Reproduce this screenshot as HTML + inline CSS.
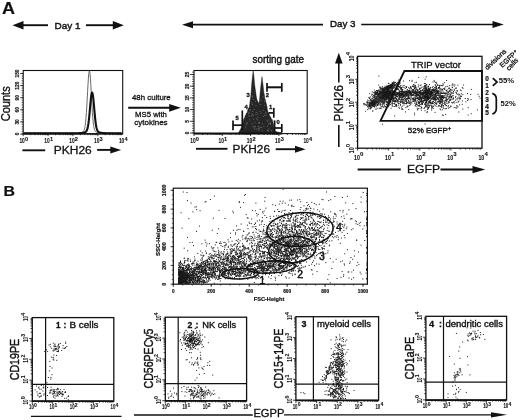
<!DOCTYPE html>
<html><head><meta charset="utf-8"><title>Figure</title>
<style>html,body{margin:0;padding:0;background:#fff;}svg{display:block}text{font-family:"Liberation Sans",Arial,sans-serif;}</style>
</head><body>
<svg width="520" height="420" viewBox="0 0 520 420">
<rect x="0" y="0" width="520" height="420" fill="#fff"/>
<text x="2" y="13.8" font-size="17.3" text-anchor="start" font-weight="bold" fill="#111"  textLength="13" lengthAdjust="spacingAndGlyphs" stroke="#111" stroke-width="0.2">A</text>
<line x1="48" y1="25.2" x2="22" y2="25.2" stroke="#111" stroke-width="1.9"/>
<polygon points="12.5,25.2 23.5,21 23.5,29.4" fill="#111"/>
<line x1="86" y1="25.2" x2="114" y2="25.2" stroke="#111" stroke-width="1.9"/>
<polygon points="123.8,25.2 112.8,21 112.8,29.4" fill="#111"/>
<text x="54.5" y="28.6" font-size="9.5" text-anchor="start" font-weight="normal" fill="#111"  textLength="26" lengthAdjust="spacingAndGlyphs" stroke="#111" stroke-width="0.4">Day 1</text>
<line x1="323" y1="24.6" x2="191" y2="24.6" stroke="#111" stroke-width="1.6"/>
<polygon points="182,24.8 193,21.3 193,28.3" fill="#111"/>
<line x1="361.2" y1="24.5" x2="494" y2="24.5" stroke="#111" stroke-width="1.6"/>
<polygon points="503.8,24.5 492.5,21 492.5,28" fill="#111"/>
<text x="330" y="27.2" font-size="9.5" text-anchor="start" font-weight="normal" fill="#111"  textLength="25.5" lengthAdjust="spacingAndGlyphs" stroke="#111" stroke-width="0.4">Day 3</text>
<rect x="23.2" y="70.5" width="99.5" height="63.30000000000001" stroke="#111" stroke-width="1.1" fill="none"/>
<line x1="23.2" y1="133.8" x2="122.7" y2="133.8" stroke="#111" stroke-width="1.2"/>
<path d="M23.20 133.8v2.4M30.69 133.8v1.4M35.07 133.8v1.4M38.18 133.8v1.4M40.59 133.8v1.4M42.56 133.8v1.4M44.22 133.8v1.4M45.66 133.8v1.4M46.94 133.8v1.4M48.08 133.8v2.4M55.56 133.8v1.4M59.94 133.8v1.4M63.05 133.8v1.4M65.46 133.8v1.4M67.43 133.8v1.4M69.10 133.8v1.4M70.54 133.8v1.4M71.81 133.8v1.4M72.95 133.8v2.4M80.44 133.8v1.4M84.82 133.8v1.4M87.93 133.8v1.4M90.34 133.8v1.4M92.31 133.8v1.4M93.97 133.8v1.4M95.41 133.8v1.4M96.69 133.8v1.4M97.83 133.8v2.4M105.31 133.8v1.4M109.69 133.8v1.4M112.80 133.8v1.4M115.21 133.8v1.4M117.18 133.8v1.4M118.85 133.8v1.4M120.29 133.8v1.4M121.56 133.8v1.4" stroke="#111" stroke-width="0.8" fill="none"/>
<text x="19.4" y="143.4" font-size="6.6" font-weight="bold" fill="#111" stroke="#111" stroke-width="0.08" textLength="5.4" lengthAdjust="spacingAndGlyphs">10</text>
<text x="25.0" y="140.8" font-size="5.6" font-weight="bold" fill="#111" stroke="#111" stroke-width="0.1">0</text>
<text x="44.3" y="143.4" font-size="6.6" font-weight="bold" fill="#111" stroke="#111" stroke-width="0.08" textLength="5.4" lengthAdjust="spacingAndGlyphs">10</text>
<text x="49.9" y="140.8" font-size="5.6" font-weight="bold" fill="#111" stroke="#111" stroke-width="0.1">1</text>
<text x="69.2" y="143.4" font-size="6.6" font-weight="bold" fill="#111" stroke="#111" stroke-width="0.08" textLength="5.4" lengthAdjust="spacingAndGlyphs">10</text>
<text x="74.8" y="140.8" font-size="5.6" font-weight="bold" fill="#111" stroke="#111" stroke-width="0.1">2</text>
<text x="94.0" y="143.4" font-size="6.6" font-weight="bold" fill="#111" stroke="#111" stroke-width="0.08" textLength="5.4" lengthAdjust="spacingAndGlyphs">10</text>
<text x="99.6" y="140.8" font-size="5.6" font-weight="bold" fill="#111" stroke="#111" stroke-width="0.1">3</text>
<text x="118.9" y="143.4" font-size="6.6" font-weight="bold" fill="#111" stroke="#111" stroke-width="0.08" textLength="5.4" lengthAdjust="spacingAndGlyphs">10</text>
<text x="124.5" y="140.8" font-size="5.6" font-weight="bold" fill="#111" stroke="#111" stroke-width="0.1">4</text>
<line x1="23.2" y1="134.0" x2="20.2" y2="134.0" stroke="#111" stroke-width="0.8"/>
<text x="18.8" y="135.35" font-size="5.8" text-anchor="start" font-weight="bold" fill="#111" transform="rotate(-90 18.8 135.35)"  textLength="2.7" lengthAdjust="spacingAndGlyphs" stroke="#111" stroke-width="0.2">0</text>
<line x1="23.2" y1="121.901" x2="20.2" y2="121.901" stroke="#111" stroke-width="0.8"/>
<text x="18.8" y="124.601" font-size="5.8" text-anchor="start" font-weight="bold" fill="#111" transform="rotate(-90 18.8 124.601)"  textLength="5.4" lengthAdjust="spacingAndGlyphs" stroke="#111" stroke-width="0.2">30</text>
<line x1="23.2" y1="109.80199999999999" x2="20.2" y2="109.80199999999999" stroke="#111" stroke-width="0.8"/>
<text x="18.8" y="112.502" font-size="5.8" text-anchor="start" font-weight="bold" fill="#111" transform="rotate(-90 18.8 112.502)"  textLength="5.4" lengthAdjust="spacingAndGlyphs" stroke="#111" stroke-width="0.2">60</text>
<line x1="23.2" y1="97.703" x2="20.2" y2="97.703" stroke="#111" stroke-width="0.8"/>
<text x="18.8" y="100.403" font-size="5.8" text-anchor="start" font-weight="bold" fill="#111" transform="rotate(-90 18.8 100.403)"  textLength="5.4" lengthAdjust="spacingAndGlyphs" stroke="#111" stroke-width="0.2">90</text>
<line x1="23.2" y1="85.604" x2="20.2" y2="85.604" stroke="#111" stroke-width="0.8"/>
<text x="18.8" y="89.654" font-size="5.8" text-anchor="start" font-weight="bold" fill="#111" transform="rotate(-90 18.8 89.654)"  textLength="8.100000000000001" lengthAdjust="spacingAndGlyphs" stroke="#111" stroke-width="0.2">120</text>
<line x1="23.2" y1="73.50500000000001" x2="20.2" y2="73.50500000000001" stroke="#111" stroke-width="0.8"/>
<text x="18.8" y="77.555" font-size="5.8" text-anchor="start" font-weight="bold" fill="#111" transform="rotate(-90 18.8 77.555)"  textLength="8.100000000000001" lengthAdjust="spacingAndGlyphs" stroke="#111" stroke-width="0.2">150</text>
<line x1="23.2" y1="134.0" x2="21.599999999999998" y2="134.0" stroke="#111" stroke-width="0.6"/>
<line x1="23.2" y1="131.5802" x2="21.599999999999998" y2="131.5802" stroke="#111" stroke-width="0.6"/>
<line x1="23.2" y1="129.1604" x2="21.599999999999998" y2="129.1604" stroke="#111" stroke-width="0.6"/>
<line x1="23.2" y1="126.7406" x2="21.599999999999998" y2="126.7406" stroke="#111" stroke-width="0.6"/>
<line x1="23.2" y1="124.3208" x2="21.599999999999998" y2="124.3208" stroke="#111" stroke-width="0.6"/>
<line x1="23.2" y1="121.901" x2="21.599999999999998" y2="121.901" stroke="#111" stroke-width="0.6"/>
<line x1="23.2" y1="119.4812" x2="21.599999999999998" y2="119.4812" stroke="#111" stroke-width="0.6"/>
<line x1="23.2" y1="117.06139999999999" x2="21.599999999999998" y2="117.06139999999999" stroke="#111" stroke-width="0.6"/>
<line x1="23.2" y1="114.6416" x2="21.599999999999998" y2="114.6416" stroke="#111" stroke-width="0.6"/>
<line x1="23.2" y1="112.2218" x2="21.599999999999998" y2="112.2218" stroke="#111" stroke-width="0.6"/>
<line x1="23.2" y1="109.80199999999999" x2="21.599999999999998" y2="109.80199999999999" stroke="#111" stroke-width="0.6"/>
<line x1="23.2" y1="107.3822" x2="21.599999999999998" y2="107.3822" stroke="#111" stroke-width="0.6"/>
<line x1="23.2" y1="104.9624" x2="21.599999999999998" y2="104.9624" stroke="#111" stroke-width="0.6"/>
<line x1="23.2" y1="102.5426" x2="21.599999999999998" y2="102.5426" stroke="#111" stroke-width="0.6"/>
<line x1="23.2" y1="100.1228" x2="21.599999999999998" y2="100.1228" stroke="#111" stroke-width="0.6"/>
<line x1="23.2" y1="97.703" x2="21.599999999999998" y2="97.703" stroke="#111" stroke-width="0.6"/>
<line x1="23.2" y1="95.2832" x2="21.599999999999998" y2="95.2832" stroke="#111" stroke-width="0.6"/>
<line x1="23.2" y1="92.8634" x2="21.599999999999998" y2="92.8634" stroke="#111" stroke-width="0.6"/>
<line x1="23.2" y1="90.4436" x2="21.599999999999998" y2="90.4436" stroke="#111" stroke-width="0.6"/>
<line x1="23.2" y1="88.0238" x2="21.599999999999998" y2="88.0238" stroke="#111" stroke-width="0.6"/>
<line x1="23.2" y1="85.604" x2="21.599999999999998" y2="85.604" stroke="#111" stroke-width="0.6"/>
<line x1="23.2" y1="83.1842" x2="21.599999999999998" y2="83.1842" stroke="#111" stroke-width="0.6"/>
<line x1="23.2" y1="80.7644" x2="21.599999999999998" y2="80.7644" stroke="#111" stroke-width="0.6"/>
<line x1="23.2" y1="78.3446" x2="21.599999999999998" y2="78.3446" stroke="#111" stroke-width="0.6"/>
<line x1="23.2" y1="75.9248" x2="21.599999999999998" y2="75.9248" stroke="#111" stroke-width="0.6"/>
<line x1="23.2" y1="73.505" x2="21.599999999999998" y2="73.505" stroke="#111" stroke-width="0.6"/>
<text x="10" y="121.3" font-size="12" text-anchor="start" font-weight="normal" fill="#111" transform="rotate(-90 10 121.3)"  textLength="35" lengthAdjust="spacingAndGlyphs" stroke="#111" stroke-width="0.35">Counts</text>
<path d="M24.0 133.0 L24.4 133.0 L24.8 133.0 L25.2 133.0 L25.6 133.0 L26.0 133.0 L26.4 133.0 L26.8 133.0 L27.2 133.0 L27.6 133.0 L28.0 133.0 L28.4 133.0 L28.8 133.0 L29.2 133.0 L29.6 133.0 L30.0 133.0 L30.4 133.0 L30.8 133.0 L31.2 133.0 L31.6 133.0 L32.0 133.0 L32.4 133.0 L32.8 133.0 L33.2 133.0 L33.6 133.0 L34.0 133.0 L34.4 133.0 L34.8 133.0 L35.2 133.0 L35.6 133.0 L36.0 133.0 L36.4 133.0 L36.8 133.0 L37.2 133.0 L37.6 133.0 L38.0 133.0 L38.4 133.0 L38.8 133.0 L39.2 133.0 L39.6 133.0 L40.0 133.0 L40.4 133.0 L40.8 133.0 L41.2 133.0 L41.6 133.0 L42.0 133.0 L42.4 133.0 L42.8 133.0 L43.2 133.0 L43.6 133.0 L44.0 133.0 L44.4 133.0 L44.8 133.0 L45.2 133.0 L45.6 133.0 L46.0 133.0 L46.4 133.0 L46.8 133.0 L47.2 133.0 L47.6 133.0 L48.0 133.0 L48.4 133.0 L48.8 133.0 L49.2 133.0 L49.6 133.0 L50.0 133.0 L50.4 133.0 L50.8 133.0 L51.2 133.0 L51.6 133.0 L52.0 133.0 L52.4 133.0 L52.8 133.0 L53.2 133.0 L53.6 133.0 L54.0 133.0 L54.4 133.0 L54.8 133.0 L55.2 133.0 L55.6 133.0 L56.0 133.0 L56.4 133.0 L56.8 133.0 L57.2 133.0 L57.6 133.0 L58.0 133.0 L58.4 133.0 L58.8 133.0 L59.2 133.0 L59.6 133.0 L60.0 133.0 L60.4 133.0 L60.8 133.0 L61.2 133.0 L61.6 133.0 L62.0 133.0 L62.4 133.0 L62.8 133.0 L63.2 133.0 L63.6 133.0 L64.0 133.0 L64.4 133.0 L64.8 133.0 L65.2 133.0 L65.6 133.0 L66.0 133.0 L66.4 133.0 L66.8 133.0 L67.2 133.0 L67.6 133.0 L68.0 133.0 L68.4 133.0 L68.8 133.0 L69.2 133.0 L69.6 133.0 L70.0 133.0 L70.4 133.0 L70.8 133.0 L71.2 133.0 L71.6 133.0 L72.0 133.0 L72.4 133.0 L72.8 133.0 L73.2 133.0 L73.6 133.0 L74.0 133.0 L74.4 133.0 L74.8 133.0 L75.2 133.0 L75.6 133.0 L76.0 133.0 L76.4 133.0 L76.8 133.0 L77.2 133.0 L77.6 133.0 L78.0 132.9 L78.4 132.9 L78.8 132.9 L79.2 132.9 L79.6 132.8 L80.0 132.8 L80.4 132.8 L80.8 132.7 L81.2 132.6 L81.6 132.5 L82.0 132.4 L82.4 132.2 L82.8 132.0 L83.2 131.7 L83.6 131.2 L84.0 130.5 L84.4 129.4 L84.8 127.7 L85.2 125.4 L85.6 122.2 L86.0 117.9 L86.4 112.6 L86.8 106.2 L87.2 99.1 L87.6 91.6 L88.0 84.4 L88.4 78.2 L88.8 73.6 L89.2 71.1 L89.6 71.1 L90.0 73.6 L90.4 78.2 L90.8 84.4 L91.2 91.6 L91.6 99.1 L92.0 106.2 L92.4 112.6 L92.8 117.9 L93.2 122.2 L93.6 125.4 L94.0 127.7 L94.4 129.4 L94.8 130.5 L95.2 131.2 L95.6 131.7 L96.0 132.0 L96.4 132.2 L96.8 132.4 L97.2 132.5 L97.6 132.6 L98.0 132.7 L98.4 132.8 L98.8 132.8 L99.2 132.8 L99.6 132.9 L100.0 132.9 L100.4 132.9 L100.8 132.9 L101.2 133.0 L101.6 133.0 L102.0 133.0 L102.4 133.0 L102.8 133.0 L103.2 133.0 L103.6 133.0 L104.0 133.0 L104.4 133.0 L104.8 133.0 L105.2 133.0 L105.6 133.0 L106.0 133.0 L106.4 133.0 L106.8 133.0 L107.2 133.0 L107.6 133.0 L108.0 133.0 L108.4 133.0 L108.8 133.0 L109.2 133.0 L109.6 133.0 L110.0 133.0 L110.4 133.0 L110.8 133.0 L111.2 133.0 L111.6 133.0 L112.0 133.0 L112.4 133.0 L112.8 133.0 L113.2 133.0 L113.6 133.0 L114.0 133.0 L114.4 133.0 L114.8 133.0 L115.2 133.0 L115.6 133.0 L116.0 133.0 L116.4 133.0 L116.8 133.0 L117.2 133.0 L117.6 133.0 L118.0 133.0 L118.4 133.0 L118.8 133.0 L119.2 133.0 L119.6 133.0 L120.0 133.0 L120.4 133.0 L120.8 133.0 L121.2 133.0 L121.6 133.0" stroke="#666" stroke-width="1" fill="none"/>
<path d="M24.0 133.2 L24.4 133.2 L24.8 133.2 L25.2 133.2 L25.6 133.2 L26.0 133.2 L26.4 133.2 L26.8 133.2 L27.2 133.2 L27.6 133.2 L28.0 133.2 L28.4 133.2 L28.8 133.2 L29.2 133.2 L29.6 133.2 L30.0 133.2 L30.4 133.2 L30.8 133.2 L31.2 133.2 L31.6 133.2 L32.0 133.2 L32.4 133.2 L32.8 133.2 L33.2 133.2 L33.6 133.2 L34.0 133.2 L34.4 133.2 L34.8 133.2 L35.2 133.2 L35.6 133.2 L36.0 133.2 L36.4 133.2 L36.8 133.2 L37.2 133.2 L37.6 133.2 L38.0 133.2 L38.4 133.2 L38.8 133.2 L39.2 133.2 L39.6 133.2 L40.0 133.2 L40.4 133.2 L40.8 133.2 L41.2 133.2 L41.6 133.2 L42.0 133.2 L42.4 133.2 L42.8 133.2 L43.2 133.2 L43.6 133.2 L44.0 133.2 L44.4 133.2 L44.8 133.2 L45.2 133.2 L45.6 133.2 L46.0 133.2 L46.4 133.2 L46.8 133.2 L47.2 133.2 L47.6 133.2 L48.0 133.2 L48.4 133.2 L48.8 133.2 L49.2 133.2 L49.6 133.2 L50.0 133.2 L50.4 133.2 L50.8 133.2 L51.2 133.2 L51.6 133.2 L52.0 133.2 L52.4 133.2 L52.8 133.2 L53.2 133.2 L53.6 133.2 L54.0 133.2 L54.4 133.2 L54.8 133.2 L55.2 133.2 L55.6 133.2 L56.0 133.2 L56.4 133.2 L56.8 133.2 L57.2 133.2 L57.6 133.2 L58.0 133.2 L58.4 133.2 L58.8 133.2 L59.2 133.2 L59.6 133.2 L60.0 133.2 L60.4 133.2 L60.8 133.2 L61.2 133.2 L61.6 133.2 L62.0 133.2 L62.4 133.2 L62.8 133.2 L63.2 133.2 L63.6 133.2 L64.0 133.2 L64.4 133.2 L64.8 133.2 L65.2 133.2 L65.6 133.2 L66.0 133.2 L66.4 133.2 L66.8 133.2 L67.2 133.2 L67.6 133.2 L68.0 133.2 L68.4 133.2 L68.8 133.2 L69.2 133.2 L69.6 133.2 L70.0 133.2 L70.4 133.2 L70.8 133.2 L71.2 133.2 L71.6 133.2 L72.0 133.2 L72.4 133.2 L72.8 133.2 L73.2 133.2 L73.6 133.2 L74.0 133.2 L74.4 133.2 L74.8 133.2 L75.2 133.2 L75.6 133.2 L76.0 133.2 L76.4 133.2 L76.8 133.2 L77.2 133.2 L77.6 133.2 L78.0 133.2 L78.4 133.2 L78.8 133.2 L79.2 133.2 L79.6 133.1 L80.0 133.1 L80.4 133.1 L80.8 133.1 L81.2 133.0 L81.6 133.0 L82.0 133.0 L82.4 132.9 L82.8 132.9 L83.2 132.8 L83.6 132.7 L84.0 132.6 L84.4 132.5 L84.8 132.4 L85.2 132.2 L85.6 131.9 L86.0 131.6 L86.4 131.1 L86.8 130.4 L87.2 129.5 L87.6 128.1 L88.0 126.2 L88.4 123.7 L88.8 120.7 L89.2 117.0 L89.6 112.8 L90.0 108.2 L90.4 103.7 L90.8 99.5 L91.2 96.0 L91.6 93.6 L92.0 92.5 L92.4 92.9 L92.8 94.7 L93.2 97.7 L93.6 101.5 L94.0 106.0 L94.4 110.5 L94.8 114.9 L95.2 118.9 L95.6 122.3 L96.0 125.0 L96.4 127.2 L96.8 128.8 L97.2 130.0 L97.6 130.8 L98.0 131.4 L98.4 131.8 L98.8 132.1 L99.2 132.3 L99.6 132.4 L100.0 132.6 L100.4 132.7 L100.8 132.8 L101.2 132.8 L101.6 132.9 L102.0 132.9 L102.4 133.0 L102.8 133.0 L103.2 133.1 L103.6 133.1 L104.0 133.1 L104.4 133.1 L104.8 133.1 L105.2 133.2 L105.6 133.2 L106.0 133.2 L106.4 133.2 L106.8 133.2 L107.2 133.2 L107.6 133.2 L108.0 133.2 L108.4 133.2 L108.8 133.2 L109.2 133.2 L109.6 133.2 L110.0 133.2 L110.4 133.2 L110.8 133.2 L111.2 133.2 L111.6 133.2 L112.0 133.2 L112.4 133.2 L112.8 133.2 L113.2 133.2 L113.6 133.2 L114.0 133.2 L114.4 133.2 L114.8 133.2 L115.2 133.2 L115.6 133.2 L116.0 133.2 L116.4 133.2 L116.8 133.2 L117.2 133.2 L117.6 133.2 L118.0 133.2 L118.4 133.2 L118.8 133.2 L119.2 133.2 L119.6 133.2 L120.0 133.2 L120.4 133.2 L120.8 133.2 L121.2 133.2 L121.6 133.2" stroke="#111" stroke-width="2.1" fill="none" stroke-linejoin="round"/>
<line x1="22.4" y1="150.3" x2="45.2" y2="150.3" stroke="#111" stroke-width="1.9"/>
<text x="53.8" y="153.7" font-size="11.7" text-anchor="start" font-weight="normal" fill="#111"  textLength="38" lengthAdjust="spacingAndGlyphs" stroke="#111" stroke-width="0.3">PKH26</text>
<line x1="97.2" y1="149.9" x2="112" y2="149.9" stroke="#111" stroke-width="1.9"/>
<polygon points="121.2,149.9 110.3,146.4 110.3,153.4" fill="#111"/>
<text x="132" y="99.8" font-size="7.8" text-anchor="start" font-weight="normal" fill="#111"  textLength="38.7" lengthAdjust="spacingAndGlyphs" stroke="#111" stroke-width="0.3">48h culture</text>
<line x1="128.2" y1="107.8" x2="171" y2="107.8" stroke="#111" stroke-width="1.9"/>
<polygon points="180.8,107.8 169.2,103.9 169.2,111.7" fill="#111"/>
<text x="135.1" y="116.8" font-size="7.8" text-anchor="start" font-weight="normal" fill="#111"  textLength="31.8" lengthAdjust="spacingAndGlyphs" stroke="#111" stroke-width="0.3">MS5 with</text>
<text x="134.3" y="124.5" font-size="7.8" text-anchor="start" font-weight="normal" fill="#111"  textLength="33.3" lengthAdjust="spacingAndGlyphs" stroke="#111" stroke-width="0.3">cytokines</text>
<path d="M238.4 133.4 L238.4 133.0 L238.9 132.0 L239.5 131.0 L240.0 130.0 L240.5 129.2 L241.0 128.3 L241.5 127.2 L242.0 126.6 L242.5 123.9 L243.0 123.4 L243.5 119.6 L244.0 118.6 L244.5 118.1 L244.9 116.7 L245.4 114.9 L245.8 115.3 L246.3 113.0 L246.7 113.3 L247.2 112.3 L247.7 109.9 L248.2 108.5 L248.6 108.1 L249.1 107.9 L249.6 105.2 L250.2 100.0 L250.8 96.5 L251.6 85.0 L252.1 80.0 L252.6 75.0 L253.2 70.8 L253.8 75.0 L254.7 85.0 L255.2 88.7 L255.7 91.8 L256.2 96.0 L256.7 98.3 L257.3 100.8 L257.8 101.3 L258.4 102.4 L258.9 104.0 L259.5 100.2 L260.1 93.0 L260.6 88.0 L261.2 83.0 L262.0 76.6 L262.8 83.0 L263.4 88.0 L263.9 93.0 L264.3 94.1 L264.8 98.6 L265.2 99.0 L265.7 101.5 L266.2 103.2 L266.8 105.6 L267.3 108.7 L267.9 111.4 L268.4 113.7 L268.9 112.9 L269.5 115.2 L270.0 116.4 L270.5 116.8 L271.0 117.8 L271.5 119.4 L271.9 119.0 L272.4 120.0 L272.9 122.1 L273.5 124.5 L274.0 128.0 L274.6 131.0 L275.1 131.2 L275.6 131.3 L276.1 131.5 L276.6 131.7 L277.1 131.8 L277.6 132.0 L278.1 132.1 L278.6 132.3 L279.1 132.4 L279.6 132.5 L280.1 132.6 L280.5 132.7 L281.0 132.8 L281.5 132.9 L282.0 133.0 L282 133.4Z" fill="#262626" stroke="#1a1a1a" stroke-width="0.4"/>
<path d="M262.8 110.4h0.9M251.1 116.1h0.9M255.5 105.8h0.9M266.4 120.2h0.9M248.8 115.7h0.9M257.8 126.5h0.9M264.3 105.4h0.9M254.4 122.3h0.9M265.5 115.6h0.9M263.2 116.4h0.9M259.6 111.4h0.9M267.9 129.0h0.9M256.2 118.9h0.9M261.7 130.8h0.9M253.3 119.1h0.9M253.5 126.4h0.9M258.6 126.8h0.9M267.2 126.1h0.9M249.9 110.0h0.9M252.5 126.8h0.9M248.5 112.5h0.9M259.9 104.5h0.9M252.8 115.4h0.9M257.5 117.2h0.9M262.6 96.9h0.9M269.8 123.1h0.9M269.0 123.7h0.9M253.6 109.4h0.9M251.9 96.9h0.9M260.7 100.3h0.9M252.7 99.4h0.9M268.2 130.8h0.9M255.9 112.4h0.9M252.0 104.5h0.9M257.9 130.2h0.9M268.6 120.1h0.9M246.3 122.8h0.9M258.0 123.0h0.9M251.5 103.0h0.9M267.0 130.5h0.9M268.3 124.0h0.9M267.2 121.6h0.9M248.3 113.6h0.9M252.4 96.0h0.9M249.3 119.9h0.9M271.0 130.6h0.9M261.0 127.4h0.9M261.9 123.8h0.9M270.1 123.2h0.9M265.0 112.2h0.9M246.7 123.4h0.9M251.6 123.8h0.9M253.8 129.1h0.9M264.2 101.1h0.9M270.0 124.0h0.9M245.7 124.8h0.9M252.2 114.8h0.9M257.9 128.6h0.9M254.9 126.4h0.9M248.7 116.1h0.9M249.3 110.1h0.9M245.2 127.8h0.9M252.3 111.5h0.9M259.7 127.6h0.9M254.5 128.0h0.9M257.1 114.1h0.9M255.1 101.6h0.9M264.2 115.0h0.9M251.4 113.7h0.9M258.8 123.2h0.9M265.7 113.3h0.9M259.0 122.4h0.9M260.6 113.2h0.9M257.4 119.9h0.9M255.5 114.2h0.9M256.3 128.9h0.9M263.4 126.6h0.9M258.9 129.0h0.9" stroke="#777" stroke-width="0.9" fill="none" opacity="1"/>
<rect x="194" y="70.5" width="113.19999999999999" height="63.099999999999994" stroke="#111" stroke-width="1.1" fill="none"/>
<line x1="194" y1="133.4" x2="282" y2="133.4" stroke="#111" stroke-width="2"/>
<path d="M194.00 133.6v2.4M202.52 133.6v1.4M207.50 133.6v1.4M211.04 133.6v1.4M213.78 133.6v1.4M216.02 133.6v1.4M217.92 133.6v1.4M219.56 133.6v1.4M221.01 133.6v1.4M222.30 133.6v2.4M230.82 133.6v1.4M235.80 133.6v1.4M239.34 133.6v1.4M242.08 133.6v1.4M244.32 133.6v1.4M246.22 133.6v1.4M247.86 133.6v1.4M249.31 133.6v1.4M250.60 133.6v2.4M259.12 133.6v1.4M264.10 133.6v1.4M267.64 133.6v1.4M270.38 133.6v1.4M272.62 133.6v1.4M274.52 133.6v1.4M276.16 133.6v1.4M277.61 133.6v1.4M278.90 133.6v2.4M287.42 133.6v1.4M292.40 133.6v1.4M295.94 133.6v1.4M298.68 133.6v1.4M300.92 133.6v1.4M302.82 133.6v1.4M304.46 133.6v1.4M305.91 133.6v1.4" stroke="#111" stroke-width="0.8" fill="none"/>
<text x="190.2" y="143.4" font-size="6.6" font-weight="bold" fill="#111" stroke="#111" stroke-width="0.08" textLength="5.4" lengthAdjust="spacingAndGlyphs">10</text>
<text x="195.8" y="140.8" font-size="5.6" font-weight="bold" fill="#111" stroke="#111" stroke-width="0.1">0</text>
<text x="218.5" y="143.4" font-size="6.6" font-weight="bold" fill="#111" stroke="#111" stroke-width="0.08" textLength="5.4" lengthAdjust="spacingAndGlyphs">10</text>
<text x="224.1" y="140.8" font-size="5.6" font-weight="bold" fill="#111" stroke="#111" stroke-width="0.1">1</text>
<text x="246.8" y="143.4" font-size="6.6" font-weight="bold" fill="#111" stroke="#111" stroke-width="0.08" textLength="5.4" lengthAdjust="spacingAndGlyphs">10</text>
<text x="252.4" y="140.8" font-size="5.6" font-weight="bold" fill="#111" stroke="#111" stroke-width="0.1">2</text>
<text x="275.1" y="143.4" font-size="6.6" font-weight="bold" fill="#111" stroke="#111" stroke-width="0.08" textLength="5.4" lengthAdjust="spacingAndGlyphs">10</text>
<text x="280.7" y="140.8" font-size="5.6" font-weight="bold" fill="#111" stroke="#111" stroke-width="0.1">3</text>
<text x="303.4" y="143.4" font-size="6.6" font-weight="bold" fill="#111" stroke="#111" stroke-width="0.08" textLength="5.4" lengthAdjust="spacingAndGlyphs">10</text>
<text x="309.0" y="140.8" font-size="5.6" font-weight="bold" fill="#111" stroke="#111" stroke-width="0.1">4</text>
<line x1="194" y1="133.0" x2="189.8" y2="133.0" stroke="#111" stroke-width="0.8"/>
<text x="188.8" y="134.35" font-size="5.8" text-anchor="start" font-weight="bold" fill="#111" transform="rotate(-90 188.8 134.35)"  textLength="2.7" lengthAdjust="spacingAndGlyphs" stroke="#111" stroke-width="0.2">0</text>
<line x1="194" y1="121.3" x2="189.8" y2="121.3" stroke="#111" stroke-width="0.8"/>
<text x="188.8" y="122.64999999999999" font-size="5.8" text-anchor="start" font-weight="bold" fill="#111" transform="rotate(-90 188.8 122.64999999999999)"  textLength="2.7" lengthAdjust="spacingAndGlyphs" stroke="#111" stroke-width="0.2">5</text>
<line x1="194" y1="109.6" x2="189.8" y2="109.6" stroke="#111" stroke-width="0.8"/>
<text x="188.8" y="112.3" font-size="5.8" text-anchor="start" font-weight="bold" fill="#111" transform="rotate(-90 188.8 112.3)"  textLength="5.4" lengthAdjust="spacingAndGlyphs" stroke="#111" stroke-width="0.2">10</text>
<line x1="194" y1="97.9" x2="189.8" y2="97.9" stroke="#111" stroke-width="0.8"/>
<text x="188.8" y="100.60000000000001" font-size="5.8" text-anchor="start" font-weight="bold" fill="#111" transform="rotate(-90 188.8 100.60000000000001)"  textLength="5.4" lengthAdjust="spacingAndGlyphs" stroke="#111" stroke-width="0.2">15</text>
<line x1="194" y1="86.2" x2="189.8" y2="86.2" stroke="#111" stroke-width="0.8"/>
<text x="188.8" y="88.9" font-size="5.8" text-anchor="start" font-weight="bold" fill="#111" transform="rotate(-90 188.8 88.9)"  textLength="5.4" lengthAdjust="spacingAndGlyphs" stroke="#111" stroke-width="0.2">20</text>
<line x1="194" y1="74.5" x2="189.8" y2="74.5" stroke="#111" stroke-width="0.8"/>
<text x="188.8" y="77.2" font-size="5.8" text-anchor="start" font-weight="bold" fill="#111" transform="rotate(-90 188.8 77.2)"  textLength="5.4" lengthAdjust="spacingAndGlyphs" stroke="#111" stroke-width="0.2">25</text>
<line x1="194" y1="133.0" x2="192" y2="133.0" stroke="#111" stroke-width="0.6"/>
<line x1="194" y1="130.66" x2="192" y2="130.66" stroke="#111" stroke-width="0.6"/>
<line x1="194" y1="128.32" x2="192" y2="128.32" stroke="#111" stroke-width="0.6"/>
<line x1="194" y1="125.98" x2="192" y2="125.98" stroke="#111" stroke-width="0.6"/>
<line x1="194" y1="123.64" x2="192" y2="123.64" stroke="#111" stroke-width="0.6"/>
<line x1="194" y1="121.3" x2="192" y2="121.3" stroke="#111" stroke-width="0.6"/>
<line x1="194" y1="118.96000000000001" x2="192" y2="118.96000000000001" stroke="#111" stroke-width="0.6"/>
<line x1="194" y1="116.62" x2="192" y2="116.62" stroke="#111" stroke-width="0.6"/>
<line x1="194" y1="114.28" x2="192" y2="114.28" stroke="#111" stroke-width="0.6"/>
<line x1="194" y1="111.94" x2="192" y2="111.94" stroke="#111" stroke-width="0.6"/>
<line x1="194" y1="109.6" x2="192" y2="109.6" stroke="#111" stroke-width="0.6"/>
<line x1="194" y1="107.26" x2="192" y2="107.26" stroke="#111" stroke-width="0.6"/>
<line x1="194" y1="104.92" x2="192" y2="104.92" stroke="#111" stroke-width="0.6"/>
<line x1="194" y1="102.58" x2="192" y2="102.58" stroke="#111" stroke-width="0.6"/>
<line x1="194" y1="100.24000000000001" x2="192" y2="100.24000000000001" stroke="#111" stroke-width="0.6"/>
<line x1="194" y1="97.9" x2="192" y2="97.9" stroke="#111" stroke-width="0.6"/>
<line x1="194" y1="95.56" x2="192" y2="95.56" stroke="#111" stroke-width="0.6"/>
<line x1="194" y1="93.22" x2="192" y2="93.22" stroke="#111" stroke-width="0.6"/>
<line x1="194" y1="90.88" x2="192" y2="90.88" stroke="#111" stroke-width="0.6"/>
<line x1="194" y1="88.54" x2="192" y2="88.54" stroke="#111" stroke-width="0.6"/>
<line x1="194" y1="86.2" x2="192" y2="86.2" stroke="#111" stroke-width="0.6"/>
<line x1="194" y1="83.86" x2="192" y2="83.86" stroke="#111" stroke-width="0.6"/>
<line x1="194" y1="81.52000000000001" x2="192" y2="81.52000000000001" stroke="#111" stroke-width="0.6"/>
<line x1="194" y1="79.18" x2="192" y2="79.18" stroke="#111" stroke-width="0.6"/>
<line x1="194" y1="76.84" x2="192" y2="76.84" stroke="#111" stroke-width="0.6"/>
<line x1="194" y1="74.5" x2="192" y2="74.5" stroke="#111" stroke-width="0.6"/>
<line x1="194" y1="72.16" x2="192" y2="72.16" stroke="#111" stroke-width="0.6"/>
<line x1="267" y1="87.3" x2="281.8" y2="87.3" stroke="#111" stroke-width="2"/>
<line x1="267" y1="82.9" x2="267" y2="91.8" stroke="#111" stroke-width="1.7"/>
<line x1="281.8" y1="82.9" x2="281.8" y2="91.8" stroke="#111" stroke-width="1.7"/>
<line x1="233" y1="125.2" x2="242" y2="125.2" stroke="#111" stroke-width="1.7"/>
<line x1="233" y1="120.4" x2="233" y2="130.2" stroke="#111" stroke-width="1.7"/>
<line x1="242.3" y1="110.5" x2="242.3" y2="130" stroke="#111" stroke-width="1.7"/>
<line x1="268.4" y1="112.9" x2="273.8" y2="112.9" stroke="#111" stroke-width="1.7"/>
<line x1="273.8" y1="107.9" x2="273.8" y2="117.7" stroke="#111" stroke-width="1.7"/>
<line x1="274.3" y1="128" x2="281.8" y2="128" stroke="#111" stroke-width="1.7"/>
<line x1="274.6" y1="120.4" x2="274.6" y2="132.5" stroke="#111" stroke-width="1.7"/>
<line x1="281.8" y1="124" x2="281.8" y2="132.5" stroke="#111" stroke-width="1.7"/>
<text x="237.1" y="120.2" font-size="5.8" text-anchor="middle" font-weight="bold" fill="#111"  stroke="#111" stroke-width="0.3">5</text>
<text x="246" y="109" font-size="5.8" text-anchor="middle" font-weight="bold" fill="#111"  stroke="#111" stroke-width="0.3">4</text>
<text x="248.2" y="97" font-size="5.8" text-anchor="middle" font-weight="bold" fill="#111"  stroke="#111" stroke-width="0.3">3</text>
<text x="267.3" y="97.4" font-size="5.8" text-anchor="middle" font-weight="bold" fill="#111"  stroke="#111" stroke-width="0.3">2</text>
<text x="270.5" y="109.3" font-size="5.8" text-anchor="middle" font-weight="bold" fill="#111"  stroke="#111" stroke-width="0.3">1</text>
<text x="278.2" y="124.1" font-size="5.8" text-anchor="middle" font-weight="bold" fill="#111"  stroke="#111" stroke-width="0.3">0</text>
<text x="252.5" y="62.5" font-size="10" text-anchor="start" font-weight="normal" fill="#111"  textLength="51.5" lengthAdjust="spacingAndGlyphs" stroke="#111" stroke-width="0.4">sorting gate</text>
<line x1="196" y1="148.8" x2="227.5" y2="148.8" stroke="#111" stroke-width="1.9"/>
<text x="232.5" y="152.7" font-size="11.7" text-anchor="start" font-weight="normal" fill="#111"  textLength="37.5" lengthAdjust="spacingAndGlyphs" stroke="#111" stroke-width="0.3">PKH26</text>
<line x1="275.7" y1="149.2" x2="297" y2="149.2" stroke="#111" stroke-width="1.9"/>
<polygon points="305.6,149.2 295,145.7 295,152.7" fill="#111"/>
<path d="M388.8 97.6h1.0M383.3 88.7h1.0M386.1 101.2h1.0M378.7 96.8h1.0M392.5 86.5h1.0M383.4 106.6h1.0M374.7 102.9h1.0M392.2 93.2h1.0M384.0 100.3h1.0M374.9 99.7h1.0M382.3 100.6h1.0M380.3 97.3h1.0M374.2 98.9h1.0M386.0 96.4h1.0M375.2 96.6h1.0M397.0 96.4h1.0M384.5 86.2h1.0M384.4 98.5h1.0M390.9 95.8h1.0M380.1 100.2h1.0M368.4 106.6h1.0M382.5 94.5h1.0M388.7 102.2h1.0M371.8 98.6h1.0M382.3 98.1h1.0M378.0 95.0h1.0M393.6 97.3h1.0M373.1 95.4h1.0M391.1 98.0h1.0M391.8 97.0h1.0M375.1 101.0h1.0M367.1 100.0h1.0M380.1 100.2h1.0M376.0 99.2h1.0M383.3 98.4h1.0M384.5 97.4h1.0M378.5 101.9h1.0M380.8 94.6h1.0M376.6 99.4h1.0M379.8 98.9h1.0M380.5 98.7h1.0M379.7 93.3h1.0M383.1 101.2h1.0M383.2 96.2h1.0M383.3 93.1h1.0M368.7 102.6h1.0M374.7 103.1h1.0M373.8 90.0h1.0M374.1 106.7h1.0M378.1 93.4h1.0M375.8 101.8h1.0M383.6 97.6h1.0M389.7 97.4h1.0M380.4 100.4h1.0M390.8 98.1h1.0M386.8 91.3h1.0M379.6 101.2h1.0M378.7 102.9h1.0M384.2 100.2h1.0M379.2 108.6h1.0M388.2 94.3h1.0M381.1 108.1h1.0M378.4 102.3h1.0M386.6 95.8h1.0M373.3 101.4h1.0M382.7 101.7h1.0M385.4 96.3h1.0M385.8 98.2h1.0M381.8 97.7h1.0M379.0 101.3h1.0M374.0 97.9h1.0M380.5 92.2h1.0M377.8 91.0h1.0M376.3 101.8h1.0M384.0 96.5h1.0M379.1 92.9h1.0M391.8 95.9h1.0M387.3 92.0h1.0M379.4 91.2h1.0M385.3 99.9h1.0M368.7 102.2h1.0M384.4 89.5h1.0M369.2 98.0h1.0M376.6 93.9h1.0M380.7 98.9h1.0M384.4 99.3h1.0M389.8 99.2h1.0M372.4 99.0h1.0M373.9 96.1h1.0M380.0 98.2h1.0M383.5 90.6h1.0M372.8 100.8h1.0M379.3 97.2h1.0M380.1 95.1h1.0M384.8 97.8h1.0M380.0 95.5h1.0M379.4 87.6h1.0M374.4 100.4h1.0M371.2 102.3h1.0M381.4 92.2h1.0M378.9 97.3h1.0M383.4 99.4h1.0M380.3 94.7h1.0M379.6 98.1h1.0M385.1 97.5h1.0M376.0 94.3h1.0M378.2 95.9h1.0M373.6 100.1h1.0M377.5 99.5h1.0M383.7 95.2h1.0M394.9 91.4h1.0M387.3 96.0h1.0M387.4 86.0h1.0M375.8 100.7h1.0M384.2 105.9h1.0M382.5 102.4h1.0M385.3 100.0h1.0M383.7 96.2h1.0M383.7 92.5h1.0M387.8 91.2h1.0M382.0 105.9h1.0M379.1 98.6h1.0M387.7 95.4h1.0M375.5 100.9h1.0M384.1 99.5h1.0M375.7 106.8h1.0M390.8 94.2h1.0M382.2 95.7h1.0M389.3 91.9h1.0M384.7 94.5h1.0M376.2 102.5h1.0M388.8 94.9h1.0M376.3 102.8h1.0M380.2 99.4h1.0M389.9 99.0h1.0M377.3 108.3h1.0M380.5 101.1h1.0M376.5 99.3h1.0M369.7 109.1h1.0M389.0 90.0h1.0M371.2 95.0h1.0M387.8 93.5h1.0M380.1 96.9h1.0M379.7 93.9h1.0M380.6 92.2h1.0M380.1 99.4h1.0M383.4 96.0h1.0M374.9 100.7h1.0M377.5 105.4h1.0M385.3 95.8h1.0M377.6 96.3h1.0M374.7 98.7h1.0M382.3 99.4h1.0M384.0 105.1h1.0M376.1 99.7h1.0M397.8 84.1h1.0M377.3 99.9h1.0M381.5 99.3h1.0M379.0 100.0h1.0M380.8 101.0h1.0M368.8 98.8h1.0M380.5 93.9h1.0M374.0 102.9h1.0M376.5 102.0h1.0M385.1 97.5h1.0M383.6 96.4h1.0M371.8 101.1h1.0M383.3 94.8h1.0M379.9 101.2h1.0M375.1 102.6h1.0M392.0 91.5h1.0M381.4 97.1h1.0M390.0 95.7h1.0M386.1 93.2h1.0M380.4 98.0h1.0M369.5 107.8h1.0M386.1 89.0h1.0M385.1 95.8h1.0M383.3 98.4h1.0M371.2 100.6h1.0M389.8 92.3h1.0M374.2 94.9h1.0M372.9 102.1h1.0M391.0 95.8h1.0M382.0 106.3h1.0M377.3 96.5h1.0M383.8 99.0h1.0M374.2 95.7h1.0M382.3 98.3h1.0M372.4 100.2h1.0M377.1 101.1h1.0M379.8 97.9h1.0M378.3 103.0h1.0M389.1 93.3h1.0M385.7 93.0h1.0M380.9 100.8h1.0M389.9 93.0h1.0M380.0 99.0h1.0M371.2 101.5h1.0M376.3 101.0h1.0M373.5 92.7h1.0M380.7 99.0h1.0M377.1 102.8h1.0M378.8 96.2h1.0M383.5 90.7h1.0M376.3 99.5h1.0M385.8 95.4h1.0M382.4 94.7h1.0M382.4 103.9h1.0M376.2 109.0h1.0M376.5 99.5h1.0M381.6 101.7h1.0M372.8 92.5h1.0M384.3 99.8h1.0M384.4 107.0h1.0M381.8 98.5h1.0M386.3 97.3h1.0M390.8 89.2h1.0M378.2 85.1h1.0M385.5 94.6h1.0M386.2 104.5h1.0M380.5 97.0h1.0M377.4 95.8h1.0M376.6 102.0h1.0M380.7 98.2h1.0M379.4 102.0h1.0M383.6 96.3h1.0M384.6 95.9h1.0M373.4 106.4h1.0M383.4 93.1h1.0M387.2 96.9h1.0M370.8 108.0h1.0M382.6 100.8h1.0M381.7 96.9h1.0M370.9 105.4h1.0M380.7 96.8h1.0M382.7 97.5h1.0M384.7 95.0h1.0M380.3 89.6h1.0M377.9 101.7h1.0M388.8 93.5h1.0M379.7 104.6h1.0M378.5 101.7h1.0M390.9 94.3h1.0M388.1 92.3h1.0M381.8 97.2h1.0M381.2 102.2h1.0M395.3 89.9h1.0M376.9 101.3h1.0M374.0 102.4h1.0M384.0 95.6h1.0M383.8 90.6h1.0M385.2 90.1h1.0M376.2 97.4h1.0M378.0 102.3h1.0M381.0 96.2h1.0M383.9 103.0h1.0M380.5 99.4h1.0M388.2 96.2h1.0M372.5 110.9h1.0M394.2 85.0h1.0M380.3 99.8h1.0M386.5 98.4h1.0M378.8 94.4h1.0M381.1 101.9h1.0M373.7 96.4h1.0M380.3 90.3h1.0M378.9 96.9h1.0M383.3 94.2h1.0M375.0 98.5h1.0M380.2 95.5h1.0M380.6 101.0h1.0M387.8 102.1h1.0M375.6 98.1h1.0M365.1 111.3h1.0M376.0 99.5h1.0M383.7 91.4h1.0M383.4 96.8h1.0M369.2 103.4h1.0M387.9 87.8h1.0M385.5 97.0h1.0M383.4 98.7h1.0M388.6 94.1h1.0M385.9 94.4h1.0M385.0 93.1h1.0M379.8 105.1h1.0M383.3 96.3h1.0M373.4 97.5h1.0M381.7 101.3h1.0M383.1 99.1h1.0M380.2 103.5h1.0M378.1 96.7h1.0M386.0 96.2h1.0M378.8 96.3h1.0M378.9 101.1h1.0M382.7 92.4h1.0M383.1 97.7h1.0M374.3 103.4h1.0M378.8 97.3h1.0M385.4 101.4h1.0M376.2 101.3h1.0M375.1 109.2h1.0M377.4 103.9h1.0M376.5 102.7h1.0M394.3 82.8h1.0M377.8 101.0h1.0M379.9 95.6h1.0M393.8 93.4h1.0M370.3 105.2h1.0M369.8 106.5h1.0M376.9 99.9h1.0M388.3 95.6h1.0M371.9 94.4h1.0M387.8 98.2h1.0M375.4 103.3h1.0M383.6 99.4h1.0M366.5 102.0h1.0M386.1 98.9h1.0M386.0 86.2h1.0M381.5 99.6h1.0M396.3 88.3h1.0M378.5 98.9h1.0M386.0 94.2h1.0M387.6 92.2h1.0M382.2 95.3h1.0M381.5 94.9h1.0M370.6 106.0h1.0M382.4 95.1h1.0M381.7 101.5h1.0M374.4 99.8h1.0M383.8 98.9h1.0M378.4 90.4h1.0M388.2 96.4h1.0M380.6 96.9h1.0M382.1 95.7h1.0M374.1 97.4h1.0M376.8 96.9h1.0M373.3 103.2h1.0M372.4 103.6h1.0M374.2 101.7h1.0M389.0 95.6h1.0M376.0 99.9h1.0M381.4 90.8h1.0M376.7 100.0h1.0M377.6 99.4h1.0M385.1 99.4h1.0M386.1 98.3h1.0M378.7 98.6h1.0M378.8 97.4h1.0M379.4 91.5h1.0M378.4 98.7h1.0M374.5 100.1h1.0M383.7 96.2h1.0M393.4 82.8h1.0M379.2 91.2h1.0M386.6 106.3h1.0M365.0 104.3h1.0M383.7 95.6h1.0M383.9 87.8h1.0M385.8 97.5h1.0M380.6 95.6h1.0M384.5 94.6h1.0M381.9 95.5h1.0M366.6 103.0h1.0M381.8 100.5h1.0M375.1 99.9h1.0M384.3 97.2h1.0M388.2 103.1h1.0M374.9 92.4h1.0M385.8 102.1h1.0M386.2 99.1h1.0M376.7 96.6h1.0M386.0 92.3h1.0M369.3 98.2h1.0M396.0 99.9h1.0M376.2 96.7h1.0M381.9 94.5h1.0M388.6 94.7h1.0M373.8 105.7h1.0M376.9 100.2h1.0M380.4 96.8h1.0M382.5 94.5h1.0M369.1 93.4h1.0M372.6 97.9h1.0M380.4 98.3h1.0M383.9 97.2h1.0M375.6 97.0h1.0M367.4 102.2h1.0M383.5 99.0h1.0M379.7 97.6h1.0M386.3 95.9h1.0M385.1 98.6h1.0M381.8 102.7h1.0M376.9 97.9h1.0M375.5 96.7h1.0M390.1 101.4h1.0M380.6 100.2h1.0M387.8 98.5h1.0M388.0 90.2h1.0M376.5 101.3h1.0M389.4 95.1h1.0M375.2 98.6h1.0M376.4 96.1h1.0M389.8 92.1h1.0M380.6 106.6h1.0M387.8 96.6h1.0M376.7 101.0h1.0M390.6 96.8h1.0M388.3 95.5h1.0M383.7 96.0h1.0M383.1 102.2h1.0M371.6 101.0h1.0M382.0 95.2h1.0M378.6 101.8h1.0M392.9 95.9h1.0M382.5 91.1h1.0M392.5 93.9h1.0M380.3 93.6h1.0M380.1 93.8h1.0M380.9 99.7h1.0M380.7 99.0h1.0M375.2 105.7h1.0M376.5 92.3h1.0M379.3 95.4h1.0M374.2 98.9h1.0M382.3 92.6h1.0M379.6 104.0h1.0M384.7 95.8h1.0M381.3 97.2h1.0M380.2 101.0h1.0M379.9 88.6h1.0M380.4 94.5h1.0M384.5 94.1h1.0M381.4 106.3h1.0M374.0 95.9h1.0M371.7 91.7h1.0M368.9 103.8h1.0M376.5 92.0h1.0M371.3 103.9h1.0M375.7 98.3h1.0M382.5 102.6h1.0M392.5 97.6h1.0M381.4 98.4h1.0M391.7 99.5h1.0M378.6 100.5h1.0M382.3 97.5h1.0M377.4 93.9h1.0M377.2 93.1h1.0M388.1 97.3h1.0M373.0 106.3h1.0M386.0 88.3h1.0M391.9 97.0h1.0M393.3 88.3h1.0M383.8 98.5h1.0M381.8 98.2h1.0M387.0 89.6h1.0M372.8 95.3h1.0M377.0 96.9h1.0M382.8 98.2h1.0M380.7 95.2h1.0M377.8 102.8h1.0M385.2 96.6h1.0M378.5 104.9h1.0M376.8 102.0h1.0M387.7 94.3h1.0M385.6 91.7h1.0M386.8 96.5h1.0M370.7 104.3h1.0M375.0 105.2h1.0M376.3 98.9h1.0M382.3 96.0h1.0M382.1 95.2h1.0M384.7 96.5h1.0M381.8 86.5h1.0M387.7 95.5h1.0M369.4 102.5h1.0M383.4 101.2h1.0M373.8 106.7h1.0M379.5 107.9h1.0M379.6 101.0h1.0M378.2 94.4h1.0M387.3 99.1h1.0M390.0 97.9h1.0M376.9 92.7h1.0M376.5 96.8h1.0M375.4 102.2h1.0M382.5 96.2h1.0M381.6 97.0h1.0M381.8 100.5h1.0M386.4 93.1h1.0M371.2 107.2h1.0M381.2 102.1h1.0M370.3 100.5h1.0M380.7 92.2h1.0M377.3 102.1h1.0M387.2 101.9h1.0M375.1 94.4h1.0M383.7 100.5h1.0M381.7 92.4h1.0M385.3 99.4h1.0M383.9 94.8h1.0M382.4 100.5h1.0M377.0 91.9h1.0M382.5 99.2h1.0M380.6 101.5h1.0M376.9 99.0h1.0M378.6 101.0h1.0M390.4 93.3h1.0M393.2 99.4h1.0M385.4 98.5h1.0M391.5 93.2h1.0M379.8 94.0h1.0M383.4 102.3h1.0M383.8 98.5h1.0M379.3 99.1h1.0M371.7 105.5h1.0M378.0 94.5h1.0M375.8 96.4h1.0M385.8 100.2h1.0M372.1 104.8h1.0M386.0 93.6h1.0M371.3 98.4h1.0M376.6 100.8h1.0M378.3 90.7h1.0M381.9 91.4h1.0M386.1 91.1h1.0M376.2 96.2h1.0M377.1 104.4h1.0M385.8 98.4h1.0M382.5 91.1h1.0M377.3 97.0h1.0M374.4 102.3h1.0M375.9 96.9h1.0M374.0 92.2h1.0M384.2 101.9h1.0M381.6 93.7h1.0M363.7 104.9h1.0M388.0 96.4h1.0M386.2 101.8h1.0M387.5 93.6h1.0M387.0 98.7h1.0M371.0 99.9h1.0M371.7 100.8h1.0M384.1 92.4h1.0M367.8 107.9h1.0M382.8 103.0h1.0M372.3 105.3h1.0M393.4 101.2h1.0M379.2 99.6h1.0M379.5 102.3h1.0M386.9 96.0h1.0M372.1 104.1h1.0M377.6 101.6h1.0M382.1 103.9h1.0M387.6 93.6h1.0M382.7 104.2h1.0M377.2 101.0h1.0M387.9 100.3h1.0M383.7 91.5h1.0M372.7 101.9h1.0M382.9 107.3h1.0M375.2 104.5h1.0M385.3 89.6h1.0M375.4 100.5h1.0M377.4 98.5h1.0M383.4 93.7h1.0M383.4 94.4h1.0M377.1 101.4h1.0M376.9 100.5h1.0M390.4 94.4h1.0M379.6 101.3h1.0M378.2 103.2h1.0M372.5 103.4h1.0M377.3 96.0h1.0M391.5 90.5h1.0M391.4 96.6h1.0M389.5 90.8h1.0M387.9 101.0h1.0M379.8 97.8h1.0M395.7 93.1h1.0M377.9 96.5h1.0M383.3 98.3h1.0M381.6 104.4h1.0M378.5 100.6h1.0M389.5 90.6h1.0M386.9 102.9h1.0M372.1 96.7h1.0M374.1 93.0h1.0M383.3 89.6h1.0M383.6 102.6h1.0M370.5 100.5h1.0M368.6 105.5h1.0M375.9 98.6h1.0M380.8 100.0h1.0M378.4 98.9h1.0M377.1 99.7h1.0M373.2 101.0h1.0M368.5 100.5h1.0M392.4 93.9h1.0M372.7 101.9h1.0M374.5 93.7h1.0M375.9 102.6h1.0M382.9 96.7h1.0M374.8 95.8h1.0M388.9 95.9h1.0M374.6 91.8h1.0M372.0 111.0h1.0M373.4 100.3h1.0M381.8 96.9h1.0M378.8 93.2h1.0M374.0 107.1h1.0M375.8 103.1h1.0M370.0 100.8h1.0M382.1 101.5h1.0M373.5 103.0h1.0M382.9 94.2h1.0M383.5 93.3h1.0M375.6 99.8h1.0M363.7 103.8h1.0M374.3 94.5h1.0M377.9 102.0h1.0M378.0 104.0h1.0M373.3 95.4h1.0M390.1 96.0h1.0M386.4 92.5h1.0M385.5 97.2h1.0M384.5 96.6h1.0M388.0 92.6h1.0M374.5 94.3h1.0M387.7 92.4h1.0M374.0 96.7h1.0M377.7 94.0h1.0M378.7 96.2h1.0M377.1 95.4h1.0M380.7 96.1h1.0M381.2 98.7h1.0M382.6 88.5h1.0M377.2 96.1h1.0M385.3 89.9h1.0M376.1 98.5h1.0M378.4 102.7h1.0M377.8 102.9h1.0M371.4 94.2h1.0M388.1 96.9h1.0M383.5 97.4h1.0M383.5 92.0h1.0M386.4 93.7h1.0M386.6 96.1h1.0M368.3 97.4h1.0M387.5 94.9h1.0M378.0 99.9h1.0M377.9 96.8h1.0M381.1 98.3h1.0M389.9 94.7h1.0M392.2 100.9h1.0M391.1 98.3h1.0M381.3 98.2h1.0M379.6 95.4h1.0M380.1 95.6h1.0M390.7 96.4h1.0M377.7 91.4h1.0M380.2 96.5h1.0M373.8 96.0h1.0M366.5 105.4h1.0M380.1 108.4h1.0M380.3 97.5h1.0M389.5 95.2h1.0M381.5 96.1h1.0M376.7 105.4h1.0M386.7 102.5h1.0M378.3 98.9h1.0M375.0 103.9h1.0M371.9 103.5h1.0M387.3 101.1h1.0M374.7 104.5h1.0M376.1 96.6h1.0M372.3 105.6h1.0M390.7 91.8h1.0M375.8 98.4h1.0M396.0 96.2h1.0M377.1 92.1h1.0M376.3 104.3h1.0M392.1 92.6h1.0M376.2 97.6h1.0M368.8 106.0h1.0M373.8 104.7h1.0M369.9 96.9h1.0M382.3 94.3h1.0M385.3 96.2h1.0M373.2 103.2h1.0M385.7 88.4h1.0M391.8 95.8h1.0M385.2 88.8h1.0M376.0 98.3h1.0M387.2 89.7h1.0M375.0 91.9h1.0M379.0 99.9h1.0M370.0 99.5h1.0M383.7 103.1h1.0M384.6 95.3h1.0M373.2 97.0h1.0M376.4 100.1h1.0M380.2 104.8h1.0M382.3 93.1h1.0M390.1 98.2h1.0M381.1 94.9h1.0M368.9 98.2h1.0M386.2 92.7h1.0M372.3 101.8h1.0M382.0 99.9h1.0M384.6 102.1h1.0M375.3 103.8h1.0M374.4 103.0h1.0M381.6 98.6h1.0M386.5 95.7h1.0M387.4 98.9h1.0M381.3 95.4h1.0M375.8 97.6h1.0M379.2 98.4h1.0M399.0 93.7h1.0" stroke="#383838" stroke-width="1.0" fill="none" opacity="1"/>
<path d="M391.8 84.7h1.0M384.4 88.3h1.0M389.0 85.5h1.0M396.1 83.7h1.0M393.4 81.9h1.0M388.0 88.0h1.0M389.0 88.1h1.0M389.4 87.3h1.0M378.5 89.8h1.0M376.3 92.7h1.0M389.5 86.6h1.0M383.9 88.1h1.0M397.2 86.9h1.0M387.7 89.6h1.0M380.1 87.3h1.0M385.6 87.0h1.0M385.2 88.8h1.0M403.1 81.0h1.0M388.2 87.8h1.0M387.8 89.0h1.0M396.9 82.3h1.0M388.8 86.8h1.0M389.8 84.4h1.0M379.2 87.0h1.0M390.6 86.9h1.0M388.4 83.6h1.0M386.1 87.0h1.0M380.9 88.6h1.0M391.5 87.1h1.0M387.9 88.4h1.0M385.0 88.7h1.0M388.2 88.3h1.0M387.7 87.4h1.0M387.3 86.7h1.0M399.2 84.3h1.0M390.1 90.4h1.0M395.0 82.5h1.0M391.5 87.6h1.0M397.4 86.2h1.0M391.9 84.2h1.0M383.6 89.5h1.0M390.5 85.0h1.0M386.1 87.6h1.0M388.3 87.9h1.0M386.6 86.1h1.0M394.2 87.8h1.0M387.5 89.3h1.0M390.2 87.7h1.0M390.4 85.4h1.0M390.9 88.1h1.0M383.5 92.2h1.0M398.4 86.6h1.0M397.9 85.1h1.0M386.3 87.2h1.0M383.9 89.1h1.0M387.8 88.6h1.0M377.9 94.8h1.0M399.4 83.4h1.0M391.4 87.0h1.0M389.4 86.7h1.0M387.4 86.4h1.0M388.9 87.1h1.0M389.6 85.6h1.0M388.2 87.5h1.0M391.0 84.7h1.0M390.1 88.3h1.0M391.0 85.8h1.0M385.5 88.0h1.0M391.6 88.7h1.0M387.2 86.8h1.0M389.9 87.1h1.0M383.5 88.0h1.0M387.5 88.7h1.0M382.0 88.0h1.0M390.5 84.7h1.0M388.5 87.9h1.0M387.4 86.1h1.0M387.7 87.1h1.0M389.7 85.6h1.0M393.5 82.9h1.0M387.1 87.8h1.0M392.8 84.8h1.0M390.7 85.6h1.0M391.7 88.9h1.0M386.0 88.9h1.0M383.4 90.7h1.0M394.1 85.4h1.0M382.3 90.2h1.0M393.7 87.2h1.0M392.1 83.1h1.0M384.6 91.0h1.0M381.9 91.5h1.0M397.4 85.3h1.0M393.6 85.0h1.0M381.9 89.5h1.0M387.0 87.8h1.0M391.5 86.0h1.0M389.0 87.8h1.0M388.0 90.4h1.0M390.2 86.8h1.0M387.0 86.9h1.0M394.7 85.3h1.0M382.6 88.5h1.0M387.3 87.0h1.0M393.4 83.7h1.0M390.5 86.8h1.0M382.1 89.7h1.0M387.5 88.5h1.0M385.7 88.8h1.0M379.7 88.8h1.0M391.9 87.7h1.0M387.9 86.6h1.0M393.4 82.2h1.0M384.0 90.0h1.0M391.3 84.7h1.0M378.6 93.2h1.0M388.8 85.8h1.0M388.3 88.8h1.0M375.0 93.9h1.0M391.7 82.9h1.0M391.9 83.3h1.0M393.7 86.1h1.0M399.3 82.5h1.0M388.0 89.2h1.0M384.8 87.5h1.0M386.1 88.1h1.0M382.6 90.2h1.0M390.7 86.6h1.0M396.5 83.9h1.0M394.5 84.3h1.0M391.8 83.1h1.0M389.0 86.9h1.0M385.5 87.4h1.0M386.3 87.0h1.0M377.0 90.5h1.0M385.3 87.7h1.0M382.7 89.2h1.0M391.9 85.7h1.0M385.5 90.5h1.0M392.9 87.2h1.0M393.8 84.9h1.0M387.4 89.5h1.0M385.2 88.3h1.0M389.9 87.4h1.0M386.6 89.6h1.0M387.1 89.0h1.0M393.4 86.6h1.0M391.7 84.3h1.0M381.4 88.9h1.0M390.4 89.0h1.0M381.9 90.2h1.0M383.7 87.9h1.0M386.6 89.1h1.0M389.1 89.0h1.0M383.1 90.7h1.0M392.7 85.9h1.0M390.4 85.7h1.0M382.6 88.8h1.0M384.8 93.2h1.0M385.6 91.0h1.0M389.0 87.6h1.0M391.7 84.9h1.0M392.6 86.4h1.0M380.4 91.2h1.0M390.8 87.2h1.0M395.9 84.0h1.0M390.6 87.8h1.0M383.5 91.0h1.0M380.7 88.0h1.0M390.6 84.8h1.0M371.7 100.8h1.0M372.2 101.8h1.0M372.9 100.9h1.0M373.1 103.3h1.0M372.2 103.8h1.0M372.3 101.4h1.0M365.6 105.1h1.0M369.7 103.5h1.0M373.1 99.9h1.0M370.1 103.1h1.0M369.4 105.1h1.0M371.6 102.4h1.0M369.5 106.0h1.0M370.4 105.4h1.0M373.1 100.1h1.0M369.3 104.4h1.0M372.9 105.4h1.0M374.0 105.7h1.0M371.1 103.7h1.0M373.9 102.9h1.0M374.6 100.5h1.0M373.6 103.4h1.0M367.1 106.7h1.0M372.8 103.9h1.0M369.3 103.5h1.0M375.8 101.8h1.0M363.3 103.7h1.0M369.0 104.2h1.0M371.0 102.4h1.0M369.9 106.4h1.0M368.4 108.4h1.0M370.6 102.1h1.0M374.0 104.8h1.0M369.4 105.9h1.0M367.4 102.9h1.0M374.8 103.0h1.0M368.7 105.5h1.0M374.3 103.6h1.0M367.5 104.0h1.0M373.0 105.3h1.0M376.6 102.8h1.0M370.8 104.1h1.0M375.0 101.7h1.0M375.3 98.1h1.0M374.0 102.4h1.0M373.1 105.2h1.0M369.0 104.3h1.0M372.6 105.1h1.0M369.7 102.4h1.0M367.2 109.7h1.0M371.5 103.6h1.0M368.3 106.4h1.0M370.7 107.0h1.0M374.1 103.7h1.0M373.8 101.5h1.0M371.2 103.0h1.0M368.8 104.5h1.0M371.6 106.9h1.0M363.6 104.0h1.0M369.7 103.5h1.0M373.1 104.6h1.0M372.1 103.1h1.0M373.2 104.5h1.0M367.4 104.2h1.0M368.6 102.2h1.0M372.4 104.1h1.0M372.3 102.2h1.0M371.5 102.3h1.0M373.0 105.2h1.0M376.4 105.8h1.0M370.0 103.4h1.0M369.7 105.0h1.0M377.0 104.6h1.0M366.5 102.4h1.0M368.8 105.5h1.0M372.0 104.6h1.0M376.5 101.7h1.0M369.9 108.2h1.0M372.9 102.3h1.0M366.9 101.8h1.0M365.9 105.1h1.0M372.1 105.9h1.0M371.7 102.7h1.0M370.1 108.0h1.0M367.6 105.0h1.0M372.1 105.2h1.0M371.0 105.1h1.0M374.0 103.4h1.0M370.9 103.8h1.0M369.6 104.0h1.0M383.1 96.4h1.0M388.0 97.3h1.0M382.7 97.1h1.0M384.9 97.0h1.0M384.1 96.4h1.0M382.6 95.1h1.0M386.6 97.5h1.0M386.0 96.3h1.0M384.8 95.2h1.0M378.7 97.8h1.0M384.6 95.1h1.0M381.1 98.3h1.0M378.6 99.3h1.0M385.9 99.1h1.0M381.8 96.3h1.0M382.5 96.4h1.0M383.4 95.0h1.0M387.2 94.4h1.0M382.5 97.0h1.0M382.4 95.6h1.0M385.1 95.3h1.0M380.3 96.4h1.0M383.3 98.5h1.0M380.7 97.9h1.0M381.6 95.8h1.0M383.0 96.5h1.0M386.6 98.1h1.0M382.1 98.2h1.0M387.0 96.7h1.0M381.7 97.6h1.0M383.7 96.6h1.0M383.2 97.1h1.0M387.3 97.1h1.0M383.4 97.5h1.0M388.4 94.0h1.0M388.4 93.4h1.0M385.6 96.6h1.0M388.4 95.7h1.0M382.6 95.1h1.0M380.2 97.7h1.0M383.3 95.1h1.0M385.6 94.7h1.0M382.7 95.5h1.0M389.0 97.3h1.0M383.5 93.8h1.0M384.8 96.0h1.0M385.0 96.7h1.0M383.0 97.5h1.0M386.5 95.9h1.0M382.8 95.5h1.0M386.1 94.1h1.0M383.5 95.0h1.0M379.8 97.5h1.0M383.9 96.1h1.0M386.6 93.5h1.0M383.8 96.4h1.0M386.5 94.1h1.0M386.1 96.0h1.0M388.1 97.0h1.0M385.6 98.8h1.0M449.1 100.6h1.0M416.9 98.4h1.0M425.6 91.6h1.0M424.9 92.4h1.0M453.1 91.6h1.0M414.7 91.1h1.0M406.5 98.9h1.0M428.3 104.7h1.0M432.0 95.5h1.0M447.8 91.3h1.0M386.6 90.1h1.0M402.1 97.6h1.0M415.1 101.1h1.0M425.1 100.3h1.0M403.6 101.3h1.0M422.9 93.7h1.0M408.8 90.3h1.0M417.5 105.9h1.0M413.3 90.4h1.0M436.3 97.4h1.0M399.9 93.3h1.0M386.7 95.2h1.0M436.4 93.3h1.0M404.6 97.0h1.0M391.4 96.8h1.0M425.2 96.0h1.0M432.0 103.4h1.0M405.5 95.0h1.0M392.4 95.2h1.0M424.7 91.0h1.0M445.1 93.5h1.0M390.1 92.1h1.0M418.1 98.8h1.0M412.1 91.6h1.0M434.3 94.4h1.0M439.1 87.6h1.0M392.1 98.5h1.0M408.2 91.2h1.0M420.6 96.1h1.0M429.5 88.6h1.0M449.4 107.6h1.0M406.0 87.6h1.0M397.2 93.8h1.0M427.8 99.2h1.0M441.6 97.4h1.0M392.4 96.9h1.0M460.4 96.2h1.0M428.6 90.1h1.0M413.1 89.5h1.0M403.3 95.4h1.0M442.9 84.9h1.0M397.0 88.5h1.0M392.6 98.8h1.0M398.2 80.0h1.0M436.4 106.4h1.0M462.5 88.3h1.0M413.8 88.3h1.0M431.2 103.2h1.0M451.2 97.0h1.0M399.1 97.1h1.0M413.9 95.0h1.0M387.7 92.8h1.0M439.5 89.8h1.0M435.7 93.7h1.0M423.2 97.9h1.0M388.9 99.1h1.0M407.4 92.4h1.0M405.5 91.8h1.0M428.5 101.3h1.0M438.9 101.2h1.0M403.3 99.1h1.0M452.6 93.1h1.0M467.7 107.7h1.0M452.7 102.5h1.0M391.5 103.7h1.0M430.1 102.6h1.0M394.4 104.1h1.0M384.7 92.4h1.0M415.1 93.6h1.0M423.1 86.9h1.0M450.6 106.2h1.0M416.8 89.8h1.0M417.6 91.1h1.0M400.4 85.5h1.0M452.8 93.0h1.0M410.6 102.3h1.0M438.0 106.0h1.0M452.2 95.9h1.0M420.9 100.1h1.0M427.0 96.8h1.0M419.2 99.1h1.0M414.2 103.2h1.0M390.3 101.5h1.0M440.7 101.1h1.0M399.1 81.9h1.0M406.1 103.8h1.0M392.0 88.0h1.0M432.1 90.8h1.0M391.0 99.5h1.0M439.7 94.2h1.0M393.5 94.4h1.0M428.8 95.1h1.0M399.9 88.0h1.0M399.6 97.6h1.0M409.5 95.4h1.0M427.4 97.1h1.0M390.4 93.6h1.0M406.0 91.7h1.0M409.0 80.7h1.0M432.4 103.3h1.0M429.2 103.0h1.0M447.6 92.3h1.0M419.0 91.6h1.0M450.6 92.7h1.0M417.6 95.5h1.0M446.6 91.7h1.0M386.7 102.3h1.0M398.2 103.1h1.0M394.7 95.5h1.0M399.4 96.5h1.0M425.7 90.0h1.0M430.0 94.9h1.0M397.3 99.6h1.0M416.0 82.2h1.0M424.5 91.4h1.0M434.4 97.8h1.0M441.8 95.6h1.0M458.4 101.1h1.0M405.3 100.0h1.0M385.0 93.0h1.0M395.8 94.8h1.0M392.8 91.8h1.0M442.0 89.7h1.0M416.3 104.2h1.0M419.6 94.1h1.0M429.6 98.6h1.0M407.6 102.3h1.0M443.1 97.2h1.0M440.4 92.5h1.0M439.6 95.0h1.0M386.0 97.8h1.0M435.2 101.8h1.0M424.9 102.5h1.0M424.7 79.1h1.0M411.0 88.8h1.0M428.0 98.3h1.0M390.3 96.3h1.0M432.2 89.6h1.0M435.0 88.0h1.0M433.4 91.4h1.0M415.3 104.9h1.0M426.7 91.1h1.0M444.7 95.1h1.0M407.0 99.1h1.0M404.9 94.8h1.0M426.7 90.6h1.0M428.4 105.7h1.0M385.2 97.5h1.0M408.4 97.6h1.0M425.3 93.7h1.0M416.5 98.6h1.0M426.4 97.2h1.0M426.5 112.5h1.0M412.0 89.8h1.0M398.2 105.2h1.0M448.1 101.9h1.0M412.4 85.9h1.0M408.8 103.2h1.0M424.4 104.2h1.0M395.1 93.0h1.0M403.1 96.5h1.0M436.7 93.0h1.0M436.5 97.6h1.0M422.0 103.9h1.0M427.4 105.6h1.0M427.5 101.1h1.0M423.2 101.0h1.0M448.5 88.7h1.0M431.3 99.0h1.0M418.3 108.5h1.0M439.7 106.6h1.0M425.2 97.2h1.0M426.9 109.6h1.0M416.4 96.8h1.0M391.4 94.9h1.0M424.4 93.5h1.0M463.1 85.1h1.0M394.3 98.5h1.0M406.2 86.8h1.0M402.9 97.0h1.0M426.3 91.2h1.0M405.4 107.6h1.0M402.9 100.1h1.0M416.5 104.5h1.0M388.9 91.6h1.0M441.7 93.6h1.0M434.7 103.0h1.0M391.8 89.3h1.0M387.0 103.1h1.0M408.5 98.0h1.0M384.5 92.6h1.0M408.1 87.7h1.0M462.4 94.7h1.0M437.4 99.0h1.0M426.8 91.4h1.0M390.3 100.0h1.0M450.0 96.3h1.0M424.8 104.0h1.0M394.6 97.0h1.0M433.0 98.7h1.0M414.5 82.7h1.0M412.4 90.9h1.0M429.0 105.6h1.0M424.2 88.2h1.0M425.6 96.8h1.0M450.6 89.4h1.0M407.2 102.8h1.0M431.4 91.4h1.0M437.0 94.9h1.0M427.9 108.6h1.0M415.7 89.0h1.0M390.3 95.0h1.0M446.8 94.7h1.0M419.8 96.3h1.0M435.7 88.0h1.0M430.7 105.2h1.0M400.8 88.3h1.0M428.0 93.3h1.0M395.1 100.6h1.0M434.7 89.7h1.0M401.4 95.1h1.0M431.0 90.0h1.0M419.1 96.2h1.0M434.8 91.3h1.0M400.3 101.6h1.0M400.8 100.1h1.0M425.4 99.4h1.0M428.2 95.2h1.0M420.7 101.4h1.0M412.0 98.6h1.0M418.9 92.8h1.0M427.9 97.3h1.0M400.2 94.8h1.0M412.5 91.0h1.0M435.2 100.6h1.0M435.0 94.3h1.0M428.3 90.6h1.0M427.5 98.0h1.0M440.9 100.9h1.0M423.7 96.1h1.0M428.3 89.7h1.0M428.9 90.3h1.0M435.0 89.7h1.0M420.3 98.7h1.0M425.2 90.1h1.0M413.9 86.0h1.0M434.8 99.0h1.0M420.0 99.0h1.0M387.9 96.2h1.0M414.0 88.0h1.0M430.3 96.2h1.0M445.9 99.8h1.0M439.7 85.3h1.0M398.7 95.3h1.0M424.2 95.3h1.0M395.2 100.8h1.0M445.3 93.6h1.0M386.3 91.8h1.0M459.9 98.8h1.0M386.3 92.3h1.0M400.4 89.0h1.0M428.9 89.1h1.0M424.5 104.3h1.0M439.7 97.6h1.0M402.0 91.0h1.0M419.0 93.8h1.0M415.3 98.7h1.0M425.1 88.1h1.0M422.6 102.2h1.0M431.2 107.0h1.0M410.2 99.7h1.0M424.6 85.7h1.0M413.6 91.8h1.0M427.6 99.8h1.0M449.9 106.3h1.0M388.4 105.0h1.0M442.7 88.7h1.0M423.9 100.6h1.0M427.7 97.6h1.0M458.9 98.9h1.0M394.2 91.3h1.0M432.2 103.3h1.0M421.0 107.3h1.0M419.2 102.1h1.0M400.7 95.2h1.0M428.0 103.2h1.0M404.4 95.1h1.0M444.0 104.2h1.0M424.6 103.7h1.0M445.6 93.4h1.0M399.3 96.0h1.0M446.3 101.6h1.0M436.1 90.1h1.0M390.1 91.5h1.0M423.3 98.5h1.0M435.3 103.7h1.0M429.2 88.2h1.0M461.9 101.0h1.0M394.9 97.7h1.0M438.5 105.2h1.0M387.1 93.4h1.0M427.1 97.8h1.0M385.5 87.9h1.0M388.3 94.0h1.0M432.1 92.6h1.0M438.7 97.8h1.0M433.9 90.5h1.0M455.8 92.7h1.0M422.7 96.4h1.0M405.8 93.0h1.0M391.2 95.3h1.0M406.3 93.2h1.0M393.0 99.1h1.0M394.6 101.1h1.0M440.2 109.8h1.0M418.8 97.4h1.0M429.1 92.1h1.0M432.5 99.7h1.0M401.3 90.9h1.0M425.8 102.6h1.0M410.2 100.1h1.0M425.7 94.0h1.0M410.4 97.8h1.0M424.6 92.2h1.0M419.7 85.4h1.0M424.5 110.7h1.0M401.9 97.0h1.0M394.8 95.0h1.0M399.2 86.7h1.0M392.7 97.1h1.0M440.7 106.3h1.0M405.9 95.8h1.0M450.6 90.7h1.0M432.4 103.7h1.0M425.9 93.5h1.0M430.6 98.8h1.0M438.7 87.5h1.0M420.5 108.4h1.0M439.9 101.2h1.0M453.7 86.1h1.0M438.0 99.4h1.0M435.6 82.3h1.0M426.6 93.0h1.0M424.5 107.1h1.0M392.7 91.6h1.0M424.0 97.2h1.0M428.7 90.4h1.0M431.8 87.5h1.0M432.9 90.7h1.0M412.7 98.9h1.0M438.8 101.3h1.0M405.5 86.6h1.0M388.9 98.5h1.0M442.3 90.9h1.0M399.6 97.5h1.0M435.6 92.7h1.0M395.9 94.0h1.0M443.6 97.0h1.0M433.0 106.4h1.0M395.9 99.0h1.0M432.8 99.1h1.0M455.0 88.2h1.0M406.0 103.1h1.0M430.2 100.1h1.0M407.2 106.8h1.0M391.7 102.4h1.0M431.1 96.0h1.0M408.3 101.8h1.0M442.4 95.5h1.0M446.1 90.7h1.0M411.5 81.4h1.0M413.1 101.4h1.0M440.4 101.0h1.0M442.6 92.2h1.0M427.0 107.0h1.0M436.6 90.1h1.0M431.3 103.3h1.0M443.4 101.0h1.0M425.9 97.2h1.0M439.6 102.1h1.0M442.2 97.7h1.0M433.7 92.3h1.0M430.1 103.0h1.0M427.0 89.3h1.0M451.6 85.1h1.0M457.3 94.3h1.0M409.3 91.3h1.0M428.8 90.8h1.0M406.7 98.6h1.0M431.9 98.4h1.0M397.1 100.7h1.0M426.5 99.9h1.0M425.5 95.1h1.0M398.1 93.3h1.0M401.3 97.1h1.0M426.4 95.6h1.0M436.8 85.5h1.0M435.1 96.9h1.0M417.3 90.7h1.0M408.6 91.0h1.0M400.0 86.9h1.0M439.4 95.1h1.0M426.0 105.9h1.0M420.4 90.7h1.0M431.2 95.6h1.0M408.1 100.6h1.0M432.6 90.6h1.0M436.5 99.2h1.0M450.4 94.3h1.0M426.9 90.3h1.0M424.8 90.7h1.0M419.5 93.7h1.0M433.9 89.1h1.0M428.6 98.5h1.0M386.9 94.1h1.0M406.1 101.5h1.0M446.6 89.8h1.0M421.2 100.6h1.0M429.7 93.2h1.0M424.6 89.2h1.0M449.2 90.3h1.0M447.2 86.4h1.0M415.0 93.6h1.0M387.0 87.8h1.0M430.8 91.9h1.0M393.9 103.7h1.0M439.9 97.8h1.0M441.0 106.0h1.0M384.2 101.2h1.0M433.8 99.6h1.0M403.6 85.4h1.0M420.4 92.2h1.0M393.9 92.1h1.0M409.0 91.9h1.0M418.9 99.0h1.0M459.1 94.6h1.0M425.1 102.8h1.0M386.8 97.3h1.0M428.0 88.4h1.0M406.5 92.2h1.0M431.2 106.5h1.0M424.9 87.9h1.0M405.0 111.9h1.0M404.0 92.0h1.0M399.0 87.1h1.0M401.7 95.2h1.0M436.2 89.8h1.0M415.0 95.3h1.0M395.7 87.0h1.0M434.9 95.8h1.0M470.2 94.4h1.0M393.0 86.3h1.0M422.0 94.5h1.0M399.6 87.4h1.0M411.8 101.3h1.0M391.7 95.7h1.0M423.6 98.3h1.0M388.7 89.6h1.0M418.2 77.4h1.0M434.4 97.8h1.0M444.8 97.9h1.0M430.6 92.0h1.0M384.9 95.8h1.0M435.3 82.5h1.0M452.4 99.6h1.0M419.7 97.8h1.0M393.4 93.2h1.0M425.9 96.5h1.0M428.8 89.7h1.0M423.1 93.7h1.0M411.5 95.5h1.0M451.0 96.8h1.0M394.7 101.1h1.0M410.0 92.6h1.0M392.8 88.1h1.0M430.8 94.3h1.0M415.9 89.6h1.0M404.7 88.5h1.0M440.7 96.5h1.0M451.5 92.8h1.0M425.9 94.3h1.0M427.4 94.7h1.0M401.3 98.7h1.0M458.4 95.9h1.0M427.0 94.3h1.0M429.8 96.4h1.0M425.0 97.8h1.0M451.8 87.6h1.0M390.8 85.4h1.0M417.3 109.3h1.0M455.0 100.1h1.0M406.5 106.4h1.0M418.6 106.6h1.0M421.5 87.2h1.0M433.7 89.8h1.0M452.2 90.2h1.0M386.4 91.1h1.0M384.3 94.6h1.0M459.3 97.6h1.0M433.4 96.8h1.0M429.4 101.9h1.0M427.0 90.5h1.0M416.1 94.3h1.0M429.1 93.8h1.0M397.3 96.3h1.0M434.7 105.8h1.0M387.3 94.6h1.0M414.5 89.9h1.0M401.9 91.6h1.0M449.2 85.6h1.0M436.1 83.7h1.0M425.0 94.6h1.0M435.9 91.0h1.0M443.4 108.5h1.0M415.1 95.9h1.0M398.3 101.2h1.0M403.5 105.0h1.0M427.3 96.9h1.0M460.1 96.1h1.0M402.1 91.0h1.0M394.2 106.6h1.0M417.9 86.8h1.0M450.0 89.4h1.0M388.6 98.5h1.0M438.7 91.2h1.0M441.5 99.8h1.0M443.8 82.7h1.0M424.2 92.5h1.0M432.1 95.5h1.0M396.6 96.9h1.0M415.5 95.4h1.0M433.1 101.6h1.0M435.5 87.1h1.0M424.1 100.5h1.0M414.4 97.2h1.0M438.2 91.2h1.0M443.9 88.7h1.0M386.8 90.5h1.0M384.6 93.8h1.0M405.7 98.6h1.0M429.8 91.7h1.0M427.8 98.4h1.0M402.0 93.5h1.0M443.1 107.1h1.0M420.6 104.1h1.0M420.5 97.8h1.0M460.9 93.8h1.0M392.4 91.6h1.0M439.2 103.1h1.0M430.3 92.9h1.0M388.3 102.1h1.0M426.0 92.3h1.0M384.7 94.1h1.0M457.4 106.9h1.0M415.8 103.0h1.0M400.1 104.3h1.0M388.9 96.1h1.0M400.8 107.1h1.0M426.0 99.8h1.0M400.9 90.1h1.0M422.3 102.6h1.0M413.2 98.3h1.0M403.3 92.1h1.0M404.2 95.3h1.0M405.1 93.3h1.0M394.2 93.1h1.0M399.9 97.1h1.0M425.2 93.8h1.0M416.7 95.2h1.0M457.4 85.2h1.0M459.1 104.9h1.0M394.5 101.9h1.0M387.7 106.9h1.0M424.7 86.2h1.0M403.9 98.4h1.0M393.0 92.9h1.0M427.3 91.0h1.0M391.9 105.0h1.0M385.1 96.6h1.0M416.6 91.6h1.0M410.6 95.0h1.0M445.0 104.3h1.0M426.3 84.6h1.0M423.7 97.9h1.0M436.4 98.0h1.0M385.6 94.5h1.0M390.2 99.7h1.0M453.5 101.5h1.0M431.2 110.1h1.0M405.0 97.2h1.0M425.7 76.8h1.0M426.9 98.3h1.0M428.0 107.5h1.0M394.0 101.3h1.0M399.1 94.7h1.0M442.2 96.8h1.0M420.4 104.5h1.0M404.0 96.0h1.0M426.5 92.9h1.0M389.3 99.4h1.0M407.0 95.1h1.0M428.9 94.7h1.0M391.4 90.2h1.0M423.1 92.5h1.0M454.4 84.8h1.0M425.4 94.3h1.0M427.4 96.9h1.0M396.7 96.7h1.0M437.6 91.6h1.0M421.3 99.2h1.0M389.1 87.5h1.0M413.0 86.5h1.0M441.6 99.7h1.0M423.5 95.0h1.0M436.2 104.1h1.0M394.4 91.0h1.0M441.2 104.5h1.0M437.9 87.5h1.0M429.0 102.6h1.0M425.3 93.9h1.0M426.2 87.3h1.0M426.2 102.1h1.0M429.2 101.7h1.0M435.2 93.5h1.0M441.8 102.6h1.0M433.4 99.0h1.0M395.7 99.3h1.0M402.5 96.7h1.0M409.6 103.6h1.0M415.0 93.1h1.0M391.7 94.8h1.0M424.4 99.0h1.0M439.5 97.2h1.0M459.9 90.0h1.0M446.2 99.3h1.0M395.3 106.0h1.0M453.8 89.3h1.0M434.7 94.0h1.0M407.5 95.2h1.0M384.2 91.1h1.0M414.6 100.5h1.0M415.3 96.1h1.0M433.3 96.3h1.0M434.6 95.4h1.0M407.0 93.3h1.0M395.4 101.8h1.0M387.7 97.4h1.0M431.1 94.5h1.0M438.0 95.3h1.0M392.3 90.4h1.0M429.7 95.3h1.0M414.5 88.6h1.0M419.1 102.5h1.0M444.9 100.3h1.0M415.1 99.7h1.0M388.1 85.7h1.0M433.5 94.7h1.0M409.6 102.8h1.0M395.4 101.5h1.0M407.5 95.8h1.0M428.7 96.9h1.0M439.5 93.1h1.0M448.5 97.4h1.0M439.7 95.8h1.0M417.9 99.6h1.0M434.1 81.7h1.0M430.1 100.7h1.0M448.5 98.7h1.0M386.2 92.5h1.0M424.9 100.6h1.0M389.3 91.2h1.0M406.9 89.6h1.0M418.1 103.5h1.0M387.1 90.6h1.0M413.4 100.6h1.0M398.0 86.3h1.0M428.3 91.6h1.0M438.9 103.4h1.0M404.1 92.5h1.0M424.9 97.6h1.0M432.4 94.4h1.0M411.3 95.3h1.0M430.8 96.8h1.0M401.3 89.4h1.0M426.4 100.8h1.0M429.0 97.8h1.0M391.2 98.2h1.0M420.7 97.9h1.0M434.3 91.3h1.0M394.7 98.5h1.0M434.9 99.0h1.0M456.0 88.1h1.0M426.1 91.9h1.0M415.5 92.9h1.0M432.6 98.8h1.0M451.2 102.6h1.0M394.9 95.8h1.0M445.4 102.8h1.0M391.6 105.8h1.0M430.7 99.1h1.0M420.2 101.3h1.0M417.6 89.9h1.0M461.8 87.6h1.0M421.3 98.0h1.0M400.5 91.6h1.0M400.6 99.4h1.0M432.7 89.0h1.0M438.4 96.2h1.0M438.2 101.9h1.0M478.7 96.3h1.0M412.9 84.7h1.0M420.9 101.2h1.0M420.1 101.7h1.0M421.1 103.3h1.0M425.3 85.6h1.0M436.2 88.4h1.0M422.3 89.5h1.0M418.4 94.0h1.0M433.0 93.1h1.0M395.0 100.5h1.0M419.0 99.3h1.0M387.1 105.3h1.0M404.3 100.2h1.0M419.3 101.1h1.0M428.7 101.2h1.0M437.2 95.5h1.0M440.3 93.5h1.0M428.0 99.3h1.0M402.3 89.4h1.0M430.6 92.6h1.0M400.0 105.2h1.0M424.2 93.5h1.0M410.0 87.0h1.0M388.1 100.1h1.0M420.1 97.4h1.0M416.8 90.4h1.0M431.6 107.8h1.0M441.0 98.3h1.0M435.5 94.3h1.0M398.5 95.6h1.0M406.0 92.0h1.0M453.6 107.4h1.0M455.4 92.1h1.0M424.0 86.1h1.0M434.2 87.5h1.0M385.0 106.7h1.0M423.5 108.5h1.0M425.0 87.0h1.0M440.6 102.4h1.0M446.9 99.6h1.0M396.1 89.5h1.0M388.1 99.6h1.0M399.0 93.9h1.0M395.2 85.9h1.0M391.7 85.3h1.0M409.8 87.9h1.0M424.1 86.8h1.0M429.1 107.0h1.0M467.2 100.5h1.0M387.8 106.0h1.0M438.4 100.0h1.0M440.4 101.2h1.0M424.3 96.1h1.0M402.0 100.1h1.0M427.7 99.3h1.0M387.7 97.9h1.0M392.1 101.1h1.0M403.4 103.1h1.0M427.7 92.2h1.0M426.3 98.2h1.0M414.9 99.0h1.0M438.6 99.1h1.0M399.5 93.7h1.0M422.0 90.2h1.0M460.9 96.5h1.0M440.4 102.5h1.0M440.5 99.6h1.0M408.4 90.7h1.0M450.4 99.4h1.0M438.4 98.0h1.0M448.5 88.5h1.0M401.7 108.6h1.0M389.1 104.9h1.0M398.2 89.3h1.0M405.8 87.4h1.0M407.4 106.0h1.0M437.9 90.9h1.0M401.0 87.6h1.0M400.3 89.1h1.0M400.0 102.6h1.0M398.6 92.0h1.0M439.5 103.5h1.0M392.5 106.4h1.0M394.0 100.1h1.0M395.6 95.0h1.0M454.2 102.9h1.0M431.9 107.2h1.0M392.5 103.5h1.0M435.8 91.6h1.0M422.4 96.2h1.0M449.6 97.9h1.0M385.0 96.5h1.0M430.3 93.9h1.0M392.0 88.8h1.0M442.0 85.7h1.0M401.2 109.2h1.0M394.2 115.9h1.0M433.8 97.7h1.0M399.4 99.5h1.0M445.8 98.6h1.0M444.0 97.3h1.0M442.5 93.1h1.0M437.9 92.9h1.0M425.5 104.7h1.0M456.6 98.3h1.0M414.4 99.0h1.0M419.3 97.7h1.0M419.1 88.7h1.0M413.4 86.9h1.0M426.2 91.7h1.0M447.7 92.5h1.0M400.6 94.4h1.0M464.8 98.6h1.0M458.3 94.1h1.0M439.4 95.4h1.0M421.7 104.5h1.0M396.1 98.3h1.0M427.7 96.1h1.0M434.8 84.7h1.0M442.4 83.9h1.0M418.2 102.4h1.0M396.2 105.5h1.0M416.0 104.2h1.0M416.1 94.3h1.0M415.8 93.7h1.0M412.8 95.0h1.0M442.0 115.1h1.0M409.2 88.4h1.0M425.1 89.6h1.0M461.8 104.3h1.0M389.2 96.0h1.0M434.6 112.3h1.0M416.6 102.1h1.0M412.0 92.7h1.0M434.1 102.5h1.0M421.5 97.5h1.0M444.7 97.4h1.0M415.6 95.3h1.0M441.3 97.2h1.0M433.5 98.7h1.0M398.8 98.7h1.0M424.9 85.3h1.0M424.2 97.8h1.0M423.9 83.5h1.0M456.9 91.1h1.0M441.2 93.5h1.0M427.0 99.0h1.0M451.0 96.7h1.0M445.1 108.8h1.0M414.1 92.7h1.0M433.5 98.0h1.0M404.7 91.1h1.0M408.4 96.2h1.0M433.6 94.2h1.0M456.5 106.9h1.0M440.0 101.9h1.0M442.0 100.8h1.0M385.3 96.9h1.0M411.7 99.1h1.0M451.4 93.2h1.0M425.8 90.8h1.0M441.7 93.4h1.0M439.7 91.2h1.0M426.8 111.6h1.0M384.4 92.0h1.0M389.2 94.6h1.0M438.0 88.3h1.0M452.6 95.6h1.0M430.0 96.0h1.0M426.6 92.9h1.0M402.3 103.4h1.0M454.0 90.2h1.0M392.9 101.0h1.0M425.0 106.6h1.0M422.7 90.5h1.0M425.6 88.6h1.0M420.5 101.4h1.0M448.2 102.1h1.0M390.5 90.0h1.0M445.1 114.4h1.0M426.3 94.0h1.0M433.3 90.8h1.0M429.7 95.9h1.0M390.6 99.4h1.0M427.5 92.7h1.0M409.3 90.1h1.0M384.7 93.6h1.0M402.6 96.9h1.0M420.3 106.4h1.0M388.1 89.9h1.0M417.7 96.9h1.0M413.5 99.5h1.0M424.6 90.1h1.0M427.0 98.0h1.0M398.6 103.6h1.0M397.6 100.8h1.0M425.2 96.1h1.0M398.3 99.6h1.0M429.5 90.1h1.0M386.0 104.6h1.0M449.6 100.5h1.0M406.3 103.2h1.0M388.5 95.5h1.0M391.4 86.2h1.0M449.5 99.5h1.0M423.7 100.4h1.0M392.7 96.1h1.0M414.2 101.6h1.0M413.5 95.8h1.0M401.6 93.5h1.0M387.1 89.9h1.0M427.6 98.5h1.0M405.5 94.6h1.0M413.5 84.7h1.0M425.1 96.3h1.0M434.3 96.5h1.0M389.6 92.2h1.0M451.0 97.7h1.0M424.9 96.9h1.0M386.4 93.1h1.0M427.0 90.7h1.0M444.1 102.8h1.0M427.0 95.5h1.0M415.9 96.2h1.0M431.2 93.4h1.0M425.9 93.2h1.0M413.5 97.8h1.0M422.5 96.0h1.0M441.3 107.5h1.0M440.8 90.2h1.0M452.5 84.9h1.0M431.6 102.6h1.0M398.8 90.8h1.0M440.2 96.8h1.0M406.2 100.9h1.0M413.2 99.0h1.0M417.9 103.0h1.0M428.4 89.1h1.0M424.7 90.0h1.0M401.7 95.6h1.0M433.1 90.0h1.0M428.8 102.2h1.0M397.5 89.4h1.0M448.6 97.1h1.0M437.4 91.1h1.0M447.6 94.4h1.0M399.9 91.4h1.0M426.3 86.9h1.0M428.4 97.4h1.0M388.8 91.8h1.0M425.8 89.3h1.0M395.9 86.2h1.0M426.4 102.8h1.0M402.5 85.9h1.0M426.9 97.5h1.0M424.6 99.3h1.0M442.2 105.9h1.0M435.1 97.7h1.0M430.8 98.1h1.0M441.8 98.2h1.0M424.1 97.2h1.0M400.7 102.0h1.0M425.3 91.6h1.0M448.9 96.4h1.0M427.6 92.3h1.0M421.6 92.7h1.0M426.6 103.7h1.0M426.3 97.4h1.0M412.4 90.1h1.0M393.4 91.6h1.0M402.3 87.3h1.0M427.4 106.1h1.0M421.7 96.3h1.0M385.7 104.2h1.0M429.6 91.7h1.0M479.5 98.2h1.0M400.7 97.2h1.0M450.4 100.0h1.0M419.2 89.5h1.0M395.4 96.1h1.0M444.5 101.4h1.0M384.1 99.7h1.0M388.0 91.5h1.0M396.7 100.8h1.0M477.5 94.3h1.0M406.5 90.0h1.0M424.7 99.0h1.0M398.8 108.3h1.0M438.3 94.2h1.0M426.0 93.9h1.0M430.9 90.9h1.0M421.2 94.9h1.0M402.4 101.7h1.0M391.1 94.4h1.0M434.5 90.6h1.0M394.2 97.7h1.0M444.3 89.3h1.0M393.7 103.1h1.0M435.8 88.1h1.0M404.8 97.2h1.0M435.1 94.4h1.0M437.8 101.2h1.0M406.4 102.4h1.0M408.2 100.7h1.0M440.3 99.3h1.0M436.2 88.3h1.0M431.5 92.3h1.0M420.5 94.1h1.0M424.4 90.5h1.0M426.7 100.0h1.0M410.9 87.9h1.0M425.1 105.9h1.0M421.2 94.3h1.0M420.4 94.9h1.0M424.4 85.8h1.0M437.2 84.7h1.0M423.5 93.5h1.0M385.1 94.8h1.0M411.5 98.0h1.0M391.0 94.7h1.0M438.8 105.7h1.0M445.5 86.4h1.0M424.8 100.1h1.0M425.5 91.9h1.0M424.7 87.9h1.0M432.4 101.6h1.0M418.6 103.5h1.0M392.7 100.8h1.0M428.2 98.1h1.0M436.5 92.7h1.0M426.0 98.7h1.0M406.4 94.6h1.0M424.0 95.6h1.0M393.2 83.3h1.0M416.2 92.5h1.0M390.8 90.7h1.0M446.2 97.2h1.0M433.8 104.8h1.0M419.7 100.1h1.0M432.5 90.4h1.0M426.0 97.3h1.0M419.1 102.5h1.0M420.6 88.0h1.0M432.3 103.1h1.0M422.0 103.6h1.0M439.2 86.4h1.0M413.6 99.8h1.0M402.1 94.8h1.0M390.6 98.2h1.0M390.6 108.2h1.0M409.4 98.6h1.0M403.3 102.5h1.0M420.8 110.2h1.0M385.7 97.5h1.0M445.4 92.9h1.0M418.4 92.5h1.0M409.2 105.4h1.0M439.0 100.8h1.0M412.3 94.7h1.0M434.2 95.7h1.0M432.7 97.3h1.0M387.7 94.5h1.0M387.8 91.3h1.0M404.3 96.3h1.0M418.7 95.5h1.0M384.4 93.0h1.0M388.8 92.5h1.0M455.3 96.4h1.0M429.0 84.6h1.0M397.7 103.6h1.0M425.7 89.3h1.0M417.8 95.5h1.0M435.8 96.5h1.0M423.2 88.4h1.0M439.3 88.6h1.0M408.5 97.9h1.0M440.0 98.7h1.0M427.1 95.9h1.0M448.7 87.8h1.0M389.8 93.0h1.0M452.5 98.3h1.0M450.2 95.3h1.0M398.3 94.9h1.0M429.2 98.6h1.0M431.7 106.0h1.0M408.0 97.1h1.0M432.8 108.4h1.0M415.9 102.0h1.0M391.9 90.2h1.0M389.4 100.5h1.0M397.2 102.0h1.0M394.0 94.8h1.0M435.9 103.5h1.0M449.0 102.1h1.0M388.8 102.5h1.0M429.4 97.8h1.0M443.6 95.5h1.0M402.7 99.5h1.0M435.2 93.4h1.0M428.3 96.8h1.0M424.3 93.3h1.0M447.9 108.2h1.0M397.3 101.4h1.0M442.3 96.7h1.0M404.8 99.5h1.0M387.6 96.4h1.0M392.6 92.7h1.0M425.1 92.2h1.0M420.9 98.4h1.0M416.7 108.2h1.0M410.3 104.6h1.0M429.6 97.2h1.0M449.9 91.2h1.0M405.9 98.6h1.0M409.8 102.1h1.0M396.1 94.4h1.0M430.3 91.8h1.0M406.4 96.1h1.0M415.7 91.5h1.0M437.9 93.6h1.0M476.9 109.9h1.0M419.8 95.1h1.0M442.8 115.3h1.0M432.9 89.1h1.0M422.0 98.2h1.0M437.1 98.2h1.0M443.9 103.0h1.0M404.9 101.2h1.0M426.2 94.4h1.0M426.2 90.9h1.0M414.6 100.1h1.0M435.3 91.2h1.0M436.2 95.6h1.0M456.1 93.8h1.0M459.5 98.4h1.0M416.7 92.8h1.0M467.8 99.3h1.0M434.3 91.0h1.0M419.2 96.8h1.0M439.8 88.9h1.0M390.8 92.1h1.0M388.5 94.2h1.0M415.5 98.0h1.0M421.3 107.9h1.0M395.8 95.2h1.0M400.7 96.6h1.0M421.9 95.9h1.0M424.4 96.6h1.0M388.4 100.7h1.0M443.6 92.6h1.0M396.6 101.9h1.0M427.4 98.3h1.0M430.4 105.1h1.0M427.9 93.5h1.0M446.6 100.1h1.0M401.6 102.4h1.0M415.2 86.3h1.0M438.6 85.4h1.0M449.0 91.3h1.0M430.9 94.1h1.0M415.1 98.1h1.0M441.1 89.2h1.0M427.6 89.8h1.0M417.4 94.8h1.0M432.3 97.6h1.0M437.4 98.4h1.0M405.7 94.0h1.0M425.8 102.7h1.0M424.4 93.6h1.0M432.6 97.1h1.0M384.8 98.2h1.0M402.1 102.1h1.0M429.6 97.4h1.0M397.4 87.9h1.0M401.4 91.5h1.0M410.7 90.2h1.0M429.0 101.0h1.0M388.1 102.1h1.0M430.8 91.1h1.0M470.8 89.4h1.0M400.9 91.8h1.0M411.3 103.1h1.0M405.6 99.1h1.0M388.5 94.7h1.0M457.9 101.9h1.0M441.1 105.7h1.0M422.7 95.1h1.0M431.1 108.9h1.0M435.3 93.3h1.0M435.5 99.4h1.0M436.7 92.5h1.0M424.8 83.5h1.0M441.1 97.4h1.0M408.3 95.9h1.0M450.0 94.4h1.0M411.9 86.5h1.0M430.2 101.1h1.0M425.5 105.5h1.0M412.5 100.0h1.0M425.4 101.7h1.0M415.0 87.7h1.0M409.8 94.5h1.0M432.5 82.0h1.0M406.7 91.7h1.0M435.5 99.4h1.0M445.6 97.0h1.0M405.7 95.5h1.0M442.9 105.5h1.0M408.1 98.0h1.0M390.9 95.0h1.0M397.4 93.5h1.0M419.3 88.2h1.0M390.3 100.9h1.0M425.3 85.6h1.0M424.1 96.3h1.0M428.0 93.7h1.0M427.9 87.9h1.0M440.9 95.5h1.0M438.5 93.6h1.0M438.8 85.7h1.0M426.3 100.4h1.0M390.0 104.3h1.0M414.7 86.0h1.0M447.8 103.0h1.0M427.0 98.5h1.0M418.0 84.9h1.0M388.7 98.4h1.0M422.7 97.3h1.0M430.3 103.2h1.0M394.9 101.0h1.0M437.7 91.8h1.0M385.4 93.5h1.0M435.9 93.7h1.0M414.8 85.4h1.0M400.9 94.7h1.0M438.9 97.1h1.0M422.0 101.4h1.0M442.4 96.7h1.0M443.3 93.6h1.0M433.5 92.6h1.0M388.5 85.4h1.0M403.0 95.9h1.0M442.5 96.7h1.0M438.4 92.5h1.0M412.0 95.2h1.0M467.0 93.5h1.0M403.6 103.0h1.0M424.1 107.8h1.0M426.4 88.1h1.0M424.5 88.0h1.0M427.6 86.3h1.0M421.3 98.5h1.0M440.7 98.2h1.0M402.1 106.1h1.0M419.2 95.7h1.0M432.1 97.0h1.0M409.4 101.9h1.0M449.3 93.2h1.0M388.7 102.8h1.0M433.6 80.4h1.0M399.4 101.7h1.0M391.6 103.7h1.0M402.7 92.9h1.0M397.9 89.3h1.0M424.8 92.4h1.0M391.0 94.4h1.0M418.4 99.5h1.0M432.9 89.3h1.0M385.9 98.8h1.0M413.4 93.7h1.0M441.2 98.1h1.0M408.3 91.2h1.0M424.9 97.7h1.0M385.5 95.3h1.0M403.6 87.3h1.0M392.2 100.8h1.0M415.5 106.4h1.0M419.5 88.6h1.0M408.7 90.9h1.0M426.8 92.4h1.0M444.7 100.2h1.0M421.1 99.3h1.0M403.6 103.3h1.0M448.4 94.7h1.0M437.1 93.2h1.0M417.5 105.5h1.0M446.1 80.5h1.0M427.4 108.7h1.0M408.0 96.8h1.0M417.9 94.3h1.0M435.9 86.7h1.0M385.6 92.8h1.0M428.3 102.4h1.0M395.4 90.7h1.0M451.9 87.2h1.0M434.8 98.0h1.0M446.6 95.5h1.0M399.1 91.9h1.0M399.3 95.0h1.0M416.2 87.9h1.0M417.1 97.7h1.0M406.7 98.2h1.0M422.9 100.7h1.0M429.9 93.5h1.0M425.8 88.5h1.0M440.9 96.4h1.0M392.7 84.0h1.0M420.8 101.6h1.0M384.6 100.0h1.0M389.1 93.1h1.0M389.3 98.0h1.0M437.0 91.3h1.0M418.1 97.8h1.0M447.6 106.8h1.0M444.0 93.5h1.0M389.9 102.4h1.0M424.7 90.4h1.0M452.9 97.9h1.0M407.6 98.9h1.0M413.3 91.0h1.0M411.6 80.3h1.0M415.3 104.0h1.0M396.1 98.6h1.0M391.7 98.4h1.0M445.8 100.6h1.0M433.3 98.9h1.0M467.3 98.5h1.0M401.5 101.5h1.0M428.6 99.0h1.0M425.4 93.4h1.0M421.3 97.6h1.0M455.2 107.8h1.0M418.5 105.2h1.0M435.9 104.0h1.0M417.0 109.9h1.0M419.3 99.9h1.0M419.7 93.5h1.0M405.5 103.4h1.0M421.8 93.1h1.0M441.9 109.7h1.0M415.0 90.9h1.0M426.7 95.4h1.0M447.7 98.9h1.0M424.7 97.4h1.0M424.7 97.7h1.0M427.8 95.7h1.0M423.5 91.8h1.0M432.7 94.5h1.0M425.6 102.5h1.0M427.9 96.1h1.0M426.0 101.5h1.0M414.6 87.5h1.0M405.6 100.5h1.0M442.0 104.0h1.0M395.7 105.3h1.0M404.2 91.2h1.0M443.7 89.1h1.0M425.6 96.2h1.0M397.8 97.1h1.0M402.4 109.6h1.0M422.7 99.0h1.0M428.0 86.3h1.0M416.1 98.2h1.0M447.3 96.6h1.0M420.3 92.3h1.0M433.4 95.6h1.0M388.7 94.3h1.0M455.0 97.3h1.0M446.5 103.4h1.0M437.1 90.3h1.0M435.7 93.3h1.0M402.5 94.6h1.0M408.7 92.0h1.0M400.3 100.7h1.0M427.0 96.6h1.0M440.4 99.9h1.0M433.4 99.2h1.0M422.4 100.7h1.0M398.2 94.1h1.0M423.3 98.4h1.0M414.7 92.1h1.0M442.5 97.1h1.0M419.1 104.0h1.0M410.1 86.7h1.0M428.6 89.7h1.0M386.7 95.7h1.0M431.1 92.7h1.0M442.6 103.3h1.0M409.9 92.5h1.0M395.0 105.0h1.0M394.1 91.7h1.0M409.2 93.0h1.0M442.2 99.8h1.0M425.6 105.0h1.0M436.1 103.0h1.0M402.1 89.7h1.0M385.5 89.8h1.0M408.7 98.5h1.0M438.3 101.7h1.0M409.8 91.6h1.0M418.4 98.7h1.0M424.0 100.0h1.0M392.5 98.9h1.0M401.4 99.2h1.0M441.7 99.7h1.0M418.1 101.4h1.0M435.4 95.9h1.0M414.0 113.1h1.0M395.9 104.5h1.0M414.7 105.7h1.0M407.2 97.0h1.0M414.0 99.7h1.0M384.1 94.4h1.0M395.4 89.6h1.0M420.2 90.8h1.0M396.8 94.3h1.0M399.2 98.8h1.0M456.4 102.3h1.0M386.0 90.0h1.0M395.4 84.7h1.0M430.2 92.1h1.0M430.0 96.1h1.0M427.2 90.3h1.0M421.3 102.7h1.0M423.1 102.1h1.0M388.4 99.5h1.0M456.6 90.5h1.0M396.0 88.7h1.0M427.3 104.2h1.0M392.2 98.3h1.0M425.0 96.1h1.0M435.4 92.2h1.0M422.5 89.8h1.0M391.7 96.4h1.0M408.4 103.4h1.0M440.8 92.0h1.0M420.6 101.4h1.0M410.5 96.6h1.0M434.9 99.5h1.0M427.4 93.4h1.0M429.3 90.3h1.0M413.0 94.6h1.0M401.7 99.0h1.0M400.9 88.5h1.0M419.2 93.5h1.0M398.5 107.3h1.0M439.4 96.7h1.0M447.4 93.4h1.0M388.3 94.6h1.0M432.5 101.3h1.0M388.4 93.0h1.0M456.6 99.7h1.0M417.5 92.3h1.0M436.1 99.8h1.0M420.6 85.0h1.0M398.1 98.8h1.0M416.8 100.3h1.0M435.9 86.5h1.0M445.5 90.8h1.0M422.9 94.0h1.0M426.7 98.3h1.0M426.4 107.0h1.0M408.4 98.8h1.0M402.1 93.5h1.0M426.9 98.5h1.0M430.3 89.3h1.0M450.7 97.7h1.0M394.4 95.1h1.0M437.4 101.8h1.0M436.9 101.9h1.0M424.3 90.2h1.0M396.2 106.5h1.0M432.1 92.9h1.0M419.1 105.5h1.0M422.8 93.3h1.0M443.1 98.4h1.0M445.9 108.4h1.0M425.8 84.7h1.0M398.9 96.8h1.0M432.2 91.0h1.0M431.7 92.8h1.0M382.0 92.7h1.0M379.4 92.1h1.0M389.9 92.6h1.0M400.5 95.1h1.0M422.8 94.1h1.0M406.8 92.1h1.0M409.4 93.3h1.0M394.8 95.7h1.0M416.4 92.6h1.0M422.1 93.5h1.0M394.7 93.3h1.0M382.2 90.2h1.0M422.6 94.5h1.0M429.6 93.1h1.0M376.3 93.8h1.0M390.6 94.3h1.0M392.1 93.5h1.0M413.4 91.6h1.0M392.1 92.4h1.0M416.9 92.4h1.0M401.9 91.4h1.0M401.4 92.9h1.0M401.6 93.3h1.0M410.1 93.9h1.0M425.1 95.0h1.0M423.7 93.5h1.0M385.0 91.8h1.0M390.5 92.8h1.0M381.3 89.8h1.0M375.4 92.4h1.0M409.1 93.8h1.0M381.4 93.6h1.0M426.8 92.2h1.0M393.8 92.8h1.0M430.0 93.6h1.0M408.6 93.2h1.0M405.9 92.6h1.0M416.8 95.6h1.0M380.9 92.7h1.0M396.3 94.4h1.0M429.5 93.0h1.0M389.4 95.6h1.0M390.0 93.4h1.0M407.0 92.1h1.0M428.2 94.1h1.0M429.0 93.6h1.0M421.8 92.4h1.0M376.0 90.7h1.0M389.5 94.3h1.0M395.9 92.3h1.0M415.4 92.6h1.0M412.2 95.0h1.0M379.1 94.4h1.0M414.7 92.6h1.0M379.4 93.5h1.0M431.9 93.4h1.0M420.3 91.8h1.0M430.3 94.2h1.0M390.7 92.4h1.0M404.6 94.8h1.0M413.2 92.8h1.0M423.0 91.8h1.0M423.4 93.8h1.0M386.4 93.2h1.0M405.6 92.8h1.0M407.8 94.5h1.0M400.0 95.0h1.0M385.5 91.7h1.0M399.5 93.8h1.0M375.2 94.5h1.0M382.5 94.0h1.0M389.6 93.8h1.0M425.3 91.0h1.0M384.9 94.8h1.0M409.1 93.1h1.0M395.8 94.2h1.0M388.5 93.1h1.0M408.5 93.7h1.0M379.3 92.9h1.0M414.6 93.6h1.0M400.0 93.5h1.0M431.2 92.6h1.0M402.1 93.9h1.0M384.3 91.6h1.0M393.5 94.0h1.0M420.4 93.2h1.0M410.7 93.5h1.0M400.8 93.5h1.0M417.5 92.7h1.0M413.2 92.6h1.0M409.9 93.4h1.0M418.2 91.8h1.0M414.1 93.2h1.0M409.7 92.4h1.0M401.4 93.3h1.0M406.3 95.8h1.0M406.7 90.8h1.0M393.7 93.3h1.0M417.1 94.5h1.0M389.1 91.5h1.0M397.3 89.1h1.0M428.5 91.5h1.0M424.4 93.6h1.0M386.6 91.2h1.0M378.7 95.6h1.0M392.5 91.2h1.0M410.9 93.3h1.0M428.0 93.0h1.0M379.1 92.9h1.0M377.1 92.8h1.0M405.0 93.1h1.0M411.1 93.6h1.0M398.6 95.1h1.0M429.7 92.0h1.0M405.9 94.2h1.0M390.0 93.0h1.0M389.2 92.9h1.0M393.3 94.0h1.0M377.1 92.1h1.0M392.0 91.5h1.0M381.2 91.7h1.0M419.4 92.0h1.0M399.0 93.9h1.0M400.0 95.5h1.0M427.3 92.9h1.0M416.9 92.8h1.0M377.0 92.4h1.0M422.4 92.3h1.0M392.8 91.6h1.0M390.2 94.2h1.0M376.1 92.4h1.0M394.4 92.8h1.0M430.7 93.3h1.0M426.5 93.0h1.0M398.8 92.9h1.0M381.4 92.7h1.0M420.0 91.0h1.0M420.1 93.1h1.0M380.3 93.1h1.0M423.0 93.6h1.0M388.4 91.8h1.0M423.8 93.7h1.0M375.1 93.7h1.0M431.0 91.4h1.0M420.7 94.0h1.0M408.1 94.9h1.0M427.8 92.8h1.0M429.9 94.6h1.0M387.9 93.9h1.0M393.5 91.2h1.0M378.4 95.8h1.0M399.8 95.6h1.0M403.3 95.7h1.0M415.0 91.1h1.0M394.2 92.8h1.0M398.6 92.9h1.0M425.6 91.3h1.0M392.6 94.0h1.0M407.7 91.5h1.0M398.3 92.6h1.0M380.5 92.8h1.0M392.7 93.2h1.0M415.9 93.2h1.0M416.7 92.4h1.0M416.2 92.5h1.0M422.1 92.4h1.0M407.2 92.5h1.0M397.5 92.9h1.0M424.3 93.6h1.0M411.0 93.6h1.0M390.1 92.7h1.0M404.0 93.9h1.0M405.8 93.3h1.0M402.5 94.2h1.0M411.3 92.2h1.0M408.4 93.2h1.0M375.0 92.0h1.0M430.9 93.2h1.0M381.4 92.4h1.0M387.7 92.7h1.0M376.1 92.5h1.0M403.2 93.9h1.0M396.8 93.0h1.0M386.7 93.9h1.0M388.9 93.0h1.0M393.5 92.1h1.0M393.5 93.5h1.0M376.1 93.9h1.0M403.1 91.5h1.0M375.2 93.2h1.0M401.1 95.4h1.0M386.7 94.0h1.0M382.0 90.9h1.0M403.6 92.5h1.0M393.2 92.8h1.0M410.2 92.3h1.0M410.4 91.6h1.0M396.5 93.2h1.0M422.7 93.1h1.0M424.3 93.4h1.0M418.9 92.8h1.0M384.8 92.6h1.0M424.0 93.6h1.0M421.7 93.5h1.0M428.4 92.1h1.0M389.8 91.5h1.0M388.3 92.3h1.0M396.8 94.6h1.0M385.5 94.2h1.0M382.8 92.7h1.0M411.3 94.5h1.0M404.9 94.1h1.0M387.0 91.5h1.0M405.5 93.4h1.0M383.4 93.7h1.0M379.4 91.6h1.0M412.4 94.9h1.0M380.0 93.3h1.0M405.2 94.4h1.0M376.5 94.2h1.0M409.3 93.8h1.0M379.6 93.1h1.0M408.6 92.2h1.0M405.2 91.6h1.0M397.5 95.2h1.0M399.1 91.0h1.0M431.3 92.5h1.0M418.9 91.3h1.0M411.4 92.6h1.0M429.7 94.8h1.0M387.3 92.7h1.0M407.4 92.3h1.0M419.5 93.3h1.0M387.6 92.7h1.0M399.3 91.8h1.0M415.3 92.5h1.0M431.9 89.7h1.0M420.6 92.9h1.0M403.2 94.6h1.0M428.6 92.0h1.0M376.5 93.3h1.0M401.8 92.1h1.0M381.0 92.8h1.0M402.6 93.6h1.0M400.3 93.3h1.0M394.8 91.6h1.0M397.1 93.0h1.0M382.6 94.4h1.0M430.3 93.2h1.0M391.0 92.4h1.0M417.3 93.8h1.0M403.1 93.0h1.0M382.6 92.9h1.0M386.8 92.2h1.0M397.0 93.8h1.0M430.0 91.7h1.0M429.9 93.5h1.0M411.6 91.3h1.0M394.1 91.8h1.0M377.1 94.3h1.0M408.2 92.6h1.0M378.8 93.0h1.0M411.7 91.9h1.0M391.2 93.9h1.0M390.7 92.5h1.0M426.0 93.1h1.0M402.8 93.9h1.0M430.9 93.6h1.0M420.4 93.5h1.0M379.3 91.3h1.0M415.6 94.0h1.0M420.2 94.7h1.0M395.3 94.6h1.0M421.4 90.7h1.0M402.2 93.4h1.0M389.7 93.8h1.0M377.8 94.0h1.0M384.3 94.0h1.0M424.2 92.0h1.0M383.6 91.8h1.0M381.1 93.2h1.0M390.0 94.6h1.0M404.0 92.2h1.0M409.7 94.8h1.0M408.9 90.9h1.0M377.9 93.5h1.0M388.7 92.5h1.0M382.8 91.6h1.0M401.2 92.9h1.0M401.8 94.1h1.0M405.6 94.4h1.0M392.6 94.3h1.0M427.6 90.7h1.0M431.1 94.0h1.0M400.6 93.5h1.0M389.6 92.9h1.0M382.9 90.6h1.0M403.9 95.3h1.0M400.7 92.5h1.0M456.2 108.1h1.0M377.7 97.7h1.0M439.5 108.9h1.0M434.6 99.8h1.0M419.7 96.6h1.0M430.1 87.4h1.0M449.0 96.1h1.0M445.5 94.0h1.0M442.2 101.5h1.0M456.4 105.5h1.0M457.7 98.0h1.0M428.4 96.9h1.0M392.8 98.5h1.0M462.3 109.1h1.0M404.8 103.6h1.0M452.3 83.9h1.0M440.3 103.9h1.0M452.2 103.0h1.0M378.4 76.1h1.0M467.7 115.0h1.0M432.6 86.5h1.0M470.5 99.6h1.0M445.4 105.7h1.0M458.3 112.0h1.0M387.9 83.3h1.0M434.2 100.1h1.0M453.1 98.4h1.0M424.6 124.0h1.0M470.7 113.7h1.0M460.7 90.7h1.0M427.5 99.2h1.0M397.6 89.7h1.0M434.8 85.6h1.0M446.1 105.6h1.0M423.0 96.0h1.0M447.9 105.7h1.0M440.8 85.5h1.0M381.9 124.2h1.0M410.7 95.7h1.0M375.9 90.6h1.0M408.3 109.4h1.0M417.8 94.2h1.0M407.0 94.8h1.0M383.3 103.2h1.0M465.4 101.8h1.0M414.1 114.9h1.0M444.5 87.8h1.0M413.0 92.8h1.0" stroke="#1a1a1a" stroke-width="1.0" fill="none" opacity="1"/>
<rect x="357.6" y="56.3" width="124.39999999999998" height="91.89999999999999" stroke="#111" stroke-width="1.3" fill="none"/>
<polygon points="404.4,71 482,71 482,120.8 380.5,120.8" fill="none" stroke="#111" stroke-width="1.8"/>
<path d="M357.60 148.2v2.4M366.96 148.2v1.4M372.44 148.2v1.4M376.32 148.2v1.4M379.34 148.2v1.4M381.80 148.2v1.4M383.88 148.2v1.4M385.69 148.2v1.4M387.28 148.2v1.4M388.70 148.2v2.4M398.06 148.2v1.4M403.54 148.2v1.4M407.42 148.2v1.4M410.44 148.2v1.4M412.90 148.2v1.4M414.98 148.2v1.4M416.79 148.2v1.4M418.38 148.2v1.4M419.80 148.2v2.4M429.16 148.2v1.4M434.64 148.2v1.4M438.52 148.2v1.4M441.54 148.2v1.4M444.00 148.2v1.4M446.08 148.2v1.4M447.89 148.2v1.4M449.48 148.2v1.4M450.90 148.2v2.4M460.26 148.2v1.4M465.74 148.2v1.4M469.62 148.2v1.4M472.64 148.2v1.4M475.10 148.2v1.4M477.18 148.2v1.4M478.99 148.2v1.4M480.58 148.2v1.4" stroke="#111" stroke-width="0.8" fill="none"/>
<path d="M357.6 148.20h-2.4M357.6 141.28h-1.4M357.6 137.24h-1.4M357.6 134.37h-1.4M357.6 132.14h-1.4M357.6 130.32h-1.4M357.6 128.78h-1.4M357.6 127.45h-1.4M357.6 126.28h-1.4M357.6 125.22h-2.4M357.6 118.31h-1.4M357.6 114.26h-1.4M357.6 111.39h-1.4M357.6 109.17h-1.4M357.6 107.35h-1.4M357.6 105.81h-1.4M357.6 104.48h-1.4M357.6 103.30h-1.4M357.6 102.25h-2.4M357.6 95.33h-1.4M357.6 91.29h-1.4M357.6 88.42h-1.4M357.6 86.19h-1.4M357.6 84.37h-1.4M357.6 82.83h-1.4M357.6 81.50h-1.4M357.6 80.33h-1.4M357.6 79.27h-2.4M357.6 72.36h-1.4M357.6 68.31h-1.4M357.6 65.44h-1.4M357.6 63.22h-1.4M357.6 61.40h-1.4M357.6 59.86h-1.4M357.6 58.53h-1.4M357.6 57.35h-1.4" stroke="#111" stroke-width="0.8" fill="none"/>
<text x="354.0" y="159.8" font-size="7" font-weight="bold" fill="#111" stroke="#111" stroke-width="0.08" textLength="5.8" lengthAdjust="spacingAndGlyphs">10</text>
<text x="360.0" y="156.4" font-size="6" font-weight="bold" fill="#111" stroke="#111" stroke-width="0.1">0</text>
<g transform="translate(353.5 153.2) rotate(-90)"><text x="0" y="0" font-size="7" font-weight="bold" fill="#111" stroke="#111" stroke-width="0.08" textLength="5.8" lengthAdjust="spacingAndGlyphs">10</text><text x="6.0" y="-3.6" font-size="6" font-weight="bold" fill="#111" stroke="#111" stroke-width="0.1">0</text></g>
<text x="385.1" y="159.8" font-size="7" font-weight="bold" fill="#111" stroke="#111" stroke-width="0.08" textLength="5.8" lengthAdjust="spacingAndGlyphs">10</text>
<text x="391.1" y="156.4" font-size="6" font-weight="bold" fill="#111" stroke="#111" stroke-width="0.1">1</text>
<g transform="translate(353.5 130.2) rotate(-90)"><text x="0" y="0" font-size="7" font-weight="bold" fill="#111" stroke="#111" stroke-width="0.08" textLength="5.8" lengthAdjust="spacingAndGlyphs">10</text><text x="6.0" y="-3.6" font-size="6" font-weight="bold" fill="#111" stroke="#111" stroke-width="0.1">1</text></g>
<text x="416.2" y="159.8" font-size="7" font-weight="bold" fill="#111" stroke="#111" stroke-width="0.08" textLength="5.8" lengthAdjust="spacingAndGlyphs">10</text>
<text x="422.2" y="156.4" font-size="6" font-weight="bold" fill="#111" stroke="#111" stroke-width="0.1">2</text>
<g transform="translate(353.5 107.2) rotate(-90)"><text x="0" y="0" font-size="7" font-weight="bold" fill="#111" stroke="#111" stroke-width="0.08" textLength="5.8" lengthAdjust="spacingAndGlyphs">10</text><text x="6.0" y="-3.6" font-size="6" font-weight="bold" fill="#111" stroke="#111" stroke-width="0.1">2</text></g>
<text x="447.3" y="159.8" font-size="7" font-weight="bold" fill="#111" stroke="#111" stroke-width="0.08" textLength="5.8" lengthAdjust="spacingAndGlyphs">10</text>
<text x="453.3" y="156.4" font-size="6" font-weight="bold" fill="#111" stroke="#111" stroke-width="0.1">3</text>
<g transform="translate(353.5 84.3) rotate(-90)"><text x="0" y="0" font-size="7" font-weight="bold" fill="#111" stroke="#111" stroke-width="0.08" textLength="5.8" lengthAdjust="spacingAndGlyphs">10</text><text x="6.0" y="-3.6" font-size="6" font-weight="bold" fill="#111" stroke="#111" stroke-width="0.1">3</text></g>
<text x="478.4" y="159.8" font-size="7" font-weight="bold" fill="#111" stroke="#111" stroke-width="0.08" textLength="5.8" lengthAdjust="spacingAndGlyphs">10</text>
<text x="484.4" y="156.4" font-size="6" font-weight="bold" fill="#111" stroke="#111" stroke-width="0.1">4</text>
<g transform="translate(353.5 61.3) rotate(-90)"><text x="0" y="0" font-size="7" font-weight="bold" fill="#111" stroke="#111" stroke-width="0.08" textLength="5.8" lengthAdjust="spacingAndGlyphs">10</text><text x="6.0" y="-3.6" font-size="6" font-weight="bold" fill="#111" stroke="#111" stroke-width="0.1">4</text></g>
<text x="411" y="68" font-size="9.6" text-anchor="start" font-weight="normal" fill="#111"  textLength="50" lengthAdjust="spacingAndGlyphs" stroke="#111" stroke-width="0.3">TRIP vector</text>
<text x="407.8" y="132.5" font-size="8" fill="#111" stroke="#111" stroke-width="0.35">52% EGFP<tspan dy="-2.5" font-size="6">+</tspan></text>
<line x1="338.8" y1="147" x2="338.8" y2="125" stroke="#111" stroke-width="1.6"/>
<text x="342.8" y="121.5" font-size="12" text-anchor="start" font-weight="normal" fill="#111" transform="rotate(-90 342.8 121.5)"  textLength="36.5" lengthAdjust="spacingAndGlyphs" stroke="#111" stroke-width="0.3">PKH26</text>
<line x1="338.8" y1="82.6" x2="338.8" y2="62" stroke="#111" stroke-width="1.6"/>
<polygon points="338.8,52.8 335,63.4 342.6,63.4" fill="#111"/>
<line x1="357.6" y1="169.6" x2="400.8" y2="169.6" stroke="#111" stroke-width="2"/>
<text x="407" y="173" font-size="11.6" text-anchor="start" font-weight="normal" fill="#111"  textLength="33" lengthAdjust="spacingAndGlyphs" stroke="#111" stroke-width="0.3">EGFP</text>
<line x1="440.5" y1="169.6" x2="474" y2="169.6" stroke="#111" stroke-width="2"/>
<polygon points="485.3,169.6 472.5,165.9 472.5,173.3" fill="#111"/>
<text x="487.1" y="81.3" font-size="6.4" text-anchor="middle" font-weight="bold" fill="#111"  stroke="#111" stroke-width="0.2">0</text>
<text x="487.1" y="88.0" font-size="6.4" text-anchor="middle" font-weight="bold" fill="#111"  stroke="#111" stroke-width="0.2">1</text>
<text x="487.1" y="94.8" font-size="6.4" text-anchor="middle" font-weight="bold" fill="#111"  stroke="#111" stroke-width="0.2">2</text>
<text x="487.1" y="101.7" font-size="6.4" text-anchor="middle" font-weight="bold" fill="#111"  stroke="#111" stroke-width="0.2">3</text>
<text x="487.1" y="108.6" font-size="6.4" text-anchor="middle" font-weight="bold" fill="#111"  stroke="#111" stroke-width="0.2">4</text>
<text x="487.1" y="115.2" font-size="6.4" text-anchor="middle" font-weight="bold" fill="#111"  stroke="#111" stroke-width="0.2">5</text>
<path d="M492.8 78.2L497 82L492.8 85.9" fill="none" stroke="#111" stroke-width="1.7"/>
<path d="M492.3 93.4Q496.3 94.5 496.3 99V108.5Q496.3 112.8 492.3 114" fill="none" stroke="#111" stroke-width="1.7"/>
<text x="498.8" y="83.4" font-size="7.3" text-anchor="start" font-weight="bold" fill="#111"  textLength="15.4" lengthAdjust="spacingAndGlyphs">55%</text>
<text x="500.5" y="105.7" font-size="7.3" text-anchor="start" font-weight="bold" fill="#111"  textLength="15.2" lengthAdjust="spacingAndGlyphs">52%</text>
<text x="487.2" y="70.2" font-size="6.6" text-anchor="start" font-weight="normal" fill="#111" transform="rotate(-43 487.2 70.2)"  textLength="27" lengthAdjust="spacingAndGlyphs" stroke="#111" stroke-width="0.3">divisions</text>
<text x="502.3" y="68" font-size="7" fill="#111" stroke="#111" stroke-width="0.3" transform="rotate(-43 502.3 68)">EGFP<tspan dy="-2" font-size="5">+</tspan></text>
<text x="509" y="71" font-size="7" text-anchor="start" font-weight="normal" fill="#111" transform="rotate(-47 509 71)"  textLength="14.3" lengthAdjust="spacingAndGlyphs" stroke="#111" stroke-width="0.3">cells</text>
<text x="3.5" y="196" font-size="15.5" text-anchor="start" font-weight="bold" fill="#111"  textLength="11.5" lengthAdjust="spacingAndGlyphs" stroke="#111" stroke-width="0.2">B</text>
<path d="M178.1 273.9h1.0M182.0 282.8h1.0M178.5 274.0h1.0M180.6 278.9h1.0M184.5 268.3h1.0M182.0 281.6h1.0M185.4 278.8h1.0M189.5 281.4h1.0M180.1 277.0h1.0M186.3 279.4h1.0M180.9 277.2h1.0M179.9 271.5h1.0M180.2 282.0h1.0M178.7 277.6h1.0M186.2 281.6h1.0M190.0 275.5h1.0M190.5 277.6h1.0M184.9 282.0h1.0M179.1 274.7h1.0M184.2 280.2h1.0M180.5 272.8h1.0M186.9 277.6h1.0M179.1 282.9h1.0M180.3 273.1h1.0M181.9 275.8h1.0M184.2 281.9h1.0M182.0 274.1h1.0M180.8 282.8h1.0M184.0 278.0h1.0M182.6 272.6h1.0M188.5 276.3h1.0M184.5 271.8h1.0M183.5 279.0h1.0M179.8 276.8h1.0M185.2 270.6h1.0M178.0 283.0h1.0M184.9 279.8h1.0M185.8 280.6h1.0M179.8 281.2h1.0M181.2 281.5h1.0M179.5 279.8h1.0M182.6 273.8h1.0M186.3 275.8h1.0M188.6 276.2h1.0M191.4 278.7h1.0M178.9 279.0h1.0M185.2 282.9h1.0M183.5 278.3h1.0M181.9 272.9h1.0M179.5 274.9h1.0M178.8 275.2h1.0M178.7 278.0h1.0M181.6 275.8h1.0M179.0 281.4h1.0M180.0 261.5h1.0M178.9 269.5h1.0M178.7 280.6h1.0M189.9 282.5h1.0M178.1 281.4h1.0M180.2 272.7h1.0M186.6 282.6h1.0M181.6 283.3h1.0M178.9 279.8h1.0M182.1 268.6h1.0M184.3 279.8h1.0M179.5 274.4h1.0M183.5 276.8h1.0M183.3 282.9h1.0M197.0 277.1h1.0M185.1 277.2h1.0M184.2 270.0h1.0M180.0 269.0h1.0M182.6 274.6h1.0M178.1 277.3h1.0M181.6 274.8h1.0M178.3 267.7h1.0M178.0 275.3h1.0M179.3 281.4h1.0M184.3 274.9h1.0M185.3 283.3h1.0M179.5 281.8h1.0M183.5 273.9h1.0M184.7 281.8h1.0M178.0 278.0h1.0M180.4 277.2h1.0M189.7 277.0h1.0M182.5 282.7h1.0M179.3 281.4h1.0M178.2 275.9h1.0M180.1 264.6h1.0M188.8 278.7h1.0M179.2 281.5h1.0M186.0 280.3h1.0M182.6 278.3h1.0M183.5 277.4h1.0M186.4 270.7h1.0M178.2 283.0h1.0M179.4 271.9h1.0M179.1 281.2h1.0M189.2 275.7h1.0M182.3 276.7h1.0M181.7 283.1h1.0M179.2 281.7h1.0M186.9 278.8h1.0M183.4 272.0h1.0M188.8 280.9h1.0M181.5 264.0h1.0M179.4 273.5h1.0M182.7 270.2h1.0M183.9 274.8h1.0M180.2 277.0h1.0M183.2 269.0h1.0M178.8 277.1h1.0M182.8 281.1h1.0M190.8 274.3h1.0M181.6 277.5h1.0M182.3 275.7h1.0M182.2 277.3h1.0M192.4 278.7h1.0M179.1 273.8h1.0M181.1 283.4h1.0M182.1 276.0h1.0M179.7 275.4h1.0M190.9 276.8h1.0M185.9 270.6h1.0M186.1 280.6h1.0M180.6 278.8h1.0M186.7 277.2h1.0M183.5 280.5h1.0M183.8 278.1h1.0M180.6 263.4h1.0M179.0 279.8h1.0M183.1 281.6h1.0M178.1 281.6h1.0M180.3 276.8h1.0M182.3 280.8h1.0M182.6 281.0h1.0M182.6 282.6h1.0M180.8 276.3h1.0M179.1 277.2h1.0M185.2 281.1h1.0M179.5 271.9h1.0M180.1 282.4h1.0M180.4 280.9h1.0M179.3 279.1h1.0M180.7 277.4h1.0M181.5 280.6h1.0M177.9 278.6h1.0M183.4 273.9h1.0M181.8 280.9h1.0M181.1 272.2h1.0M185.2 279.0h1.0M181.4 276.4h1.0M182.6 279.6h1.0M183.3 281.3h1.0M179.5 281.2h1.0M179.6 267.2h1.0M181.8 278.1h1.0M178.6 279.7h1.0M180.6 274.6h1.0M192.6 278.1h1.0M188.0 269.5h1.0M178.5 282.4h1.0M189.0 267.1h1.0M183.6 275.6h1.0M182.5 277.8h1.0M180.8 281.8h1.0M182.4 282.0h1.0M186.5 272.1h1.0M188.7 276.1h1.0M179.9 273.3h1.0M179.7 268.2h1.0M180.0 272.1h1.0M182.8 281.4h1.0M183.9 279.3h1.0M188.8 281.7h1.0M178.9 278.8h1.0M181.5 269.6h1.0M178.8 272.0h1.0M180.2 283.3h1.0M179.6 274.4h1.0M183.0 277.7h1.0M183.4 280.9h1.0M183.7 280.9h1.0M183.7 276.5h1.0M180.6 278.3h1.0M183.2 265.7h1.0M181.0 277.0h1.0M183.9 277.5h1.0M178.3 281.9h1.0M178.1 279.0h1.0M178.8 283.4h1.0M181.4 283.3h1.0M182.5 274.4h1.0M186.6 283.3h1.0M184.5 281.4h1.0M178.9 282.1h1.0M181.3 275.7h1.0M179.1 275.5h1.0M184.8 278.9h1.0M179.6 271.0h1.0M182.0 272.5h1.0M184.8 275.0h1.0M182.6 281.8h1.0M180.3 276.2h1.0M186.6 274.2h1.0M178.5 272.5h1.0M178.7 265.5h1.0M192.2 279.9h1.0M183.7 270.6h1.0M182.8 269.3h1.0M179.9 275.1h1.0M186.3 274.7h1.0M182.0 275.3h1.0M178.9 282.5h1.0M184.5 283.2h1.0M187.2 274.6h1.0M188.4 274.8h1.0M178.3 279.5h1.0M178.0 271.2h1.0M184.6 277.9h1.0M191.6 277.2h1.0M183.8 281.9h1.0M178.9 280.2h1.0M182.7 265.7h1.0M178.3 273.4h1.0M179.4 280.9h1.0M184.0 278.2h1.0M186.6 272.3h1.0M181.9 271.1h1.0M180.2 274.9h1.0M180.2 279.8h1.0M181.5 275.2h1.0M178.8 274.8h1.0M181.7 267.8h1.0M182.7 278.4h1.0M178.9 274.4h1.0M179.3 276.2h1.0M181.5 275.6h1.0M193.1 282.4h1.0M179.6 273.6h1.0M181.7 282.5h1.0M181.5 281.7h1.0M184.5 270.4h1.0M178.8 273.9h1.0M180.1 277.5h1.0M183.2 278.8h1.0M178.7 272.6h1.0M183.3 277.3h1.0M179.3 281.1h1.0M182.7 281.8h1.0M178.1 272.2h1.0M184.7 277.7h1.0M179.4 279.0h1.0M180.9 269.2h1.0M183.6 280.6h1.0M179.2 274.7h1.0M183.1 276.2h1.0M178.2 269.5h1.0M179.2 272.4h1.0M182.6 277.2h1.0M186.5 281.6h1.0M183.4 269.9h1.0M180.6 277.8h1.0M188.0 264.0h1.0M187.7 268.4h1.0M192.3 279.1h1.0M178.3 281.8h1.0M178.1 279.0h1.0M181.8 278.4h1.0M183.6 279.1h1.0M183.4 272.5h1.0M193.3 283.0h1.0M179.8 279.7h1.0M188.9 275.0h1.0M184.5 279.9h1.0M180.3 277.4h1.0M178.5 278.5h1.0M181.8 279.1h1.0M178.7 273.0h1.0M179.0 280.8h1.0M181.9 275.7h1.0M180.8 279.4h1.0M179.8 275.8h1.0M179.2 272.9h1.0M181.0 278.5h1.0M182.9 276.1h1.0M179.0 276.6h1.0M184.6 282.6h1.0M181.7 280.5h1.0M179.0 278.1h1.0M182.3 279.0h1.0M184.9 274.5h1.0M178.7 273.3h1.0M191.7 282.9h1.0M179.8 281.0h1.0M184.8 282.8h1.0M180.2 277.8h1.0M184.9 277.6h1.0M187.8 277.1h1.0M181.6 279.2h1.0M180.7 267.6h1.0M179.5 281.8h1.0M180.2 278.5h1.0M180.7 271.7h1.0M190.4 280.1h1.0M184.1 258.2h1.0M185.4 281.2h1.0M178.6 271.4h1.0M183.5 278.1h1.0M178.6 267.6h1.0M183.1 273.2h1.0M180.5 274.6h1.0M185.8 278.4h1.0M181.8 282.9h1.0M180.2 283.3h1.0M178.2 268.2h1.0M188.3 280.9h1.0M181.4 267.7h1.0M178.4 264.3h1.0M182.3 277.3h1.0M185.0 280.8h1.0M179.0 280.3h1.0M186.6 274.2h1.0M179.5 279.0h1.0M179.1 276.8h1.0M183.0 271.0h1.0M185.8 277.7h1.0M179.5 280.2h1.0M182.3 271.6h1.0M180.8 282.2h1.0M178.2 274.4h1.0M180.9 282.6h1.0M180.2 281.1h1.0M180.8 274.3h1.0M190.2 268.9h1.0M178.7 262.8h1.0M180.1 275.7h1.0M181.3 272.7h1.0M184.6 275.2h1.0M185.4 260.4h1.0M179.0 274.0h1.0M179.5 280.7h1.0M186.4 275.4h1.0M179.3 271.5h1.0M184.1 280.3h1.0M178.8 272.4h1.0M183.1 278.3h1.0M185.6 281.3h1.0M181.6 279.6h1.0M178.4 278.6h1.0M186.7 273.3h1.0M180.5 281.9h1.0M186.1 269.8h1.0M188.7 266.2h1.0M188.4 280.7h1.0M178.4 272.5h1.0M181.6 278.5h1.0M187.6 277.5h1.0M184.4 281.0h1.0M199.4 273.0h1.0M181.2 281.8h1.0M187.7 265.7h1.0M185.4 276.9h1.0M180.6 280.1h1.0M213.7 276.6h1.0M184.0 261.9h1.0M178.1 280.7h1.0M195.9 275.7h1.0M191.5 272.0h1.0M183.1 277.4h1.0M188.2 282.8h1.0M192.6 273.6h1.0M185.6 270.8h1.0M207.0 276.0h1.0M181.3 272.0h1.0M192.7 277.5h1.0M178.6 271.5h1.0M181.1 271.9h1.0M178.3 282.8h1.0M208.1 281.2h1.0M180.0 277.1h1.0M197.8 283.1h1.0M192.6 278.5h1.0M200.9 282.9h1.0M191.3 275.6h1.0M182.8 269.0h1.0M186.5 278.5h1.0M183.5 275.2h1.0M190.5 283.3h1.0M194.1 272.6h1.0M185.9 281.1h1.0M204.1 265.5h1.0M199.8 269.3h1.0M182.4 275.5h1.0M194.7 269.5h1.0M190.0 279.1h1.0M201.6 280.2h1.0M204.3 270.0h1.0M179.0 277.6h1.0M179.2 282.9h1.0M182.2 275.1h1.0M185.5 273.6h1.0M192.8 273.1h1.0M187.6 279.8h1.0M183.2 275.6h1.0M206.3 280.9h1.0M178.8 263.3h1.0M181.2 276.3h1.0M180.8 278.5h1.0M199.4 280.8h1.0M182.7 282.8h1.0M181.3 273.5h1.0M186.3 283.1h1.0M183.1 281.6h1.0M202.5 280.8h1.0M187.5 268.4h1.0M182.8 277.1h1.0M196.4 280.7h1.0M186.5 280.6h1.0M193.5 263.8h1.0M181.0 275.8h1.0M186.7 282.7h1.0M187.3 276.2h1.0M180.3 279.5h1.0M182.5 271.6h1.0M182.1 275.2h1.0M184.6 282.6h1.0M181.0 272.1h1.0M178.9 277.2h1.0M179.9 277.0h1.0M191.8 271.2h1.0M191.6 270.5h1.0M194.3 281.1h1.0M179.1 266.8h1.0M182.4 268.9h1.0M179.4 281.0h1.0M192.7 271.9h1.0M206.6 282.7h1.0M189.4 278.1h1.0M199.6 282.1h1.0M197.4 277.3h1.0M203.5 282.1h1.0M192.8 280.8h1.0M185.7 275.2h1.0M180.3 275.3h1.0M178.6 263.0h1.0M205.9 278.6h1.0M190.7 275.3h1.0M178.9 266.4h1.0M184.9 279.9h1.0M197.9 280.5h1.0M185.9 276.2h1.0M192.8 275.3h1.0M204.0 272.0h1.0M191.1 269.4h1.0M200.7 276.7h1.0M211.4 258.9h1.0M195.7 277.2h1.0M180.4 279.7h1.0M184.7 268.3h1.0M183.8 277.2h1.0M203.6 282.4h1.0M198.9 266.9h1.0M199.9 274.6h1.0M198.9 282.6h1.0M183.8 283.0h1.0M197.4 276.6h1.0M182.0 280.8h1.0M204.7 282.7h1.0M201.5 269.6h1.0M190.7 280.4h1.0M180.1 278.4h1.0M181.0 273.6h1.0M187.4 261.1h1.0M212.6 274.9h1.0M197.7 277.3h1.0M185.9 283.0h1.0M180.7 279.2h1.0M183.6 272.2h1.0M195.3 274.2h1.0M183.5 281.3h1.0M192.3 282.5h1.0M180.5 280.2h1.0M214.2 275.8h1.0M179.3 279.0h1.0M191.7 281.5h1.0M201.3 281.6h1.0M187.2 279.1h1.0M194.9 279.1h1.0M192.0 274.9h1.0M191.2 278.2h1.0M193.1 283.0h1.0M203.1 283.2h1.0M187.3 268.7h1.0M195.4 273.1h1.0M184.5 270.6h1.0M187.8 283.1h1.0M184.3 275.5h1.0M178.2 281.8h1.0M182.7 280.7h1.0M212.8 276.3h1.0M199.6 271.2h1.0M193.2 279.8h1.0M180.5 281.7h1.0M182.2 269.6h1.0M179.4 278.2h1.0M193.8 277.7h1.0M196.0 274.3h1.0M186.4 272.1h1.0M189.2 282.3h1.0M194.2 260.8h1.0M185.5 274.3h1.0M192.7 278.3h1.0M182.2 281.0h1.0M179.7 277.7h1.0M189.5 278.2h1.0M191.7 274.7h1.0M203.6 271.1h1.0M181.9 273.2h1.0M178.8 270.9h1.0M188.6 266.4h1.0M198.6 280.0h1.0M186.3 275.0h1.0M219.1 276.3h1.0M214.1 277.2h1.0M197.1 281.7h1.0M186.6 267.1h1.0M203.3 282.3h1.0M196.5 277.2h1.0M184.4 271.9h1.0M189.3 275.7h1.0M186.7 281.4h1.0M192.6 282.6h1.0M188.6 275.8h1.0M197.1 278.8h1.0M179.4 276.9h1.0M200.3 266.5h1.0M201.7 282.4h1.0M193.1 278.1h1.0M180.0 283.1h1.0M188.9 274.0h1.0M202.6 256.3h1.0M193.6 267.5h1.0M187.9 267.3h1.0M195.6 283.2h1.0M182.2 279.6h1.0M178.4 282.2h1.0M194.5 283.2h1.0M211.3 277.5h1.0M192.6 277.3h1.0M197.8 273.5h1.0M187.0 283.1h1.0M181.2 281.7h1.0M184.0 273.1h1.0M180.8 266.2h1.0M195.8 264.1h1.0M189.0 282.9h1.0M188.7 265.7h1.0M196.0 274.8h1.0M208.7 266.1h1.0M179.7 280.8h1.0M188.5 283.1h1.0M186.1 278.6h1.0M179.8 270.8h1.0M186.4 277.8h1.0M209.3 274.6h1.0M178.4 272.5h1.0M218.2 277.1h1.0M181.1 276.4h1.0M185.6 270.7h1.0M193.0 277.0h1.0M180.8 271.7h1.0M186.8 270.1h1.0M182.6 282.8h1.0M186.2 283.3h1.0M178.3 273.2h1.0M189.8 271.2h1.0M197.1 280.5h1.0M211.5 268.5h1.0M182.5 275.2h1.0M204.9 270.1h1.0M209.3 275.0h1.0M198.2 277.8h1.0M197.5 279.5h1.0M178.5 270.3h1.0M179.0 279.8h1.0M178.7 272.9h1.0M191.6 274.8h1.0M179.1 276.0h1.0M192.8 274.1h1.0M178.3 265.4h1.0M193.2 279.6h1.0M190.8 279.9h1.0M183.6 263.4h1.0M185.0 268.7h1.0M178.4 282.6h1.0M188.3 267.9h1.0M201.5 255.3h1.0M180.6 275.2h1.0M179.8 264.6h1.0M199.0 266.8h1.0M189.0 280.6h1.0M191.2 275.3h1.0M190.3 282.4h1.0M197.7 278.6h1.0M182.7 268.7h1.0M201.6 271.8h1.0M185.8 283.2h1.0M196.9 282.3h1.0M188.7 282.8h1.0M215.4 278.0h1.0M182.3 281.3h1.0M188.0 273.9h1.0M205.9 279.2h1.0M200.5 265.4h1.0M191.9 263.6h1.0M198.7 271.4h1.0M192.3 263.4h1.0M188.1 258.6h1.0M178.5 273.8h1.0M203.9 281.2h1.0M195.4 279.4h1.0M199.7 277.2h1.0M189.2 272.4h1.0M179.3 274.0h1.0M191.5 264.1h1.0M190.5 274.9h1.0M206.5 281.9h1.0M179.5 275.7h1.0M195.0 274.7h1.0M201.5 260.9h1.0M181.0 282.6h1.0M192.7 275.2h1.0M213.4 268.8h1.0M192.2 278.0h1.0M189.1 282.4h1.0M189.3 271.4h1.0M185.9 273.6h1.0M180.5 271.0h1.0M184.9 272.6h1.0M178.0 269.8h1.0M197.0 276.5h1.0M203.2 282.1h1.0M190.9 280.2h1.0M184.4 278.0h1.0M178.9 282.9h1.0M185.4 274.1h1.0M194.9 280.5h1.0M185.5 278.6h1.0M185.5 270.7h1.0M189.2 281.1h1.0M189.1 280.4h1.0M183.3 271.1h1.0M203.4 266.4h1.0M185.8 283.2h1.0M179.4 277.8h1.0M189.5 281.0h1.0M192.3 265.3h1.0M181.1 282.8h1.0M187.8 278.2h1.0M188.6 275.9h1.0M193.8 271.6h1.0M218.4 278.1h1.0M196.9 276.9h1.0M191.9 273.7h1.0M201.2 269.9h1.0M183.8 279.2h1.0M196.9 274.9h1.0M178.4 280.1h1.0M180.4 282.3h1.0M180.2 266.1h1.0M178.5 283.1h1.0M183.7 248.2h1.0M188.4 277.2h1.0M191.1 267.7h1.0M192.0 281.9h1.0M187.1 250.8h1.0M192.6 279.0h1.0M187.0 268.9h1.0M194.8 282.6h1.0M187.3 275.8h1.0M201.8 275.3h1.0M202.7 280.7h1.0M185.9 265.8h1.0M210.5 271.8h1.0M192.6 281.8h1.0M196.3 283.3h1.0M180.4 283.1h1.0M194.7 270.3h1.0M188.4 270.6h1.0M190.4 269.0h1.0M197.1 282.0h1.0M183.8 272.8h1.0M195.1 282.0h1.0M180.1 267.6h1.0M191.2 268.9h1.0M193.9 273.3h1.0M201.1 268.9h1.0M202.2 277.4h1.0M188.2 277.5h1.0M196.7 278.3h1.0M196.4 281.2h1.0M182.9 282.2h1.0M193.2 275.6h1.0M182.9 267.4h1.0M184.6 281.4h1.0M196.8 267.6h1.0M179.9 276.9h1.0M189.4 275.1h1.0M218.6 276.4h1.0M206.7 264.2h1.0M185.9 280.4h1.0M180.0 274.1h1.0M193.8 276.4h1.0M178.8 275.4h1.0M184.3 275.2h1.0M181.5 272.4h1.0M209.3 257.4h1.0M178.3 282.8h1.0M192.5 276.4h1.0M195.2 268.8h1.0M189.4 277.5h1.0M192.9 283.0h1.0M182.1 265.1h1.0M188.2 275.9h1.0M187.2 277.0h1.0M202.8 273.6h1.0M219.9 272.6h1.0M182.8 271.4h1.0M185.9 277.2h1.0M180.8 263.5h1.0M191.0 275.9h1.0M180.2 276.3h1.0M190.9 272.3h1.0M198.3 279.1h1.0M178.5 283.0h1.0M190.2 273.6h1.0M185.5 272.3h1.0M183.3 276.8h1.0M178.9 274.4h1.0M179.2 267.2h1.0M180.7 282.0h1.0M188.5 273.2h1.0M198.0 276.5h1.0M209.2 277.2h1.0M205.3 271.8h1.0M194.0 275.6h1.0M198.9 283.0h1.0M194.7 277.0h1.0M181.9 279.1h1.0M185.2 276.6h1.0M178.0 281.0h1.0M187.3 278.9h1.0M181.5 274.4h1.0M186.9 276.6h1.0M182.1 278.8h1.0M197.0 280.2h1.0M179.3 278.5h1.0M199.3 279.4h1.0M209.3 274.7h1.0M181.2 278.3h1.0M182.3 282.0h1.0M189.9 278.9h1.0M201.6 268.5h1.0M178.4 269.6h1.0M193.5 277.8h1.0M187.8 274.1h1.0M200.9 272.4h1.0M182.8 274.1h1.0M194.6 260.5h1.0M186.9 275.0h1.0M186.4 279.8h1.0M194.2 269.8h1.0M184.5 273.3h1.0M182.2 271.0h1.0M179.1 278.9h1.0M187.6 283.3h1.0M191.7 271.8h1.0M180.0 276.7h1.0M182.4 275.4h1.0M201.8 271.1h1.0M181.9 274.1h1.0M187.7 282.0h1.0M213.7 277.7h1.0M190.6 278.4h1.0M187.7 265.6h1.0M183.5 272.8h1.0M199.8 278.9h1.0M204.8 282.2h1.0M182.4 267.6h1.0M178.9 276.2h1.0M181.9 282.0h1.0M200.1 277.6h1.0M194.9 277.9h1.0M179.1 278.9h1.0M196.5 274.9h1.0M204.1 280.5h1.0M214.2 268.8h1.0M187.2 277.5h1.0M197.4 280.8h1.0M204.4 278.1h1.0M185.7 266.1h1.0M178.3 271.9h1.0M197.1 280.2h1.0M205.3 282.0h1.0M186.4 281.9h1.0M189.7 273.7h1.0M179.5 267.4h1.0M201.8 268.4h1.0M190.7 280.7h1.0M189.0 271.6h1.0M178.7 281.4h1.0M184.1 279.1h1.0M194.0 281.0h1.0M189.3 282.5h1.0M182.3 281.9h1.0M186.9 275.6h1.0M186.4 274.1h1.0M190.6 269.8h1.0M187.4 277.6h1.0M213.0 272.5h1.0M196.8 276.5h1.0M178.7 272.3h1.0M184.6 280.2h1.0M184.0 262.4h1.0M201.3 272.1h1.0M194.5 279.1h1.0M186.5 275.8h1.0M178.1 281.3h1.0M180.3 278.5h1.0M189.6 280.1h1.0M202.4 262.1h1.0M183.8 273.9h1.0M189.3 277.9h1.0M187.3 260.2h1.0M213.4 271.0h1.0M178.6 280.7h1.0M182.8 281.5h1.0M182.8 270.7h1.0M184.0 265.3h1.0M216.8 271.5h1.0M211.6 275.2h1.0M191.2 279.7h1.0M186.7 268.7h1.0M179.8 282.0h1.0M187.6 268.1h1.0M180.3 279.6h1.0M195.1 278.6h1.0M200.9 271.8h1.0M220.5 267.1h1.0M179.6 273.3h1.0M184.5 274.2h1.0M201.3 271.4h1.0M188.3 278.2h1.0M199.9 281.6h1.0M260.9 221.9h1.0M269.7 216.4h1.0M218.6 265.1h1.0M208.2 278.4h1.0M239.4 255.9h1.0M224.0 249.3h1.0M244.4 249.8h1.0M289.7 237.9h1.0M279.4 236.7h1.0M217.9 259.9h1.0M263.8 252.8h1.0M306.4 214.6h1.0M214.8 244.9h1.0M297.6 226.3h1.0M308.6 233.3h1.0M281.7 262.0h1.0M293.1 265.2h1.0M282.6 189.3h1.0M260.2 240.0h1.0M302.0 223.6h1.0M236.9 246.5h1.0M208.7 267.2h1.0M268.5 260.6h1.0M223.6 262.1h1.0M264.7 236.7h1.0M251.5 238.2h1.0M199.1 267.2h1.0M269.5 254.9h1.0M316.1 237.7h1.0M256.1 249.0h1.0M209.3 263.4h1.0M226.7 260.3h1.0M206.8 261.7h1.0M215.9 267.3h1.0M215.7 256.1h1.0M282.2 216.5h1.0M270.2 247.8h1.0M296.5 261.4h1.0M218.3 279.5h1.0M229.5 249.1h1.0M202.5 274.4h1.0M287.3 218.0h1.0M196.2 269.4h1.0M207.3 274.1h1.0M337.7 231.1h1.0M227.7 247.4h1.0M197.6 266.9h1.0M280.9 223.8h1.0M212.4 255.7h1.0M261.9 217.6h1.0M217.3 247.9h1.0M233.6 256.5h1.0M265.4 208.2h1.0M301.8 217.9h1.0M231.6 241.2h1.0M251.9 249.0h1.0M262.6 253.8h1.0M242.4 262.9h1.0M249.4 257.1h1.0M258.5 242.6h1.0M240.9 258.3h1.0M309.4 248.2h1.0M230.0 237.6h1.0M333.8 226.2h1.0M262.6 252.8h1.0M222.3 269.5h1.0M322.4 251.5h1.0M262.6 234.2h1.0M226.2 263.7h1.0M243.0 231.1h1.0M219.4 272.5h1.0M220.5 257.4h1.0M231.0 263.6h1.0M268.9 245.2h1.0M241.7 249.7h1.0M217.0 266.3h1.0M276.2 251.8h1.0M256.9 260.8h1.0M278.4 237.8h1.0M229.9 253.6h1.0M231.8 251.2h1.0M217.8 263.2h1.0M318.9 241.8h1.0M245.1 255.9h1.0M296.0 236.8h1.0M226.6 257.0h1.0M273.8 245.4h1.0M247.5 228.6h1.0M205.2 275.8h1.0M271.7 236.5h1.0M200.6 264.8h1.0M274.8 248.4h1.0M224.4 247.2h1.0M296.3 233.6h1.0M289.3 257.8h1.0M251.1 250.7h1.0M221.3 253.8h1.0M305.6 214.8h1.0M327.2 228.0h1.0M284.2 255.4h1.0M205.0 264.3h1.0M232.0 256.7h1.0M207.8 256.8h1.0M204.2 270.6h1.0M219.2 270.6h1.0M259.0 246.8h1.0M256.6 239.4h1.0M216.3 263.0h1.0M281.0 237.3h1.0M243.0 246.8h1.0M240.1 252.3h1.0M269.7 236.8h1.0M251.1 246.9h1.0M249.6 259.8h1.0M227.8 273.3h1.0M290.8 240.3h1.0M235.0 267.0h1.0M236.4 250.2h1.0M256.7 272.6h1.0M253.0 252.0h1.0M212.4 250.1h1.0M286.2 225.3h1.0M285.9 261.7h1.0M264.4 234.2h1.0M271.9 235.2h1.0M313.9 203.6h1.0M288.4 220.4h1.0M328.0 215.9h1.0M243.9 252.4h1.0M310.1 214.2h1.0M252.2 248.8h1.0M243.3 267.8h1.0M219.4 243.6h1.0M246.1 254.6h1.0M276.0 237.2h1.0M192.5 274.6h1.0M314.1 235.3h1.0M244.3 247.1h1.0M245.7 214.6h1.0M201.7 273.2h1.0M230.2 261.7h1.0M286.0 258.4h1.0M292.0 232.0h1.0M276.9 231.6h1.0M244.5 254.6h1.0M250.2 258.4h1.0M259.1 265.5h1.0M291.8 232.4h1.0M244.6 248.5h1.0M249.6 236.4h1.0M251.3 259.0h1.0M204.8 260.8h1.0M312.0 262.4h1.0M290.5 231.7h1.0M263.7 253.5h1.0M247.8 257.4h1.0M229.5 255.6h1.0M217.1 263.0h1.0M304.2 237.9h1.0M266.7 258.0h1.0M215.5 251.7h1.0M279.8 243.7h1.0M283.8 254.7h1.0M283.0 238.2h1.0M281.3 228.7h1.0M244.5 264.7h1.0M262.8 230.3h1.0M260.3 246.4h1.0M222.8 264.0h1.0M318.0 230.0h1.0M201.9 267.1h1.0M243.8 247.3h1.0M311.2 240.8h1.0M295.3 257.3h1.0M218.1 265.6h1.0M234.2 244.0h1.0M305.1 233.2h1.0M247.3 238.9h1.0M333.4 226.8h1.0M223.0 262.8h1.0M242.7 245.7h1.0M197.5 261.2h1.0M283.9 251.1h1.0M225.4 254.9h1.0M255.9 245.8h1.0M259.5 250.6h1.0M252.9 239.1h1.0M246.9 254.4h1.0M259.5 231.5h1.0M271.5 244.9h1.0M238.0 257.3h1.0M268.4 234.6h1.0M285.9 242.6h1.0M309.6 246.1h1.0M281.0 244.3h1.0M237.5 262.7h1.0M261.8 242.2h1.0M309.9 208.3h1.0M262.8 238.9h1.0M277.7 241.1h1.0M257.4 244.1h1.0M272.0 242.4h1.0M285.9 258.7h1.0M214.2 251.4h1.0M197.1 268.6h1.0M219.4 271.8h1.0M285.4 242.9h1.0M215.6 256.4h1.0M283.2 224.3h1.0M277.2 258.2h1.0M274.2 261.1h1.0M219.5 266.1h1.0M296.8 221.1h1.0M270.8 230.0h1.0M278.9 220.7h1.0M240.2 259.5h1.0M281.3 237.7h1.0M239.5 263.4h1.0M259.8 256.1h1.0M302.7 240.8h1.0M242.1 246.1h1.0M253.3 252.2h1.0M287.1 242.0h1.0M289.2 243.8h1.0M195.3 275.2h1.0M307.0 205.6h1.0M226.7 264.0h1.0M259.5 238.9h1.0M283.5 257.3h1.0M258.4 266.8h1.0M220.3 252.9h1.0M240.1 254.3h1.0M206.8 261.2h1.0M255.6 253.1h1.0M213.5 258.5h1.0M214.7 263.9h1.0M228.4 271.4h1.0M322.0 242.7h1.0M286.2 228.0h1.0M255.6 256.8h1.0M289.3 263.6h1.0M300.9 230.4h1.0M251.2 245.3h1.0M235.6 263.2h1.0M263.6 255.7h1.0M282.3 262.5h1.0M289.6 236.2h1.0M261.8 251.3h1.0M268.3 235.8h1.0M220.6 243.4h1.0M230.8 253.0h1.0M242.1 246.5h1.0M263.6 243.4h1.0M202.6 270.8h1.0M245.4 238.1h1.0M276.2 215.8h1.0M218.7 257.9h1.0M274.1 231.6h1.0M254.8 262.5h1.0M288.5 212.5h1.0M269.2 244.7h1.0M183.1 278.3h1.0M286.8 239.9h1.0M291.5 263.4h1.0M273.7 256.9h1.0M292.8 270.9h1.0M202.5 279.1h1.0M249.2 223.6h1.0M228.8 267.0h1.0M228.7 262.2h1.0M292.7 254.3h1.0M256.9 271.5h1.0M223.2 266.6h1.0M273.5 228.3h1.0M200.3 265.4h1.0M260.9 246.4h1.0M200.9 262.8h1.0M203.1 277.3h1.0M278.2 267.8h1.0M204.4 269.3h1.0M288.9 241.1h1.0M276.4 261.1h1.0M296.2 256.8h1.0M306.1 245.3h1.0M254.9 223.2h1.0M240.6 254.5h1.0M233.1 255.6h1.0M307.1 213.0h1.0M236.3 259.0h1.0M332.7 224.9h1.0M238.4 256.4h1.0M256.7 245.9h1.0M274.3 247.0h1.0M215.0 270.1h1.0M259.9 253.5h1.0M296.9 233.1h1.0M186.9 275.6h1.0M276.8 248.7h1.0M259.7 241.6h1.0M323.1 229.4h1.0M320.0 227.3h1.0M240.6 257.7h1.0M214.8 274.1h1.0M272.4 246.6h1.0M192.8 269.2h1.0M283.3 251.4h1.0M328.2 225.6h1.0M225.5 244.8h1.0M269.5 229.6h1.0M273.6 247.1h1.0M199.2 268.6h1.0M225.8 268.0h1.0M259.5 251.3h1.0M247.6 255.5h1.0M271.9 232.6h1.0M240.3 262.5h1.0M201.6 272.4h1.0M240.1 251.1h1.0M263.9 243.3h1.0M252.0 237.5h1.0M200.8 267.1h1.0M276.0 245.0h1.0M196.4 273.9h1.0M227.5 260.4h1.0M228.6 259.8h1.0M301.1 234.5h1.0M201.5 271.5h1.0M211.6 248.1h1.0M261.2 247.9h1.0M198.8 280.7h1.0M184.1 272.4h1.0M185.3 281.8h1.0M266.2 225.8h1.0M238.7 264.8h1.0M264.1 245.5h1.0M257.4 233.4h1.0M245.6 236.9h1.0M303.7 244.6h1.0M317.2 209.7h1.0M236.1 267.2h1.0M238.3 256.0h1.0M247.9 247.9h1.0M271.3 233.8h1.0M234.9 263.9h1.0M259.0 250.2h1.0M272.0 245.5h1.0M273.9 241.0h1.0M248.5 257.4h1.0M273.5 230.0h1.0M199.4 280.6h1.0M259.8 253.8h1.0M249.7 255.5h1.0M297.2 225.6h1.0M220.0 265.9h1.0M198.6 271.6h1.0M238.9 263.1h1.0M297.1 200.0h1.0M294.5 228.1h1.0M222.9 253.8h1.0M237.1 270.0h1.0M269.7 255.3h1.0M311.8 248.9h1.0M236.3 254.2h1.0M290.1 241.6h1.0M218.1 276.3h1.0M346.4 227.0h1.0M239.5 229.5h1.0M265.6 243.5h1.0M219.0 270.2h1.0M212.7 271.1h1.0M227.4 257.0h1.0M264.9 234.2h1.0M260.2 246.3h1.0M208.1 274.6h1.0M233.7 250.2h1.0M234.6 252.1h1.0M305.8 219.9h1.0M265.3 232.6h1.0M209.1 264.0h1.0M256.7 247.0h1.0M255.5 251.9h1.0M285.3 223.9h1.0M297.2 218.3h1.0M294.8 234.4h1.0M276.0 237.4h1.0M299.0 248.8h1.0M201.2 264.8h1.0M237.6 272.9h1.0M264.6 262.4h1.0M219.7 255.2h1.0M251.9 210.4h1.0M258.5 244.2h1.0M260.6 256.0h1.0M306.4 202.5h1.0M262.0 240.3h1.0M257.7 214.4h1.0M274.4 245.3h1.0M196.3 267.4h1.0M255.3 258.1h1.0M295.3 255.8h1.0M273.7 221.9h1.0M218.5 251.8h1.0M291.0 227.0h1.0M289.9 221.3h1.0M278.0 249.0h1.0M269.1 238.1h1.0M213.1 264.5h1.0M276.6 227.4h1.0M243.3 261.4h1.0M274.6 246.2h1.0M209.3 263.3h1.0M216.7 269.9h1.0M266.0 242.6h1.0M227.3 270.4h1.0M284.3 251.6h1.0M207.7 261.6h1.0M277.5 228.9h1.0M248.1 258.1h1.0M272.1 237.3h1.0M323.0 220.3h1.0M254.5 238.3h1.0M237.0 244.7h1.0M242.4 250.3h1.0M249.8 256.9h1.0M253.6 234.9h1.0M248.8 239.1h1.0M309.6 229.8h1.0M258.9 235.1h1.0M238.5 260.4h1.0M296.9 227.4h1.0M256.0 247.8h1.0M236.4 230.4h1.0M312.3 224.1h1.0M206.5 266.4h1.0M287.3 258.8h1.0M208.4 279.1h1.0M224.5 257.8h1.0M291.4 257.9h1.0M232.0 256.7h1.0M219.0 268.9h1.0M222.4 259.5h1.0M270.0 230.1h1.0M230.6 261.7h1.0M279.0 257.9h1.0M285.3 245.1h1.0M243.4 231.4h1.0M311.3 202.4h1.0M237.0 256.5h1.0M305.2 244.4h1.0M263.7 258.6h1.0M290.0 246.5h1.0M283.2 236.4h1.0M239.6 256.2h1.0M209.3 265.2h1.0M272.6 249.1h1.0M197.7 276.7h1.0M273.5 245.9h1.0M297.4 237.8h1.0M206.9 273.3h1.0M258.4 237.4h1.0M248.8 261.4h1.0M204.9 269.3h1.0M308.3 249.1h1.0M209.7 266.9h1.0M276.7 219.0h1.0M286.7 233.6h1.0M234.3 267.5h1.0M335.8 237.1h1.0M227.0 253.7h1.0M267.4 239.5h1.0M254.6 251.9h1.0M316.0 238.5h1.0M307.6 248.1h1.0M228.2 261.9h1.0M260.7 242.1h1.0M256.0 229.3h1.0M278.8 232.1h1.0M241.1 253.4h1.0M301.7 247.8h1.0M239.4 278.8h1.0M267.2 226.9h1.0M266.2 243.2h1.0M243.7 268.1h1.0M250.0 250.9h1.0M240.7 253.8h1.0M233.4 264.7h1.0M209.7 262.0h1.0M321.8 249.4h1.0M305.8 234.3h1.0M307.8 219.2h1.0M279.0 230.5h1.0M269.9 244.3h1.0M292.5 222.7h1.0M242.0 243.7h1.0M201.8 257.8h1.0M202.8 277.7h1.0M311.7 227.6h1.0M278.0 249.2h1.0M182.8 267.9h1.0M282.0 253.3h1.0M305.4 253.2h1.0M232.8 259.8h1.0M279.9 229.8h1.0M200.6 266.1h1.0M278.2 244.8h1.0M319.3 249.5h1.0M276.2 237.3h1.0M254.6 243.4h1.0M249.1 243.9h1.0M275.3 251.6h1.0M246.1 263.4h1.0M217.1 257.2h1.0M302.6 220.2h1.0M246.6 252.9h1.0M240.2 261.6h1.0M225.0 258.1h1.0M287.5 236.6h1.0M196.8 268.9h1.0M264.7 255.7h1.0M268.9 255.7h1.0M286.6 229.8h1.0M277.3 246.6h1.0M184.6 275.4h1.0M243.7 272.8h1.0M203.3 255.8h1.0M239.9 246.9h1.0M288.9 229.5h1.0M289.6 251.6h1.0M202.7 266.3h1.0M279.7 242.6h1.0M262.6 244.8h1.0M271.2 226.2h1.0M333.0 222.0h1.0M298.1 244.0h1.0M253.4 226.8h1.0M281.8 244.2h1.0M286.5 251.5h1.0M215.9 267.6h1.0M267.1 240.1h1.0M289.3 200.2h1.0M250.8 223.6h1.0M280.5 235.1h1.0M188.6 264.5h1.0M244.7 265.1h1.0M294.2 226.2h1.0M222.0 276.7h1.0M232.2 256.0h1.0M212.6 266.8h1.0M315.3 234.4h1.0M248.5 256.8h1.0M321.7 214.6h1.0M325.0 216.5h1.0M264.7 232.4h1.0M247.6 218.1h1.0M227.0 257.8h1.0M254.2 245.0h1.0M215.6 242.3h1.0M231.6 252.1h1.0M294.6 251.8h1.0M318.5 216.4h1.0M280.0 220.2h1.0M192.4 262.2h1.0M319.6 232.7h1.0M226.4 257.8h1.0M290.3 249.0h1.0M324.6 242.9h1.0M227.8 257.1h1.0M274.0 273.5h1.0M233.3 255.6h1.0M278.8 204.1h1.0M306.7 246.4h1.0M248.3 274.7h1.0M271.0 245.7h1.0M282.4 245.8h1.0M200.9 281.7h1.0M234.7 260.1h1.0M287.3 215.5h1.0M284.1 262.0h1.0M291.9 228.4h1.0M230.7 269.1h1.0M196.0 264.6h1.0M253.8 262.3h1.0M291.4 225.5h1.0M303.3 225.9h1.0M305.4 218.2h1.0M279.6 219.5h1.0M190.1 277.6h1.0M280.4 261.3h1.0M255.0 228.6h1.0M314.0 242.2h1.0M270.2 264.7h1.0M229.7 252.1h1.0M277.6 252.7h1.0M284.8 232.6h1.0M217.7 278.1h1.0M269.9 218.4h1.0M221.4 262.5h1.0M230.6 252.0h1.0M292.9 250.6h1.0M280.3 259.6h1.0M248.6 255.5h1.0M282.5 225.1h1.0M281.7 210.9h1.0M277.0 223.9h1.0M212.8 269.5h1.0M200.2 272.8h1.0M267.7 238.1h1.0M305.2 223.1h1.0M267.4 249.2h1.0M220.9 264.1h1.0M196.1 264.5h1.0M299.6 234.3h1.0M284.9 242.7h1.0M265.3 237.8h1.0M220.9 274.5h1.0M312.6 233.6h1.0M256.7 261.2h1.0M255.0 254.7h1.0M248.1 247.9h1.0M266.1 233.6h1.0M253.9 249.5h1.0M304.3 244.6h1.0M258.5 239.2h1.0M233.5 244.7h1.0M242.2 260.7h1.0M245.4 274.8h1.0M266.1 234.4h1.0M262.0 271.8h1.0M229.8 262.5h1.0M316.0 232.4h1.0M252.0 243.3h1.0M210.5 265.1h1.0M226.7 253.4h1.0M267.6 249.2h1.0M291.1 215.0h1.0M275.6 257.0h1.0M297.7 215.4h1.0M272.8 246.9h1.0M306.9 234.9h1.0M237.9 239.3h1.0M308.7 227.7h1.0M230.6 266.9h1.0M213.9 267.7h1.0M280.2 258.3h1.0M224.6 256.3h1.0M235.2 268.6h1.0M214.5 253.8h1.0M229.0 270.1h1.0M232.9 257.2h1.0M222.9 274.5h1.0M263.2 226.6h1.0M266.3 272.1h1.0M249.4 250.0h1.0M251.9 254.0h1.0M305.2 248.9h1.0M228.2 267.8h1.0M235.7 246.2h1.0M314.4 256.9h1.0M251.0 242.2h1.0M236.4 253.8h1.0M257.3 236.1h1.0M230.4 275.4h1.0M306.4 224.2h1.0M252.4 251.2h1.0M216.7 271.7h1.0M235.9 260.8h1.0M188.9 279.7h1.0M181.4 274.3h1.0M299.9 233.8h1.0M259.0 250.1h1.0M270.9 236.8h1.0M208.9 259.4h1.0M262.4 260.6h1.0M256.8 221.0h1.0M203.1 266.6h1.0M233.4 268.7h1.0M260.6 257.2h1.0M213.4 267.4h1.0M240.6 255.1h1.0M217.4 262.7h1.0M266.2 217.5h1.0M273.7 243.2h1.0M213.8 257.0h1.0M238.2 270.1h1.0M224.9 275.2h1.0M307.0 240.9h1.0M211.5 272.3h1.0M246.8 268.3h1.0M222.1 270.7h1.0M217.2 267.0h1.0M186.5 275.0h1.0M266.1 240.6h1.0M222.8 264.2h1.0M239.4 259.7h1.0M211.9 273.6h1.0M200.2 266.9h1.0M251.3 236.5h1.0M286.0 223.8h1.0M233.1 266.8h1.0M238.2 259.6h1.0M222.8 260.0h1.0M301.5 224.5h1.0M226.5 259.0h1.0M281.0 239.4h1.0M269.1 247.4h1.0M299.9 219.6h1.0M211.0 275.0h1.0M284.9 227.8h1.0M230.3 261.0h1.0M292.6 243.7h1.0M303.5 205.8h1.0M240.2 267.4h1.0M277.3 209.5h1.0M197.2 263.7h1.0M270.2 225.3h1.0M241.7 237.0h1.0M226.5 249.7h1.0M314.3 230.9h1.0M248.5 233.2h1.0M216.0 263.4h1.0M289.3 234.0h1.0M211.5 276.4h1.0M283.1 241.4h1.0M254.4 236.9h1.0M223.0 265.7h1.0M272.1 250.3h1.0M262.5 256.3h1.0M296.2 219.7h1.0M211.3 270.1h1.0M205.6 272.8h1.0M293.9 226.0h1.0M246.1 261.4h1.0M255.8 245.7h1.0M239.1 252.8h1.0M262.1 253.7h1.0M307.7 239.2h1.0M302.7 225.2h1.0M194.0 270.7h1.0M235.8 240.4h1.0M220.1 241.9h1.0M236.7 260.7h1.0M282.6 201.2h1.0M298.9 233.6h1.0M277.1 247.5h1.0M244.7 254.3h1.0M258.5 247.2h1.0M267.4 257.9h1.0M200.9 272.2h1.0M236.5 275.7h1.0M257.3 242.0h1.0M238.1 258.0h1.0M280.9 242.8h1.0M319.0 239.5h1.0M296.5 238.5h1.0M231.6 270.5h1.0M284.5 239.2h1.0M281.1 232.0h1.0M213.4 269.8h1.0M203.0 280.1h1.0M209.3 267.5h1.0M193.0 271.2h1.0M309.9 233.9h1.0M195.2 270.4h1.0M250.0 254.9h1.0M267.1 236.2h1.0M282.8 239.7h1.0M287.6 242.0h1.0M278.4 235.9h1.0M211.3 264.4h1.0M259.0 248.8h1.0M248.9 258.7h1.0M280.2 240.7h1.0M253.9 224.5h1.0M302.0 236.9h1.0M274.1 211.2h1.0M211.5 263.7h1.0M213.9 272.6h1.0M230.1 233.2h1.0M236.2 247.6h1.0M241.2 255.9h1.0M222.3 246.4h1.0M262.6 245.5h1.0M230.7 251.3h1.0M220.7 264.0h1.0M310.9 223.5h1.0M255.3 277.3h1.0M207.7 267.9h1.0M248.7 251.6h1.0M201.6 266.9h1.0M240.0 261.5h1.0M248.6 264.4h1.0M206.2 260.7h1.0M180.4 275.8h1.0M287.9 204.9h1.0M278.4 264.8h1.0M249.4 240.2h1.0M201.0 270.2h1.0M262.6 240.6h1.0M258.3 249.7h1.0M309.8 245.0h1.0M215.3 265.4h1.0M292.9 249.4h1.0M211.3 254.8h1.0M253.9 240.7h1.0M316.4 230.2h1.0M302.4 237.3h1.0M234.0 258.6h1.0M252.4 232.8h1.0M309.8 224.5h1.0M289.1 252.4h1.0M207.4 261.9h1.0M301.4 213.6h1.0M328.8 245.8h1.0M288.3 243.9h1.0M209.7 269.0h1.0M264.0 241.3h1.0M282.5 220.2h1.0M231.2 267.2h1.0M195.5 280.4h1.0M242.6 249.0h1.0M204.9 262.2h1.0M234.2 262.8h1.0M224.5 267.7h1.0M214.7 273.7h1.0M242.6 269.0h1.0M296.2 242.0h1.0M255.9 269.4h1.0M294.7 217.3h1.0M303.4 230.3h1.0M294.6 274.6h1.0M266.9 248.2h1.0M241.4 263.5h1.0M186.0 274.7h1.0M263.4 253.8h1.0M233.4 245.1h1.0M204.7 267.6h1.0M244.8 264.1h1.0M264.4 256.8h1.0M272.3 243.2h1.0M249.6 259.2h1.0M245.7 263.9h1.0M255.3 260.0h1.0M274.8 244.7h1.0M245.3 239.2h1.0M213.4 273.4h1.0M234.9 252.9h1.0M269.2 243.4h1.0M299.3 199.6h1.0M299.1 212.9h1.0M223.6 252.2h1.0M244.5 266.3h1.0M280.5 232.1h1.0M215.4 260.9h1.0M320.2 222.6h1.0M210.5 255.5h1.0M227.9 246.4h1.0M305.4 208.7h1.0M274.4 237.1h1.0M274.5 246.3h1.0M268.2 277.0h1.0M227.3 258.7h1.0M209.7 261.6h1.0M304.2 222.3h1.0M241.5 265.4h1.0M250.8 263.5h1.0M256.5 237.5h1.0M226.8 259.3h1.0M245.6 266.0h1.0M281.0 218.3h1.0M203.6 269.7h1.0M282.3 227.6h1.0M301.3 214.3h1.0M230.6 262.9h1.0M251.8 246.2h1.0M268.6 252.5h1.0M285.1 254.2h1.0M212.8 264.7h1.0M342.6 210.4h1.0M227.1 256.9h1.0M306.3 224.2h1.0M215.3 271.7h1.0M308.0 216.4h1.0M310.5 236.4h1.0M264.8 264.8h1.0M294.1 241.5h1.0M280.5 253.7h1.0M277.4 223.7h1.0M249.4 252.4h1.0M221.9 266.5h1.0M197.3 253.4h1.0M283.0 232.3h1.0M271.2 253.0h1.0M219.3 271.9h1.0M220.2 276.0h1.0M311.2 233.9h1.0M223.1 258.9h1.0M281.5 237.2h1.0M287.9 231.0h1.0M188.8 280.2h1.0M185.9 276.8h1.0M243.2 248.0h1.0M198.0 265.0h1.0M193.9 279.8h1.0M242.5 251.2h1.0M261.6 238.9h1.0M289.0 236.1h1.0M245.9 241.2h1.0M246.7 241.6h1.0M260.0 231.3h1.0M257.7 252.0h1.0M258.7 246.6h1.0M236.8 268.4h1.0M306.1 252.5h1.0M246.5 235.0h1.0M254.3 254.7h1.0M237.6 229.4h1.0M265.9 232.3h1.0M311.5 257.1h1.0M235.7 254.6h1.0M267.0 247.1h1.0M193.8 269.8h1.0M233.0 262.7h1.0M225.2 264.2h1.0M242.4 278.8h1.0M277.6 243.5h1.0M314.5 223.5h1.0M251.2 219.0h1.0M246.8 252.6h1.0M266.2 270.2h1.0M227.3 258.1h1.0M281.8 203.2h1.0M257.4 252.9h1.0M228.9 266.6h1.0M233.6 257.2h1.0M248.2 248.9h1.0M284.0 261.1h1.0M219.1 261.5h1.0M205.8 273.8h1.0M225.5 265.4h1.0M212.2 278.1h1.0M237.4 262.9h1.0M298.5 236.2h1.0M269.8 241.7h1.0M228.6 264.1h1.0M301.9 243.4h1.0M320.5 245.7h1.0M263.4 237.4h1.0M231.9 246.3h1.0M191.2 272.4h1.0M197.4 269.7h1.0M301.4 224.0h1.0M196.4 266.4h1.0M192.8 271.1h1.0M243.0 258.6h1.0M250.7 271.6h1.0M297.7 213.2h1.0M264.3 254.8h1.0M248.3 253.0h1.0M321.9 231.7h1.0M293.6 238.5h1.0M205.0 263.1h1.0M304.9 226.7h1.0M241.9 262.6h1.0M250.6 242.8h1.0M263.0 229.2h1.0M227.9 258.3h1.0M246.9 217.8h1.0M212.0 258.1h1.0M243.4 266.6h1.0M313.0 260.8h1.0M317.4 246.5h1.0M250.4 254.7h1.0M244.5 254.8h1.0M285.2 229.2h1.0M189.3 275.9h1.0M334.4 236.4h1.0M199.8 272.6h1.0M270.9 233.7h1.0M244.0 254.2h1.0M259.5 260.3h1.0M290.7 224.1h1.0M270.0 263.1h1.0M288.7 248.2h1.0M206.6 267.5h1.0M326.2 243.7h1.0M202.9 262.5h1.0M311.5 223.3h1.0M271.8 242.8h1.0M253.1 250.3h1.0M248.5 233.0h1.0M252.6 271.6h1.0M202.4 264.3h1.0M203.2 282.9h1.0M216.1 264.6h1.0M327.3 237.4h1.0M235.0 232.8h1.0M233.6 262.4h1.0M257.1 272.3h1.0M290.0 244.8h1.0M282.1 229.8h1.0M291.1 228.0h1.0M203.0 274.4h1.0M288.1 216.2h1.0M245.4 253.5h1.0M214.7 265.1h1.0M295.1 219.3h1.0M225.8 254.0h1.0M253.6 245.7h1.0M305.2 210.4h1.0M203.7 281.1h1.0M262.7 213.1h1.0M248.5 264.4h1.0M217.9 269.6h1.0M230.6 245.8h1.0M284.5 228.0h1.0M328.8 231.3h1.0M217.8 257.9h1.0M272.8 239.7h1.0M263.5 252.2h1.0M265.5 236.1h1.0M284.0 241.6h1.0M335.7 216.1h1.0M309.1 206.6h1.0M228.4 241.9h1.0M296.6 232.5h1.0M238.7 257.2h1.0M297.5 226.0h1.0M270.6 257.9h1.0M283.0 220.6h1.0M227.7 260.4h1.0M271.8 255.1h1.0M234.5 259.9h1.0M236.9 270.0h1.0M238.1 256.3h1.0M260.9 256.6h1.0M252.7 232.2h1.0M267.0 256.1h1.0M264.8 251.6h1.0M289.7 218.5h1.0M300.7 217.8h1.0M218.4 277.7h1.0M215.0 261.5h1.0M193.3 277.7h1.0M290.5 229.9h1.0M217.8 266.0h1.0M261.7 220.9h1.0M303.8 251.7h1.0M314.7 247.6h1.0M217.8 261.8h1.0M257.4 244.8h1.0M287.8 232.3h1.0M260.7 260.1h1.0M280.7 231.3h1.0M243.4 257.2h1.0M210.7 261.4h1.0M197.8 269.0h1.0M200.2 251.0h1.0M198.8 268.5h1.0M198.6 272.6h1.0M283.8 237.5h1.0M219.2 269.2h1.0M240.6 273.7h1.0M201.4 266.9h1.0M279.7 248.2h1.0M307.8 244.8h1.0M292.1 241.7h1.0M200.2 260.0h1.0M246.3 260.0h1.0M189.4 270.0h1.0M304.6 219.4h1.0M232.2 249.4h1.0M205.7 271.9h1.0M210.3 268.6h1.0M315.5 245.8h1.0M307.7 208.8h1.0M220.5 245.7h1.0M220.0 271.9h1.0M280.9 234.3h1.0M225.8 255.9h1.0M214.9 270.0h1.0M247.7 248.9h1.0M219.1 274.8h1.0M218.2 254.0h1.0M251.3 247.0h1.0M262.1 252.1h1.0M212.4 267.9h1.0M299.4 242.3h1.0M190.5 279.6h1.0M275.1 237.2h1.0M247.7 253.2h1.0M254.9 257.4h1.0M298.5 238.9h1.0M263.6 230.7h1.0M256.2 250.4h1.0M178.4 281.9h1.0M253.9 259.7h1.0M290.5 231.5h1.0M298.6 226.4h1.0M270.7 252.9h1.0M266.7 259.3h1.0M258.1 245.6h1.0M266.2 258.0h1.0M280.4 233.2h1.0M296.4 237.0h1.0M222.1 261.6h1.0M255.4 226.5h1.0M291.1 253.1h1.0M279.8 234.9h1.0M275.7 251.0h1.0M283.3 240.7h1.0M270.4 241.6h1.0M208.1 277.0h1.0M200.5 274.9h1.0M313.9 236.9h1.0M205.3 260.9h1.0M250.8 240.2h1.0M213.3 247.7h1.0M256.1 213.6h1.0M208.7 254.3h1.0M290.1 242.3h1.0M296.0 248.5h1.0M287.7 233.4h1.0M275.6 233.9h1.0M295.3 216.7h1.0M267.3 247.7h1.0M263.7 252.6h1.0M304.8 232.0h1.0M207.5 272.6h1.0M211.4 263.6h1.0M257.3 263.9h1.0M190.7 269.5h1.0M190.7 277.4h1.0M287.5 224.6h1.0M309.4 246.7h1.0M277.1 235.8h1.0M298.5 235.8h1.0M280.5 268.0h1.0M308.2 204.6h1.0M294.6 224.8h1.0M303.9 240.7h1.0M269.8 250.1h1.0M245.4 237.9h1.0M278.9 244.3h1.0M219.2 243.2h1.0M271.3 225.7h1.0M210.0 276.7h1.0M263.5 247.9h1.0M232.7 262.5h1.0M240.1 251.0h1.0M331.5 231.3h1.0M245.1 253.7h1.0M189.2 269.8h1.0M282.7 221.5h1.0M268.5 231.5h1.0M210.5 256.3h1.0M199.2 278.5h1.0M194.7 269.6h1.0M230.4 244.7h1.0M180.0 261.0h1.0M277.7 243.5h1.0M217.5 268.4h1.0M212.0 275.1h1.0M291.3 231.1h1.0M277.8 228.8h1.0M189.9 274.1h1.0M219.2 275.6h1.0M334.4 214.1h1.0M288.9 234.5h1.0M225.5 265.6h1.0M207.6 269.9h1.0M235.0 254.1h1.0M257.7 247.2h1.0M277.7 238.0h1.0M301.5 225.0h1.0M284.8 218.3h1.0M233.6 266.0h1.0M281.4 242.7h1.0M259.6 256.0h1.0M289.2 229.7h1.0M274.7 223.4h1.0M281.0 232.4h1.0M194.9 277.5h1.0M241.1 252.3h1.0M287.9 243.8h1.0M277.3 246.9h1.0M288.6 221.5h1.0M213.3 251.1h1.0M192.7 275.0h1.0M285.6 263.6h1.0M278.2 215.9h1.0M270.5 231.3h1.0M214.7 271.7h1.0M261.2 270.5h1.0M275.9 246.3h1.0M255.8 273.0h1.0M247.1 240.4h1.0M263.6 257.9h1.0M244.7 247.4h1.0M211.2 257.5h1.0M316.4 234.0h1.0M293.3 220.8h1.0M256.2 249.2h1.0M214.2 274.3h1.0M270.4 231.2h1.0M255.3 258.3h1.0M238.6 261.6h1.0M261.2 257.5h1.0M207.9 277.2h1.0M251.3 269.3h1.0M192.3 275.1h1.0M194.9 278.7h1.0M276.3 253.3h1.0M288.1 219.0h1.0M224.2 245.7h1.0M228.6 255.7h1.0M262.0 251.6h1.0M228.5 276.9h1.0M292.6 254.5h1.0M225.2 256.1h1.0M278.6 228.9h1.0M270.6 233.5h1.0M260.2 242.3h1.0M235.0 264.3h1.0M305.1 226.6h1.0M206.9 260.4h1.0M315.5 224.0h1.0M316.4 232.9h1.0M287.9 243.9h1.0M283.4 221.0h1.0M276.6 256.5h1.0M278.4 242.2h1.0M284.4 227.7h1.0M283.3 246.2h1.0M231.6 256.2h1.0M280.7 247.6h1.0M212.8 256.0h1.0M306.3 235.8h1.0M264.4 215.5h1.0M289.8 248.6h1.0M213.2 265.3h1.0M304.6 227.2h1.0M328.2 223.3h1.0M323.2 224.4h1.0M225.8 243.9h1.0M231.3 257.7h1.0M213.9 260.7h1.0M257.4 248.9h1.0M241.9 266.5h1.0M228.5 270.3h1.0M270.0 238.6h1.0M232.6 257.5h1.0M204.7 277.2h1.0M294.9 223.3h1.0M311.1 217.7h1.0M257.9 259.0h1.0M227.1 252.0h1.0M276.1 232.6h1.0M192.5 273.5h1.0M258.7 242.2h1.0M241.2 250.7h1.0M213.7 261.1h1.0M198.1 266.2h1.0M192.4 282.5h1.0M195.5 274.1h1.0M242.6 255.0h1.0M201.2 269.2h1.0M210.9 246.9h1.0M256.0 256.0h1.0M289.8 235.5h1.0M225.7 269.3h1.0M225.2 245.3h1.0M202.7 282.0h1.0M300.1 223.3h1.0M297.3 249.3h1.0M230.3 250.0h1.0M246.9 225.2h1.0M285.5 215.0h1.0M235.6 251.4h1.0M255.0 253.6h1.0M265.8 245.4h1.0M300.1 247.9h1.0M288.0 263.0h1.0M311.4 227.5h1.0M214.9 268.3h1.0M294.3 244.6h1.0M237.4 253.3h1.0M292.8 236.2h1.0M243.2 245.3h1.0M306.1 233.4h1.0M261.4 261.6h1.0M260.7 251.6h1.0M322.5 199.7h1.0M238.4 250.8h1.0M263.8 244.0h1.0M205.3 266.0h1.0M260.2 238.4h1.0M270.6 240.1h1.0M298.8 237.1h1.0M267.1 236.5h1.0M199.0 265.2h1.0M287.1 229.2h1.0M272.3 204.7h1.0M264.9 243.6h1.0M201.0 262.6h1.0M262.9 263.8h1.0M203.4 268.8h1.0M269.8 234.5h1.0M235.2 269.0h1.0M220.2 258.2h1.0M204.6 263.7h1.0M294.2 236.0h1.0M292.1 231.8h1.0M258.1 276.1h1.0M231.8 259.2h1.0M252.7 240.6h1.0M235.8 258.6h1.0M203.7 261.7h1.0M195.6 271.8h1.0M256.1 266.3h1.0M233.8 248.7h1.0M287.1 265.2h1.0M235.3 270.3h1.0M233.0 250.3h1.0M200.4 266.5h1.0M239.3 263.0h1.0M258.5 235.6h1.0M240.7 267.5h1.0M217.0 254.4h1.0M224.6 242.4h1.0M266.3 248.0h1.0M184.2 276.6h1.0M259.0 225.1h1.0M211.6 267.2h1.0M195.6 271.5h1.0M201.5 270.4h1.0M237.4 262.7h1.0M299.8 263.2h1.0M325.0 222.1h1.0M258.8 241.4h1.0M264.1 251.6h1.0M249.3 266.5h1.0M304.1 238.2h1.0M187.3 274.1h1.0M297.8 246.0h1.0M227.1 260.3h1.0M233.9 273.6h1.0M246.3 248.8h1.0M204.2 269.2h1.0M200.4 265.5h1.0M224.5 272.3h1.0M231.0 253.7h1.0M212.7 267.7h1.0M286.2 228.1h1.0M226.2 277.2h1.0M243.8 249.2h1.0M195.9 281.8h1.0M264.6 237.7h1.0M311.1 241.1h1.0M312.8 240.0h1.0M202.7 261.8h1.0M209.9 273.9h1.0M256.6 251.3h1.0M263.8 224.5h1.0M256.3 271.5h1.0M195.4 277.3h1.0M261.8 241.0h1.0M239.6 240.8h1.0M198.8 266.7h1.0M257.0 268.2h1.0M275.5 230.1h1.0M202.6 270.9h1.0M203.5 270.0h1.0M260.7 259.0h1.0M326.7 230.5h1.0M308.3 241.6h1.0M325.2 220.1h1.0M278.7 229.9h1.0M180.2 282.3h1.0M290.3 234.3h1.0M239.1 253.7h1.0M305.8 229.6h1.0M186.3 279.0h1.0M299.5 224.3h1.0M306.6 239.5h1.0M234.2 256.8h1.0M302.6 217.8h1.0M219.4 270.8h1.0M278.9 211.5h1.0M203.2 276.9h1.0M279.0 235.6h1.0M277.3 237.8h1.0M255.4 203.1h1.0M238.2 257.7h1.0M283.4 217.9h1.0M307.2 239.0h1.0M257.3 243.5h1.0M299.6 243.3h1.0M247.8 238.3h1.0M289.1 220.1h1.0M237.7 263.0h1.0M234.7 264.9h1.0M229.9 249.7h1.0M205.9 270.4h1.0M314.0 265.6h1.0M203.4 272.5h1.0M332.4 233.6h1.0M312.5 212.2h1.0M213.5 272.4h1.0M236.1 276.5h1.0M199.9 264.2h1.0M265.9 237.8h1.0M315.0 239.4h1.0M299.9 236.0h1.0M294.6 226.5h1.0M310.2 237.8h1.0M294.7 225.0h1.0M243.1 253.4h1.0M235.0 269.6h1.0M262.7 256.1h1.0M219.7 260.9h1.0M232.4 258.8h1.0M226.9 264.9h1.0M276.2 236.1h1.0M233.3 262.1h1.0M300.4 207.5h1.0M292.6 236.3h1.0M191.9 277.0h1.0M198.6 271.8h1.0M207.1 259.7h1.0M299.4 239.6h1.0M198.4 273.8h1.0M192.1 281.0h1.0M261.9 244.5h1.0M208.8 278.6h1.0M308.8 216.3h1.0M226.0 260.6h1.0M230.0 261.6h1.0M343.9 225.8h1.0M238.0 248.8h1.0M212.6 269.3h1.0M277.7 234.0h1.0M245.2 248.3h1.0M261.0 246.8h1.0M308.4 219.2h1.0M295.7 215.1h1.0M213.2 260.7h1.0M258.1 260.1h1.0M290.2 217.5h1.0M258.4 230.0h1.0M232.3 271.5h1.0M317.3 217.2h1.0M227.6 257.8h1.0M261.8 221.1h1.0M205.0 277.5h1.0M274.4 242.9h1.0M193.6 269.4h1.0M184.5 280.5h1.0M247.8 256.6h1.0M265.9 236.3h1.0M277.6 227.7h1.0M243.0 253.9h1.0M268.1 240.8h1.0M232.3 259.1h1.0M254.2 265.1h1.0M301.4 236.9h1.0M241.2 261.5h1.0M291.1 216.6h1.0M303.6 240.9h1.0M217.7 255.0h1.0M186.4 269.3h1.0M274.1 211.5h1.0M234.4 250.3h1.0M209.1 259.1h1.0M224.2 259.2h1.0M283.5 251.7h1.0M193.7 272.0h1.0M321.2 237.5h1.0M239.6 256.8h1.0M207.1 262.7h1.0M278.3 236.6h1.0M267.7 254.3h1.0M201.3 275.5h1.0M204.2 270.5h1.0M228.5 271.6h1.0M233.7 269.7h1.0M218.8 275.3h1.0M245.6 275.3h1.0M264.1 273.3h1.0M248.2 271.0h1.0M247.8 269.9h1.0M261.5 270.0h1.0M235.6 275.9h1.0M216.3 278.2h1.0M229.8 274.4h1.0M250.7 273.7h1.0M250.2 271.7h1.0M246.5 266.8h1.0M256.5 271.0h1.0M230.7 273.8h1.0M258.5 270.9h1.0M239.8 272.4h1.0M230.0 269.9h1.0M246.5 275.4h1.0M231.9 274.4h1.0M244.9 274.5h1.0M238.3 273.7h1.0M243.1 270.2h1.0M238.5 275.9h1.0M234.0 277.6h1.0M237.5 270.3h1.0M236.9 269.5h1.0M246.7 268.5h1.0M240.2 272.8h1.0M236.8 274.9h1.0M243.2 271.7h1.0M248.9 271.9h1.0M249.8 277.2h1.0M244.1 276.2h1.0M225.5 275.6h1.0M223.9 273.4h1.0M247.6 265.2h1.0M231.6 271.4h1.0M229.8 273.9h1.0M247.0 269.8h1.0M233.3 268.1h1.0M232.4 267.5h1.0M223.7 275.4h1.0M249.5 270.8h1.0M243.8 271.1h1.0M251.6 278.4h1.0M213.3 271.7h1.0M233.1 272.3h1.0M257.0 277.7h1.0M239.9 275.4h1.0M222.8 273.1h1.0M236.9 273.1h1.0M243.2 268.7h1.0M240.5 272.1h1.0M233.5 278.7h1.0M233.1 269.2h1.0M239.1 272.8h1.0M242.0 272.7h1.0M240.4 276.2h1.0M235.1 273.6h1.0M234.6 274.4h1.0M234.8 276.2h1.0M255.0 276.8h1.0M247.2 273.7h1.0M248.8 271.2h1.0M248.9 272.3h1.0M226.6 273.4h1.0M243.8 269.8h1.0M227.6 278.9h1.0M241.7 273.2h1.0M225.0 270.8h1.0M228.8 273.7h1.0M238.8 271.7h1.0M232.7 274.0h1.0M252.7 268.9h1.0M224.6 277.3h1.0M224.5 272.7h1.0M241.3 278.9h1.0M217.9 265.4h1.0M239.1 276.7h1.0M241.6 271.0h1.0M242.1 267.3h1.0M248.9 277.7h1.0M237.8 276.0h1.0M228.6 278.3h1.0M233.0 271.3h1.0M231.7 268.4h1.0M247.3 279.3h1.0M224.5 273.4h1.0M244.9 271.7h1.0M223.1 275.0h1.0M250.9 273.5h1.0M228.4 272.9h1.0M219.1 273.9h1.0M253.2 276.5h1.0M239.1 274.8h1.0M234.4 274.1h1.0M233.5 274.2h1.0M234.4 274.3h1.0M247.5 273.2h1.0M226.0 275.4h1.0M237.3 272.1h1.0M246.1 270.8h1.0M250.1 274.9h1.0M232.5 271.6h1.0M238.7 270.8h1.0M250.3 266.4h1.0M241.6 272.4h1.0M228.1 275.7h1.0M234.8 275.0h1.0M235.3 272.8h1.0M245.7 276.2h1.0M250.8 273.1h1.0M256.1 272.0h1.0M225.3 268.3h1.0M224.4 271.4h1.0M220.7 275.0h1.0M240.4 273.4h1.0M242.6 273.1h1.0M237.3 272.6h1.0M240.5 270.1h1.0M253.8 277.7h1.0M228.9 272.6h1.0M240.7 270.5h1.0M232.1 273.5h1.0M237.2 274.9h1.0M239.4 276.1h1.0M237.7 271.9h1.0M258.9 276.2h1.0M240.9 269.1h1.0M253.2 272.2h1.0M241.1 273.8h1.0M250.4 275.1h1.0M220.3 272.1h1.0M243.8 273.9h1.0M248.6 275.0h1.0M257.6 270.8h1.0M254.2 274.2h1.0M243.3 275.5h1.0M236.4 275.8h1.0M237.8 275.7h1.0M231.8 277.3h1.0M223.6 272.0h1.0M239.5 274.2h1.0M231.4 272.5h1.0M242.8 276.6h1.0M254.0 271.7h1.0M239.3 272.6h1.0M223.6 272.6h1.0M252.3 269.1h1.0M271.0 275.6h1.0M258.8 273.5h1.0M215.2 275.6h1.0M257.2 271.3h1.0M253.8 275.4h1.0M248.5 275.5h1.0M246.4 275.3h1.0M253.0 274.4h1.0M246.9 274.6h1.0M241.6 270.8h1.0M220.7 271.0h1.0M226.7 269.4h1.0M247.5 272.3h1.0M253.8 282.5h1.0M222.7 262.8h1.0M215.2 264.3h1.0M189.2 272.4h1.0M178.7 269.5h1.0M243.1 265.1h1.0M227.9 259.0h1.0M217.1 279.4h1.0M200.6 272.6h1.0M218.7 255.9h1.0M224.0 259.2h1.0M218.1 267.4h1.0M209.1 268.3h1.0M206.7 266.8h1.0M214.6 266.6h1.0M209.0 264.5h1.0M235.6 264.1h1.0M212.5 270.0h1.0M210.6 274.9h1.0M208.2 267.6h1.0M241.2 256.6h1.0M212.5 248.3h1.0M241.4 266.4h1.0M221.4 263.4h1.0M203.2 272.3h1.0M233.2 261.2h1.0M221.0 262.3h1.0M188.8 265.9h1.0M205.8 273.9h1.0M237.0 268.7h1.0M203.3 272.3h1.0M206.9 274.6h1.0M232.0 271.1h1.0M221.5 270.5h1.0M210.7 264.1h1.0M239.1 250.4h1.0M197.6 281.4h1.0M197.4 264.8h1.0M237.4 258.2h1.0M187.3 260.1h1.0M205.4 270.4h1.0M244.4 263.1h1.0M228.4 264.6h1.0M221.8 274.9h1.0M222.7 266.9h1.0M228.3 268.0h1.0M202.3 271.7h1.0M201.7 259.7h1.0M225.8 258.6h1.0M214.9 255.9h1.0M211.7 262.6h1.0M182.4 267.9h1.0M214.4 274.2h1.0M239.7 264.1h1.0M229.5 270.0h1.0M217.6 270.4h1.0M226.9 261.8h1.0M244.0 259.8h1.0M195.4 267.3h1.0M193.5 261.8h1.0M222.7 274.2h1.0M212.5 272.5h1.0M220.6 278.4h1.0M232.5 261.8h1.0M219.4 270.8h1.0M207.6 275.2h1.0M231.3 259.5h1.0M187.4 273.3h1.0M222.1 272.3h1.0M207.5 270.1h1.0M205.5 277.7h1.0M202.1 266.9h1.0M236.2 267.9h1.0M215.0 268.3h1.0M244.0 260.2h1.0M229.3 263.0h1.0M218.7 254.2h1.0M210.5 267.3h1.0M211.2 274.9h1.0M191.1 275.4h1.0M219.3 271.4h1.0M233.1 265.6h1.0M224.2 269.5h1.0M250.3 263.1h1.0M217.2 275.3h1.0M209.1 267.9h1.0M181.2 270.4h1.0M215.9 277.1h1.0M210.1 260.2h1.0M199.8 276.8h1.0M203.9 263.6h1.0M211.3 257.4h1.0M214.2 260.8h1.0M221.1 270.0h1.0M207.0 277.5h1.0M229.3 267.4h1.0M228.1 272.1h1.0M224.7 278.0h1.0M230.5 267.5h1.0M213.3 255.4h1.0M231.7 258.9h1.0M208.0 272.9h1.0M211.5 266.3h1.0M205.9 265.5h1.0M224.1 274.8h1.0M209.0 270.3h1.0M234.0 273.9h1.0M188.7 280.0h1.0M212.9 267.8h1.0M199.9 278.1h1.0M214.4 271.5h1.0M230.8 265.0h1.0M202.9 263.9h1.0M227.6 265.2h1.0M241.0 265.1h1.0M201.5 258.3h1.0M223.1 269.1h1.0M198.8 271.6h1.0M221.2 269.4h1.0M233.3 266.5h1.0M217.0 268.7h1.0M238.5 269.5h1.0M203.4 265.0h1.0M215.9 265.7h1.0M224.2 267.4h1.0M196.5 271.9h1.0M247.1 267.4h1.0M220.4 258.3h1.0M193.0 276.0h1.0M189.3 272.4h1.0M199.0 281.8h1.0M200.2 269.9h1.0M185.6 267.1h1.0M197.2 271.1h1.0M186.0 270.2h1.0M230.3 277.8h1.0M197.3 274.7h1.0M182.2 272.3h1.0M219.8 270.7h1.0M210.6 268.7h1.0M204.9 271.0h1.0M219.7 273.0h1.0M234.7 258.7h1.0M208.9 278.3h1.0M212.8 268.2h1.0M186.5 276.7h1.0M231.3 248.6h1.0M236.7 264.8h1.0M198.9 275.6h1.0M222.6 260.0h1.0M183.1 270.5h1.0M231.1 258.5h1.0M205.4 269.0h1.0M205.2 272.6h1.0M218.0 257.4h1.0M230.4 271.7h1.0M240.0 254.1h1.0M201.1 274.8h1.0M194.6 270.1h1.0M250.6 259.4h1.0M278.7 238.5h1.0M250.2 271.5h1.0M204.5 273.7h1.0M198.6 266.7h1.0M230.4 268.5h1.0M229.6 254.4h1.0M195.5 273.2h1.0M235.7 273.3h1.0M214.6 263.2h1.0M194.4 259.1h1.0M205.3 273.3h1.0M213.1 258.8h1.0M212.6 268.6h1.0M200.7 279.7h1.0M222.4 273.6h1.0M216.2 261.5h1.0M234.1 271.5h1.0M203.7 261.4h1.0M229.3 261.7h1.0M193.2 271.2h1.0M224.5 261.4h1.0M215.0 274.2h1.0M228.0 255.6h1.0M227.5 277.0h1.0M231.2 264.5h1.0M221.1 256.7h1.0M203.7 266.6h1.0M252.3 261.3h1.0M196.6 281.9h1.0M236.8 253.5h1.0M210.7 257.9h1.0M233.3 250.1h1.0M248.2 255.2h1.0M224.2 268.5h1.0M230.0 258.9h1.0M230.3 263.4h1.0M223.9 267.8h1.0M239.6 255.3h1.0M189.1 276.7h1.0M257.5 263.8h1.0M211.4 272.8h1.0M192.4 272.5h1.0M183.8 274.2h1.0M227.6 276.5h1.0M205.2 275.6h1.0M238.9 257.0h1.0M209.4 257.0h1.0M198.5 273.6h1.0M227.6 274.8h1.0M203.2 255.3h1.0M195.9 275.1h1.0M214.0 272.6h1.0M208.9 273.2h1.0M196.7 264.9h1.0M211.4 257.3h1.0M236.9 262.4h1.0M196.6 265.6h1.0M196.8 271.9h1.0M207.7 274.7h1.0M193.4 271.3h1.0M187.0 269.9h1.0M239.1 262.8h1.0M230.6 264.7h1.0M194.5 265.9h1.0M193.9 273.8h1.0M221.5 259.5h1.0M204.7 274.4h1.0M230.2 263.1h1.0M196.6 267.8h1.0M201.2 263.0h1.0M205.2 268.9h1.0M241.2 264.8h1.0M237.0 264.0h1.0M208.3 279.8h1.0M211.3 270.4h1.0M223.2 271.4h1.0M195.9 262.9h1.0M237.4 249.3h1.0M208.5 268.3h1.0M205.0 264.2h1.0M204.7 267.1h1.0M202.6 273.0h1.0M193.9 256.9h1.0M198.8 276.5h1.0M192.8 263.2h1.0M204.6 273.8h1.0M204.7 264.9h1.0M187.2 272.9h1.0M206.3 273.2h1.0M180.2 281.9h1.0M218.1 265.4h1.0M220.5 271.2h1.0M219.4 256.9h1.0M231.0 275.2h1.0M237.1 254.7h1.0M193.7 281.7h1.0M226.0 271.1h1.0M202.2 281.8h1.0M216.1 259.4h1.0M198.6 269.4h1.0M209.0 267.8h1.0M205.8 253.0h1.0M193.6 273.6h1.0M198.0 267.5h1.0M225.9 263.9h1.0M185.0 274.0h1.0M213.6 262.3h1.0M234.9 271.4h1.0M239.0 272.4h1.0M252.9 262.8h1.0M223.0 259.1h1.0M239.5 256.1h1.0M207.1 264.6h1.0M222.0 268.4h1.0M237.5 269.5h1.0M200.3 255.0h1.0M200.6 274.7h1.0M235.6 255.1h1.0M216.6 267.4h1.0M232.8 262.7h1.0M217.9 262.9h1.0M183.3 270.6h1.0M208.5 258.8h1.0M249.8 269.5h1.0M247.1 266.3h1.0M189.7 268.6h1.0M219.8 278.6h1.0M214.9 262.8h1.0M231.8 261.9h1.0M222.8 262.7h1.0M204.8 272.9h1.0M224.3 267.0h1.0M227.1 272.3h1.0M205.1 269.9h1.0M237.4 259.1h1.0M198.9 270.1h1.0M194.1 275.2h1.0M230.9 261.8h1.0M218.3 265.2h1.0M211.5 265.2h1.0M212.8 271.0h1.0M243.5 253.1h1.0M220.0 259.3h1.0M231.6 270.1h1.0M238.4 257.3h1.0M270.3 258.2h1.0M238.0 260.9h1.0M243.7 264.2h1.0M212.8 267.8h1.0M210.6 269.0h1.0M240.5 267.1h1.0M215.6 261.8h1.0M222.4 271.0h1.0M217.3 275.9h1.0M227.7 266.0h1.0M199.3 265.5h1.0M230.3 268.4h1.0M207.5 280.9h1.0M215.8 277.2h1.0M205.0 263.4h1.0M236.6 266.3h1.0M225.0 269.2h1.0M224.5 264.2h1.0M224.8 265.0h1.0M218.7 267.5h1.0M235.5 252.1h1.0M211.6 274.5h1.0M199.4 278.6h1.0M206.9 276.4h1.0M205.2 265.2h1.0M232.4 272.0h1.0M213.0 267.7h1.0M180.5 279.3h1.0M190.3 266.6h1.0M226.7 265.1h1.0M205.5 271.8h1.0M234.3 259.1h1.0M233.5 257.6h1.0M198.0 279.7h1.0M211.1 276.4h1.0M191.1 263.8h1.0M214.9 279.1h1.0M188.3 270.0h1.0M233.2 269.2h1.0M236.4 269.2h1.0M218.9 260.8h1.0M189.7 276.1h1.0M229.8 256.7h1.0M210.3 270.5h1.0M208.0 264.8h1.0M206.2 260.1h1.0M218.3 265.4h1.0M196.8 271.7h1.0M206.0 273.8h1.0M224.4 259.7h1.0M205.0 268.6h1.0M188.7 269.2h1.0M226.3 270.1h1.0M211.5 276.9h1.0M261.6 268.7h1.0M244.9 264.9h1.0M230.5 260.8h1.0M195.3 278.0h1.0M209.1 273.6h1.0M237.4 258.9h1.0M192.9 271.8h1.0M222.8 255.9h1.0M210.8 274.3h1.0M208.6 270.2h1.0M205.8 271.1h1.0M205.4 264.3h1.0M207.9 273.3h1.0M214.0 272.8h1.0M229.8 260.4h1.0M198.0 269.1h1.0M238.6 261.0h1.0M227.8 274.4h1.0M276.0 257.1h1.0M213.2 263.5h1.0M218.9 255.5h1.0M203.0 267.8h1.0M199.5 263.4h1.0M217.8 269.2h1.0M201.2 278.7h1.0M244.9 270.9h1.0M226.2 262.1h1.0M207.9 258.3h1.0M178.4 280.1h1.0M229.0 266.9h1.0M240.4 271.7h1.0M213.0 263.4h1.0M201.8 263.4h1.0M196.0 268.3h1.0M191.7 268.5h1.0M206.3 275.2h1.0M227.9 273.6h1.0M219.9 262.6h1.0M198.0 267.3h1.0M216.9 269.7h1.0M244.5 265.1h1.0M224.3 270.2h1.0M201.4 270.0h1.0M195.2 267.7h1.0M218.8 277.1h1.0M184.2 260.6h1.0M197.1 280.9h1.0M196.3 265.0h1.0M229.9 266.5h1.0M208.7 269.8h1.0M242.8 270.2h1.0M232.7 270.2h1.0M215.7 275.9h1.0M202.4 273.4h1.0M199.2 272.1h1.0M233.8 261.9h1.0M235.8 272.0h1.0M230.1 274.6h1.0M220.8 251.8h1.0M182.7 272.3h1.0M223.0 254.5h1.0M182.2 264.9h1.0M213.4 261.5h1.0M189.3 281.8h1.0M230.6 262.2h1.0M243.9 257.2h1.0M208.2 263.3h1.0M211.5 273.9h1.0M205.7 262.6h1.0M215.8 271.4h1.0M218.5 263.1h1.0M225.1 273.3h1.0M232.2 267.1h1.0M224.9 278.8h1.0M193.1 269.1h1.0M210.4 268.9h1.0M239.4 250.1h1.0M238.5 264.1h1.0M222.3 253.9h1.0M253.7 257.1h1.0M222.0 264.1h1.0M268.9 257.6h1.0M189.9 261.5h1.0M212.6 275.4h1.0M230.6 269.8h1.0M243.7 262.1h1.0M198.0 272.3h1.0M218.8 274.1h1.0M208.7 276.5h1.0M196.5 268.1h1.0M197.7 267.1h1.0M192.1 272.0h1.0M236.2 252.2h1.0M186.4 267.2h1.0M210.4 272.4h1.0M209.9 272.1h1.0M218.1 252.4h1.0M205.6 265.8h1.0M236.2 272.5h1.0M204.5 268.0h1.0M245.8 261.9h1.0M266.9 254.2h1.0M223.3 251.3h1.0M224.5 264.8h1.0M200.5 277.2h1.0M206.9 266.3h1.0M209.6 280.2h1.0M235.1 262.7h1.0M249.3 256.1h1.0M224.0 263.7h1.0M193.0 278.3h1.0M227.7 253.9h1.0M234.8 271.2h1.0M230.2 266.0h1.0M235.5 266.8h1.0M233.6 271.5h1.0M185.0 279.8h1.0M219.8 268.9h1.0M191.5 272.0h1.0M216.5 266.3h1.0M220.0 271.5h1.0M181.7 278.7h1.0M206.8 265.1h1.0M189.3 279.8h1.0M205.5 268.4h1.0M211.3 269.6h1.0M200.7 271.7h1.0M208.5 274.8h1.0M219.2 265.0h1.0M222.5 268.4h1.0M195.7 274.4h1.0M241.8 258.5h1.0M212.8 271.7h1.0M179.7 270.3h1.0M219.1 278.3h1.0M225.3 264.8h1.0M222.7 258.0h1.0M196.6 276.4h1.0M232.0 260.5h1.0M193.6 268.5h1.0M294.3 267.0h1.0M294.8 270.7h1.0M289.1 266.5h1.0M270.3 272.4h1.0M254.6 263.4h1.0M288.6 256.7h1.0M278.5 268.4h1.0M239.0 269.0h1.0M263.4 268.8h1.0M259.0 267.0h1.0M293.4 269.2h1.0M245.1 269.9h1.0M281.1 268.6h1.0M291.0 270.9h1.0M253.0 269.3h1.0M285.3 267.7h1.0M254.3 271.2h1.0M274.5 277.1h1.0M263.0 271.1h1.0M258.4 268.1h1.0M274.7 267.2h1.0M304.5 260.6h1.0M265.4 266.0h1.0M275.3 269.8h1.0M283.5 267.2h1.0M268.5 270.2h1.0M280.4 262.8h1.0M283.0 266.5h1.0M292.5 268.7h1.0M267.4 260.6h1.0M253.2 272.4h1.0M289.2 269.6h1.0M264.6 262.9h1.0M259.3 264.8h1.0M256.6 269.3h1.0M249.9 263.5h1.0M261.8 271.3h1.0M264.4 268.6h1.0M270.6 266.6h1.0M274.2 266.1h1.0M282.3 271.7h1.0M260.2 268.6h1.0M238.7 268.9h1.0M263.0 264.6h1.0M280.9 265.8h1.0M289.9 269.5h1.0M279.1 260.7h1.0M254.1 270.9h1.0M273.7 269.6h1.0M296.5 263.5h1.0M287.7 264.8h1.0M267.7 263.9h1.0M245.4 272.9h1.0M270.0 258.6h1.0M279.4 269.7h1.0M298.8 261.9h1.0M283.3 259.8h1.0M269.0 272.7h1.0M283.2 269.0h1.0M285.9 266.7h1.0M275.9 270.2h1.0M260.9 262.7h1.0M295.1 260.5h1.0M266.6 270.2h1.0M261.6 268.7h1.0M284.8 261.2h1.0M260.5 263.0h1.0M268.0 269.9h1.0M271.4 265.4h1.0M278.8 266.6h1.0M277.1 272.6h1.0M277.9 265.6h1.0M286.5 264.8h1.0M283.5 269.7h1.0M273.4 272.0h1.0M252.6 262.8h1.0M295.4 262.6h1.0M260.7 262.3h1.0M289.1 261.3h1.0M237.7 268.5h1.0M280.0 266.1h1.0M275.6 271.6h1.0M256.9 266.5h1.0M261.4 267.4h1.0M254.7 270.0h1.0M271.4 261.4h1.0M278.7 268.2h1.0M247.0 268.6h1.0M267.3 272.9h1.0M272.5 269.9h1.0M276.5 264.9h1.0M280.6 262.8h1.0M286.6 267.0h1.0M264.0 266.8h1.0M259.7 270.4h1.0M239.9 269.5h1.0M248.4 272.8h1.0M264.9 272.9h1.0M281.4 270.5h1.0M270.5 260.4h1.0M292.9 268.0h1.0M291.6 273.8h1.0M261.8 273.9h1.0M292.0 275.2h1.0M261.4 266.8h1.0M292.3 263.0h1.0M268.6 263.4h1.0M273.3 271.9h1.0M284.3 261.7h1.0M269.8 265.8h1.0M259.7 268.1h1.0M250.7 266.7h1.0M270.2 266.9h1.0M267.0 269.9h1.0M260.9 268.8h1.0M274.5 269.2h1.0M242.1 268.5h1.0M278.4 275.6h1.0M255.6 261.1h1.0M288.6 262.4h1.0M278.9 265.5h1.0M262.0 264.9h1.0M276.6 269.3h1.0M266.5 265.7h1.0M292.5 270.4h1.0M272.4 266.1h1.0M271.4 267.3h1.0M231.5 266.4h1.0M281.6 270.4h1.0M250.0 269.9h1.0M251.8 264.7h1.0M301.3 271.9h1.0M272.5 265.3h1.0M296.5 266.4h1.0M273.2 263.5h1.0M288.8 264.1h1.0M267.0 267.1h1.0M257.4 267.9h1.0M259.1 268.7h1.0M278.8 263.9h1.0M279.7 268.2h1.0M279.7 263.0h1.0M254.1 273.5h1.0M285.5 266.1h1.0M278.9 269.1h1.0M292.7 270.8h1.0M268.0 264.1h1.0M254.9 262.1h1.0M279.6 266.6h1.0M251.4 269.1h1.0M254.9 269.2h1.0M257.2 268.5h1.0M258.4 265.9h1.0M266.9 270.7h1.0M272.6 264.9h1.0M261.0 267.8h1.0M272.6 266.7h1.0M250.1 275.3h1.0M268.5 264.6h1.0M269.5 262.9h1.0M276.5 267.7h1.0M282.0 267.4h1.0M239.6 273.3h1.0M284.6 263.6h1.0M261.3 263.1h1.0M276.2 263.6h1.0M265.2 265.2h1.0M272.6 269.7h1.0M261.3 269.1h1.0M267.7 266.5h1.0M263.3 271.7h1.0M277.8 260.7h1.0M253.2 269.8h1.0M302.4 267.1h1.0M258.5 262.0h1.0M282.4 268.8h1.0M262.9 273.8h1.0M271.5 264.9h1.0M280.3 266.2h1.0M283.0 269.9h1.0M238.8 271.6h1.0M300.2 268.1h1.0M268.2 264.1h1.0M283.7 271.0h1.0M282.4 267.1h1.0M282.3 268.2h1.0M298.0 265.7h1.0M251.9 266.1h1.0M254.4 263.0h1.0M288.5 258.3h1.0M283.1 265.4h1.0M281.1 265.8h1.0M286.4 269.8h1.0M298.4 268.1h1.0M296.0 265.2h1.0M270.2 271.4h1.0M285.4 267.7h1.0M275.1 264.7h1.0M278.2 269.5h1.0M263.5 269.9h1.0M268.6 268.3h1.0M260.8 264.2h1.0M261.5 265.3h1.0M290.8 262.7h1.0M258.1 266.3h1.0M280.0 263.6h1.0M255.3 269.9h1.0M286.4 267.9h1.0M298.2 269.9h1.0M272.8 265.2h1.0M276.0 271.9h1.0M257.2 266.6h1.0M262.6 268.7h1.0M267.2 267.8h1.0M280.4 267.7h1.0M281.2 267.0h1.0M275.2 270.0h1.0M235.0 262.4h1.0M263.7 261.0h1.0M248.9 265.7h1.0M269.8 266.7h1.0M266.0 268.6h1.0M265.8 264.1h1.0M263.6 268.1h1.0M282.1 266.0h1.0M279.6 269.3h1.0M267.3 269.2h1.0M266.1 263.6h1.0M305.0 266.3h1.0M291.3 271.2h1.0M288.5 266.0h1.0M271.2 266.6h1.0M278.5 272.7h1.0M268.6 265.4h1.0M270.4 268.4h1.0M276.2 261.9h1.0M260.4 271.1h1.0M260.1 267.4h1.0M269.3 267.0h1.0M264.1 258.5h1.0M278.7 270.0h1.0M253.3 264.7h1.0M272.8 263.8h1.0M271.2 263.6h1.0M274.0 262.7h1.0M244.4 264.7h1.0M278.3 270.5h1.0M268.2 268.2h1.0M272.7 264.6h1.0M274.8 268.5h1.0M274.9 261.4h1.0M263.3 270.9h1.0M260.9 270.6h1.0M282.2 267.3h1.0M282.9 265.7h1.0M265.1 262.5h1.0M252.0 268.8h1.0M264.9 262.8h1.0M273.7 264.0h1.0M273.0 270.8h1.0M274.9 262.8h1.0M286.6 266.5h1.0M277.7 265.4h1.0M260.7 266.1h1.0M248.1 266.3h1.0M266.9 269.1h1.0M233.1 271.7h1.0M282.7 267.1h1.0M274.2 270.8h1.0M275.1 262.4h1.0M262.5 266.0h1.0M248.2 266.7h1.0M269.6 267.7h1.0M287.3 265.6h1.0M289.8 265.2h1.0M266.3 269.1h1.0M292.7 263.7h1.0M268.6 266.8h1.0M266.3 270.7h1.0M284.2 268.7h1.0M261.7 267.8h1.0M237.0 266.9h1.0M289.2 261.6h1.0M267.6 269.6h1.0M238.7 269.4h1.0M272.3 268.3h1.0M272.3 266.5h1.0M231.0 267.8h1.0M269.3 266.9h1.0M263.3 272.9h1.0M268.4 265.7h1.0M255.4 268.6h1.0M274.8 268.5h1.0M265.7 270.5h1.0M282.9 265.6h1.0M273.2 266.5h1.0M263.2 267.7h1.0M281.8 267.7h1.0M264.5 262.7h1.0M265.7 272.8h1.0M263.0 260.5h1.0M268.8 265.6h1.0M278.1 258.1h1.0M285.7 262.8h1.0M290.7 271.3h1.0M248.4 268.1h1.0M279.7 265.6h1.0M303.5 267.0h1.0M275.6 265.9h1.0M244.3 269.9h1.0M258.2 264.6h1.0M274.4 266.9h1.0M265.3 268.7h1.0M289.0 265.2h1.0M268.9 274.2h1.0M284.8 264.4h1.0M280.3 265.9h1.0M255.0 257.1h1.0M273.7 272.4h1.0M284.3 260.2h1.0M269.5 270.5h1.0M283.6 269.3h1.0M278.6 264.4h1.0M279.0 264.8h1.0M250.8 268.8h1.0M283.6 258.7h1.0M262.4 270.1h1.0M272.5 260.6h1.0M273.7 264.2h1.0M286.6 261.8h1.0M260.4 265.6h1.0M270.1 265.7h1.0M270.1 263.3h1.0M272.3 262.2h1.0M263.3 269.7h1.0M263.5 267.3h1.0M269.8 272.1h1.0M281.6 274.1h1.0M258.9 266.9h1.0M276.0 269.4h1.0M265.0 268.4h1.0M258.0 276.0h1.0M299.5 262.9h1.0M291.7 264.4h1.0M290.5 265.2h1.0M263.8 268.4h1.0M250.2 260.3h1.0M306.0 262.0h1.0M251.1 269.7h1.0M293.4 266.1h1.0M288.4 260.7h1.0M244.2 265.5h1.0M255.2 272.9h1.0M262.1 268.3h1.0M282.6 261.0h1.0M260.6 264.4h1.0M268.9 273.9h1.0M260.4 262.8h1.0M272.4 266.2h1.0M278.6 260.0h1.0M273.8 267.7h1.0M278.2 264.6h1.0M239.5 266.5h1.0M276.7 270.7h1.0M297.4 268.6h1.0M280.6 263.7h1.0M273.1 265.0h1.0M279.9 260.6h1.0M270.5 266.1h1.0M264.9 272.2h1.0M279.1 263.1h1.0M265.0 263.6h1.0M261.1 265.9h1.0M279.6 273.5h1.0M259.4 266.4h1.0M267.4 270.2h1.0M262.9 267.1h1.0M258.6 268.5h1.0M260.9 269.6h1.0M299.0 268.0h1.0M263.4 272.9h1.0M283.9 265.3h1.0M258.8 271.8h1.0M287.2 264.8h1.0M266.9 265.8h1.0M265.1 270.8h1.0M263.1 264.4h1.0M269.0 260.3h1.0M271.2 271.3h1.0M280.9 268.5h1.0M247.8 264.7h1.0M279.8 272.6h1.0M257.1 261.9h1.0M286.5 268.1h1.0M285.9 271.3h1.0M266.6 264.9h1.0M300.8 265.4h1.0M263.4 268.9h1.0M272.9 263.7h1.0M278.3 264.5h1.0M278.9 264.0h1.0M260.7 265.8h1.0M267.4 266.3h1.0M262.5 269.9h1.0M249.8 264.3h1.0M236.5 268.7h1.0M283.8 271.3h1.0M263.3 268.8h1.0M264.1 270.2h1.0M254.8 267.9h1.0M277.5 260.7h1.0M251.6 271.3h1.0M268.0 266.6h1.0M284.7 259.9h1.0M260.4 264.2h1.0M304.0 260.3h1.0M266.9 266.6h1.0M261.6 267.1h1.0M252.4 268.7h1.0M271.9 268.2h1.0M249.9 268.0h1.0M245.6 267.0h1.0M308.6 265.5h1.0M263.2 270.6h1.0M262.3 266.2h1.0M293.2 263.9h1.0M284.5 265.7h1.0M254.0 267.6h1.0M279.6 268.3h1.0M253.3 260.9h1.0M301.8 250.6h1.0M277.7 251.9h1.0M290.3 254.5h1.0M289.3 252.6h1.0M290.1 252.7h1.0M304.6 240.6h1.0M279.5 252.1h1.0M285.8 245.0h1.0M304.2 235.9h1.0M292.5 258.3h1.0M266.7 269.7h1.0M291.3 251.9h1.0M296.2 265.9h1.0M275.6 244.7h1.0M270.7 254.2h1.0M276.7 256.3h1.0M277.5 242.0h1.0M308.3 243.3h1.0M294.5 245.6h1.0M299.3 263.7h1.0M304.2 250.9h1.0M291.7 258.8h1.0M281.8 266.3h1.0M310.4 254.7h1.0M303.7 245.8h1.0M297.2 239.6h1.0M293.4 258.1h1.0M298.8 253.0h1.0M298.3 250.8h1.0M302.7 242.3h1.0M300.6 242.4h1.0M285.7 258.7h1.0M268.3 268.8h1.0M299.4 249.6h1.0M293.9 257.9h1.0M285.9 253.2h1.0M270.3 244.1h1.0M279.7 250.1h1.0M281.2 251.7h1.0M301.7 249.8h1.0M274.4 261.2h1.0M268.7 261.7h1.0M299.3 252.8h1.0M301.2 259.5h1.0M299.4 256.5h1.0M269.9 253.3h1.0M280.4 250.9h1.0M305.2 244.9h1.0M299.4 256.2h1.0M285.2 250.7h1.0M305.7 249.6h1.0M288.5 243.8h1.0M284.8 246.7h1.0M287.6 238.0h1.0M262.5 251.6h1.0M280.4 255.6h1.0M303.6 248.2h1.0M293.0 237.4h1.0M278.2 255.5h1.0M287.6 249.1h1.0M266.1 252.4h1.0M294.7 251.4h1.0M273.2 253.3h1.0M281.3 256.8h1.0M328.7 234.5h1.0M298.9 248.1h1.0M286.7 255.8h1.0M306.0 242.0h1.0M285.8 249.8h1.0M301.1 229.5h1.0M292.4 255.6h1.0M316.0 246.7h1.0M291.7 254.2h1.0M304.4 239.9h1.0M281.9 253.4h1.0M302.5 246.2h1.0M289.6 240.0h1.0M264.3 267.1h1.0M282.3 254.3h1.0M291.5 251.8h1.0M262.4 260.0h1.0M289.4 243.7h1.0M283.4 263.5h1.0M295.9 243.6h1.0M291.0 255.6h1.0M296.6 241.5h1.0M282.1 242.0h1.0M296.0 240.6h1.0M309.9 248.4h1.0M292.3 263.8h1.0M273.9 247.5h1.0M281.2 238.8h1.0M302.9 233.4h1.0M295.5 244.3h1.0M290.7 243.4h1.0M291.3 240.8h1.0M285.9 249.5h1.0M293.8 252.9h1.0M312.3 254.7h1.0M301.2 244.7h1.0M274.7 255.4h1.0M289.2 247.5h1.0M294.2 249.1h1.0M306.7 254.8h1.0M282.2 260.5h1.0M277.1 249.4h1.0M267.3 252.6h1.0M272.7 260.0h1.0M268.1 246.1h1.0M299.6 252.2h1.0M294.1 249.7h1.0M277.2 250.3h1.0M294.1 253.3h1.0M299.4 262.9h1.0M278.5 249.4h1.0M278.4 249.0h1.0M285.9 251.0h1.0M308.1 246.1h1.0M286.5 235.6h1.0M294.7 250.8h1.0M292.3 254.1h1.0M295.4 256.0h1.0M299.4 240.2h1.0M288.2 242.2h1.0M314.8 239.2h1.0M304.4 255.5h1.0M313.9 242.1h1.0M278.6 249.9h1.0M299.8 251.5h1.0M295.2 250.7h1.0M293.7 241.2h1.0M277.3 260.7h1.0M278.9 266.5h1.0M292.0 254.5h1.0M296.9 266.4h1.0M297.5 245.7h1.0M294.1 248.7h1.0M286.4 243.3h1.0M293.5 259.1h1.0M293.6 258.2h1.0M290.6 242.6h1.0M313.5 237.3h1.0M294.7 253.8h1.0M303.1 248.4h1.0M300.8 251.1h1.0M301.8 253.8h1.0M289.6 266.6h1.0M294.5 243.0h1.0M285.7 250.2h1.0M313.3 251.1h1.0M301.6 251.7h1.0M291.7 254.8h1.0M292.9 254.6h1.0M299.8 246.3h1.0M285.4 246.7h1.0M316.0 239.3h1.0M259.7 254.3h1.0M286.7 235.7h1.0M285.8 250.5h1.0M313.1 252.5h1.0M304.1 245.9h1.0M312.6 236.2h1.0M282.3 262.6h1.0M294.5 238.9h1.0M291.5 252.2h1.0M285.9 255.8h1.0M279.0 251.1h1.0M281.8 255.2h1.0M297.8 253.2h1.0M285.7 245.9h1.0M311.7 237.5h1.0M280.5 253.3h1.0M275.5 240.3h1.0M294.6 244.9h1.0M291.9 252.0h1.0M300.8 246.2h1.0M273.7 260.6h1.0M285.7 262.0h1.0M304.2 248.5h1.0M314.7 248.1h1.0M285.7 263.7h1.0M291.2 246.5h1.0M283.9 263.3h1.0M285.5 244.1h1.0M296.3 252.3h1.0M282.2 258.3h1.0M276.0 240.8h1.0M285.0 242.5h1.0M273.4 251.3h1.0M294.7 250.0h1.0M277.7 250.2h1.0M297.3 245.0h1.0M285.3 255.4h1.0M277.7 241.7h1.0M301.4 252.4h1.0M282.0 240.9h1.0M292.0 245.6h1.0M288.4 242.7h1.0M297.5 245.8h1.0M306.3 233.9h1.0M284.8 248.3h1.0M283.9 256.9h1.0M296.9 246.0h1.0M280.3 255.4h1.0M270.4 251.3h1.0M300.3 249.4h1.0M304.2 251.8h1.0M277.3 242.3h1.0M289.8 246.0h1.0M293.3 249.5h1.0M297.3 258.4h1.0M283.1 245.7h1.0M285.0 243.9h1.0M286.6 256.5h1.0M285.4 252.5h1.0M289.2 246.1h1.0M264.9 246.7h1.0M300.3 236.2h1.0M300.3 260.3h1.0M300.3 248.8h1.0M287.9 261.2h1.0M299.9 247.9h1.0M280.3 251.9h1.0M290.7 249.0h1.0M300.1 245.1h1.0M301.6 260.2h1.0M288.0 238.0h1.0M301.3 242.8h1.0M270.1 259.0h1.0M281.3 251.9h1.0M280.5 246.8h1.0M293.1 235.2h1.0M292.3 247.2h1.0M277.6 249.8h1.0M301.3 249.9h1.0M311.3 247.0h1.0M292.9 254.0h1.0M297.8 244.6h1.0M283.5 241.6h1.0M287.5 248.5h1.0M296.1 262.2h1.0M282.5 255.3h1.0M287.5 250.7h1.0M285.5 239.0h1.0M302.1 246.8h1.0M279.7 236.3h1.0M300.2 242.3h1.0M306.6 244.8h1.0M275.4 249.0h1.0M296.0 255.7h1.0M268.2 253.7h1.0M279.9 249.5h1.0M296.2 248.6h1.0M296.3 255.0h1.0M305.5 246.5h1.0M271.4 261.2h1.0M293.7 262.3h1.0M306.5 251.7h1.0M307.4 243.6h1.0M291.4 254.9h1.0M294.5 244.1h1.0M303.5 244.6h1.0M308.0 253.9h1.0M289.6 239.6h1.0M303.5 248.3h1.0M262.2 255.9h1.0M302.4 252.3h1.0M280.2 259.9h1.0M280.1 253.7h1.0M274.8 253.7h1.0M302.0 249.7h1.0M290.8 255.8h1.0M284.5 255.6h1.0M277.8 260.4h1.0M294.3 267.0h1.0M300.6 251.2h1.0M288.2 240.2h1.0M287.4 256.1h1.0M288.2 243.7h1.0M300.7 233.6h1.0M302.3 256.8h1.0M292.8 258.9h1.0M305.6 241.3h1.0M299.4 244.0h1.0M287.5 259.3h1.0M280.9 258.5h1.0M290.8 254.9h1.0M286.1 248.7h1.0M291.7 253.0h1.0M288.2 246.6h1.0M287.2 264.6h1.0M276.6 251.4h1.0M283.6 258.9h1.0M293.1 243.0h1.0M296.4 252.5h1.0M286.5 243.0h1.0M299.3 246.4h1.0M288.1 243.6h1.0M286.9 261.9h1.0M287.1 255.3h1.0M278.0 254.6h1.0M323.5 254.9h1.0M281.1 255.8h1.0M296.1 252.0h1.0M293.0 252.2h1.0M273.1 250.0h1.0M297.0 244.5h1.0M298.2 237.6h1.0M299.1 250.3h1.0M298.9 262.5h1.0M290.9 247.4h1.0M291.4 254.2h1.0M281.4 246.2h1.0M314.2 241.3h1.0M288.7 256.0h1.0M277.7 252.2h1.0M293.4 245.1h1.0M302.6 240.9h1.0M264.3 266.2h1.0M278.1 262.2h1.0M317.7 241.9h1.0M305.0 246.8h1.0M294.8 235.9h1.0M286.8 258.2h1.0M310.9 240.6h1.0M283.4 262.9h1.0M300.7 253.1h1.0M281.0 249.0h1.0M308.0 247.7h1.0M276.6 245.6h1.0M293.5 251.9h1.0M306.6 249.8h1.0M299.5 249.6h1.0M278.4 252.2h1.0M288.2 247.0h1.0M277.5 251.6h1.0M300.5 263.1h1.0M321.6 237.1h1.0M291.0 251.6h1.0M281.9 237.0h1.0M284.7 256.0h1.0M296.7 240.5h1.0M273.8 246.8h1.0M267.1 252.4h1.0M271.0 249.4h1.0M305.9 248.0h1.0M303.4 243.2h1.0M285.3 242.8h1.0M295.7 248.0h1.0M289.4 254.5h1.0M315.3 231.7h1.0M294.8 254.8h1.0M291.4 259.7h1.0M288.5 245.1h1.0M297.6 241.9h1.0M278.6 252.3h1.0M287.7 251.1h1.0M324.0 248.9h1.0M288.1 257.0h1.0M302.1 247.3h1.0M312.9 254.1h1.0M275.8 258.7h1.0M289.0 253.9h1.0M295.3 261.2h1.0M272.4 250.6h1.0M288.9 241.1h1.0M287.4 246.4h1.0M296.6 256.0h1.0M296.0 244.9h1.0M295.4 236.1h1.0M290.4 246.7h1.0M307.3 256.6h1.0M291.5 251.4h1.0M273.6 247.5h1.0M300.1 238.3h1.0M280.9 247.9h1.0M300.2 245.9h1.0M285.0 252.1h1.0M273.4 248.0h1.0M278.5 251.5h1.0M308.7 249.8h1.0M312.1 249.5h1.0M271.9 243.7h1.0M279.3 241.8h1.0M284.9 267.7h1.0M277.0 247.8h1.0M272.3 262.4h1.0M279.9 245.2h1.0M273.7 244.8h1.0M299.6 248.2h1.0M301.3 246.8h1.0M271.6 258.0h1.0M295.6 243.2h1.0M285.3 259.2h1.0M277.9 253.2h1.0M290.4 251.1h1.0M302.0 245.4h1.0M306.7 242.1h1.0M297.3 251.8h1.0M284.9 254.4h1.0M308.5 254.4h1.0M283.5 251.5h1.0M271.5 252.3h1.0M298.2 242.2h1.0M291.9 251.8h1.0M277.6 247.6h1.0M300.8 248.1h1.0M306.1 250.3h1.0M287.8 245.6h1.0M289.7 254.8h1.0M300.5 240.6h1.0M289.1 257.0h1.0M290.9 251.6h1.0M301.9 237.4h1.0M286.2 256.8h1.0M300.2 246.0h1.0M282.4 236.3h1.0M283.4 263.1h1.0M276.2 270.7h1.0M296.0 252.6h1.0M287.0 244.5h1.0M266.3 258.1h1.0M296.0 253.4h1.0M283.9 247.7h1.0M282.3 253.0h1.0M278.5 244.3h1.0M312.8 250.0h1.0M301.1 245.9h1.0M293.5 243.6h1.0M317.2 234.9h1.0M287.4 243.5h1.0M286.3 254.6h1.0M313.2 234.9h1.0M283.4 235.9h1.0M288.3 253.0h1.0M243.0 261.8h1.0M270.5 245.9h1.0M283.1 245.4h1.0M281.4 252.1h1.0M265.6 265.9h1.0M306.7 242.6h1.0M287.9 244.4h1.0M273.7 240.9h1.0M322.4 253.5h1.0M292.9 251.6h1.0M304.1 248.8h1.0M290.3 244.8h1.0M311.8 242.1h1.0M305.5 257.0h1.0M295.8 260.1h1.0M313.2 250.1h1.0M279.4 260.9h1.0M304.9 251.2h1.0M285.5 253.6h1.0M260.3 264.3h1.0M323.3 248.5h1.0M278.3 263.1h1.0M297.7 240.1h1.0M265.5 241.7h1.0M268.8 258.3h1.0M279.6 252.7h1.0M298.1 248.7h1.0M311.5 243.0h1.0M303.3 261.3h1.0M311.1 249.3h1.0M312.4 243.4h1.0M308.5 241.6h1.0M287.4 235.2h1.0M302.2 245.1h1.0M296.8 255.2h1.0M313.4 255.6h1.0M258.7 264.0h1.0M302.1 253.1h1.0M281.1 247.6h1.0M288.5 245.0h1.0M317.7 248.2h1.0M279.8 250.5h1.0M292.4 246.5h1.0M286.0 258.7h1.0M301.8 240.7h1.0M273.3 255.5h1.0M302.5 245.1h1.0M297.3 257.1h1.0M297.5 252.9h1.0M283.3 244.8h1.0M291.3 250.3h1.0M315.6 243.4h1.0M280.1 245.0h1.0M257.1 258.4h1.0M322.5 243.5h1.0M279.6 243.6h1.0M299.4 246.2h1.0M274.2 253.3h1.0M283.2 259.9h1.0M265.4 246.3h1.0M278.1 254.0h1.0M290.1 250.0h1.0M294.1 249.8h1.0M309.9 236.8h1.0M291.4 244.4h1.0M285.4 248.3h1.0M275.6 250.6h1.0M288.1 247.2h1.0M306.5 243.1h1.0M296.7 249.0h1.0M287.5 237.5h1.0M300.5 248.1h1.0M278.3 265.6h1.0M289.0 247.0h1.0M282.4 247.8h1.0M292.9 246.5h1.0M288.7 243.3h1.0M296.4 253.7h1.0M300.6 231.8h1.0M294.6 248.9h1.0M304.5 240.9h1.0M288.2 251.8h1.0M287.7 241.9h1.0M294.4 258.1h1.0M318.3 253.6h1.0M303.1 238.4h1.0M299.1 248.4h1.0M258.8 257.3h1.0M306.3 241.5h1.0M302.7 253.3h1.0M275.7 249.7h1.0M288.9 255.3h1.0M287.9 255.6h1.0M298.7 247.7h1.0M301.0 267.8h1.0M293.3 250.9h1.0M278.1 257.9h1.0M276.7 240.4h1.0M292.9 249.1h1.0M293.9 244.7h1.0M272.3 244.8h1.0M302.7 254.1h1.0M303.1 244.8h1.0M276.8 243.1h1.0M286.9 253.3h1.0M290.0 248.7h1.0M304.4 244.1h1.0M284.2 249.9h1.0M277.4 250.6h1.0M287.7 248.0h1.0M287.3 259.3h1.0M293.7 239.1h1.0M321.4 247.6h1.0M276.4 258.8h1.0M315.6 244.4h1.0M284.7 255.3h1.0M275.7 252.2h1.0M302.9 255.3h1.0M295.5 245.5h1.0M279.0 246.1h1.0M297.0 262.7h1.0M305.7 256.9h1.0M315.5 252.5h1.0M288.2 261.4h1.0M281.0 242.5h1.0M292.4 244.1h1.0M274.8 256.3h1.0M287.9 243.4h1.0M279.9 259.9h1.0M304.6 252.5h1.0M275.0 259.1h1.0M288.9 252.5h1.0M287.3 244.7h1.0M294.5 250.3h1.0M305.6 244.8h1.0M294.0 251.5h1.0M278.0 249.5h1.0M306.6 249.9h1.0M273.9 252.5h1.0M292.1 250.3h1.0M290.4 249.8h1.0M278.1 251.8h1.0M301.6 241.6h1.0M295.4 252.4h1.0M295.0 244.6h1.0M281.0 248.0h1.0M286.8 257.2h1.0M282.0 246.9h1.0M284.7 256.9h1.0M311.8 230.5h1.0M292.6 237.7h1.0M275.6 260.5h1.0M272.9 234.4h1.0M291.0 250.4h1.0M270.7 252.7h1.0M276.7 270.0h1.0M297.0 258.7h1.0M313.5 229.5h1.0M275.1 260.3h1.0M300.5 254.9h1.0M305.8 256.7h1.0M286.6 250.2h1.0M306.0 246.1h1.0M308.7 234.2h1.0M279.1 248.0h1.0M284.5 243.5h1.0M291.3 250.3h1.0M293.5 233.7h1.0M287.5 242.0h1.0M297.2 243.5h1.0M286.7 263.1h1.0M303.4 241.8h1.0M273.3 251.3h1.0M280.5 256.7h1.0M306.7 251.3h1.0M295.1 243.0h1.0M284.7 240.0h1.0M287.9 246.5h1.0M274.4 256.1h1.0M293.0 248.7h1.0M297.8 251.6h1.0M293.0 245.6h1.0M280.2 250.5h1.0M286.2 243.8h1.0M288.7 259.1h1.0M311.2 237.6h1.0M270.9 251.0h1.0M309.1 241.7h1.0M274.5 244.6h1.0M303.8 253.9h1.0M289.9 258.6h1.0M300.2 251.4h1.0M267.3 252.7h1.0M326.0 241.5h1.0M273.9 243.9h1.0M285.9 253.2h1.0M284.1 261.2h1.0M285.1 249.7h1.0M295.1 260.0h1.0M304.1 244.9h1.0M263.5 253.0h1.0M289.8 239.5h1.0M267.9 250.5h1.0M289.0 252.4h1.0M298.2 238.7h1.0M316.0 255.6h1.0M277.0 254.2h1.0M297.5 250.8h1.0M298.1 238.3h1.0M276.6 248.7h1.0M276.8 262.4h1.0M296.5 248.6h1.0M288.9 262.6h1.0M282.6 239.8h1.0M299.7 254.0h1.0M288.2 250.8h1.0M283.9 249.5h1.0M268.8 253.9h1.0M316.7 254.7h1.0M290.8 243.2h1.0M307.4 253.3h1.0M251.6 266.8h1.0M273.4 254.9h1.0M287.1 254.1h1.0M283.3 254.0h1.0M281.2 251.5h1.0M287.0 236.8h1.0M286.3 245.6h1.0M311.5 250.4h1.0M262.2 266.4h1.0M304.1 254.5h1.0M298.0 244.0h1.0M283.1 254.8h1.0M324.1 246.1h1.0M271.3 261.2h1.0M318.9 245.6h1.0M266.5 255.2h1.0M287.8 255.5h1.0M278.0 254.0h1.0M287.0 254.6h1.0M293.6 249.8h1.0M296.4 252.9h1.0M300.7 239.2h1.0M286.3 249.8h1.0M278.4 268.3h1.0M312.9 236.8h1.0M279.0 260.1h1.0M291.0 260.3h1.0M274.1 251.0h1.0M299.9 250.2h1.0M287.8 259.0h1.0M286.3 257.3h1.0M274.3 253.1h1.0M283.5 256.4h1.0M274.6 248.4h1.0M289.9 240.1h1.0M299.8 253.1h1.0M277.8 243.6h1.0M308.5 240.5h1.0M276.4 246.8h1.0M289.0 259.6h1.0M283.2 256.2h1.0M296.8 266.6h1.0M301.9 246.9h1.0M286.1 250.6h1.0M295.9 244.2h1.0M296.7 244.8h1.0M271.2 252.5h1.0M267.7 245.2h1.0M289.5 242.1h1.0M280.9 256.3h1.0M267.7 257.8h1.0M301.9 249.2h1.0M289.0 247.1h1.0M294.7 243.0h1.0M298.1 245.3h1.0M294.6 235.4h1.0M283.3 259.5h1.0M295.9 232.3h1.0M266.4 247.5h1.0M317.6 233.3h1.0M295.0 256.9h1.0M277.6 245.8h1.0M304.6 253.3h1.0M305.2 243.2h1.0M295.7 254.8h1.0M302.4 244.0h1.0M300.2 251.3h1.0M284.0 249.3h1.0M276.1 253.0h1.0M285.6 246.0h1.0M296.5 256.5h1.0M297.9 257.1h1.0M271.1 262.1h1.0M297.4 257.0h1.0M289.7 254.1h1.0M302.0 255.0h1.0M273.1 251.9h1.0M288.8 247.8h1.0M321.1 241.7h1.0M290.5 254.4h1.0M292.5 246.9h1.0M283.9 246.5h1.0M297.8 248.0h1.0M284.3 251.4h1.0M305.3 255.7h1.0M292.8 245.7h1.0M298.4 248.5h1.0M288.2 255.7h1.0M290.5 259.7h1.0M314.5 246.9h1.0M304.1 231.4h1.0M286.9 247.7h1.0M289.4 254.0h1.0M307.2 243.2h1.0M291.9 212.8h1.0M300.2 201.7h1.0M308.5 238.5h1.0M270.2 235.5h1.0M283.3 231.6h1.0M286.9 246.1h1.0M336.6 235.6h1.0M319.7 233.9h1.0M309.9 224.1h1.0M285.1 230.6h1.0M323.0 237.4h1.0M318.2 221.6h1.0M316.9 223.5h1.0M280.8 212.3h1.0M315.6 244.1h1.0M295.6 241.1h1.0M329.1 245.1h1.0M294.6 241.1h1.0M312.8 219.6h1.0M274.1 225.9h1.0M305.7 218.0h1.0M311.9 223.7h1.0M303.3 229.6h1.0M310.4 217.0h1.0M309.2 224.6h1.0M331.9 236.7h1.0M284.8 236.0h1.0M316.9 216.3h1.0M307.4 242.9h1.0M294.4 228.6h1.0M270.6 230.9h1.0M318.1 249.4h1.0M280.0 241.7h1.0M290.5 241.4h1.0M321.4 226.5h1.0M283.4 233.4h1.0M285.0 236.4h1.0M350.0 218.9h1.0M323.2 242.3h1.0M325.7 217.5h1.0M316.3 225.2h1.0M332.9 217.0h1.0M289.7 220.1h1.0M291.4 205.2h1.0M302.3 232.0h1.0M294.7 227.5h1.0M334.6 214.0h1.0M311.7 228.7h1.0M292.8 232.4h1.0M296.8 225.2h1.0M311.5 233.5h1.0M323.5 246.2h1.0M330.0 219.0h1.0M292.7 219.8h1.0M304.2 236.3h1.0M308.3 231.5h1.0M294.4 244.0h1.0M325.6 233.4h1.0M281.2 231.9h1.0M319.7 233.2h1.0M321.4 213.6h1.0M295.4 221.6h1.0M318.0 244.5h1.0M321.0 234.0h1.0M290.9 236.3h1.0M317.7 231.1h1.0M276.7 226.8h1.0M312.3 214.6h1.0M315.3 226.7h1.0M293.2 240.1h1.0M311.0 235.8h1.0M278.2 232.1h1.0M290.1 249.0h1.0M293.4 206.5h1.0M272.0 228.9h1.0M259.0 220.1h1.0M279.5 250.6h1.0M262.4 233.0h1.0M303.9 220.9h1.0M279.9 225.5h1.0M311.1 238.0h1.0M319.1 225.3h1.0M322.8 239.7h1.0M270.2 235.5h1.0M318.7 237.6h1.0M272.8 237.2h1.0M272.4 234.9h1.0M310.8 228.6h1.0M319.3 231.3h1.0M304.2 231.5h1.0M299.7 209.6h1.0M314.1 228.8h1.0M305.1 239.7h1.0M308.9 228.9h1.0M279.4 240.6h1.0M306.0 238.7h1.0M290.6 215.3h1.0M309.7 213.0h1.0M294.0 235.6h1.0M332.4 228.4h1.0M309.9 212.9h1.0M282.0 225.1h1.0M322.9 231.2h1.0M314.0 234.4h1.0M302.8 215.5h1.0M334.2 213.3h1.0M290.9 206.1h1.0M320.8 242.4h1.0M281.3 221.8h1.0M318.7 236.9h1.0M328.8 217.5h1.0M334.6 218.6h1.0M320.4 232.4h1.0M319.8 213.8h1.0M275.8 233.2h1.0M283.5 238.1h1.0M284.9 241.1h1.0M289.3 227.7h1.0M315.1 241.8h1.0M277.2 226.7h1.0M279.6 230.8h1.0M318.5 228.0h1.0M281.8 230.0h1.0M284.9 226.0h1.0M293.9 232.2h1.0M287.0 241.3h1.0M271.8 220.5h1.0M318.4 231.1h1.0M301.2 241.9h1.0M342.4 212.0h1.0M291.6 206.0h1.0M269.5 233.0h1.0M323.4 240.6h1.0M297.3 243.9h1.0M303.0 242.5h1.0M264.2 247.1h1.0M262.9 231.1h1.0M298.8 242.9h1.0M281.3 230.2h1.0M296.1 231.5h1.0M311.5 236.7h1.0M287.7 218.4h1.0M297.8 225.6h1.0M310.1 253.2h1.0M308.9 234.1h1.0M277.0 228.2h1.0M330.2 211.8h1.0M279.2 226.2h1.0M239.1 247.0h1.0M319.3 236.0h1.0M302.8 213.7h1.0M333.2 237.8h1.0M332.8 218.9h1.0M322.0 248.1h1.0M302.4 231.3h1.0M289.9 215.3h1.0M305.1 216.5h1.0M305.5 230.7h1.0M277.4 217.8h1.0M278.7 247.2h1.0M282.4 240.0h1.0M287.0 216.1h1.0M292.8 226.0h1.0M285.7 214.0h1.0M300.3 214.8h1.0M286.3 226.9h1.0M358.8 223.3h1.0M298.2 245.9h1.0M300.4 217.8h1.0M295.0 240.2h1.0M322.1 243.9h1.0M216.8 233.5h1.0M314.4 258.3h1.0M283.5 220.7h1.0M306.4 231.8h1.0M288.8 231.2h1.0M289.2 225.2h1.0M328.0 219.8h1.0M341.6 232.3h1.0M293.6 223.8h1.0M276.8 243.8h1.0M317.4 221.5h1.0M318.8 204.2h1.0M329.2 222.7h1.0M303.7 225.8h1.0M290.1 210.5h1.0M275.5 249.6h1.0M275.5 249.0h1.0M286.5 243.4h1.0M292.0 227.0h1.0M317.6 233.3h1.0M271.4 239.3h1.0M350.9 218.7h1.0M324.2 239.7h1.0M306.0 232.1h1.0M337.8 239.7h1.0M293.2 218.1h1.0M272.8 225.7h1.0M319.8 235.5h1.0M304.7 228.0h1.0M297.9 226.1h1.0M286.6 229.9h1.0M307.1 231.1h1.0M247.0 248.1h1.0M314.5 237.8h1.0M292.7 240.4h1.0M304.2 240.2h1.0M312.0 228.1h1.0M319.1 211.3h1.0M267.3 237.4h1.0M236.1 225.9h1.0M335.0 232.4h1.0M313.8 214.5h1.0M307.2 228.6h1.0M272.3 221.2h1.0M324.5 233.4h1.0M313.5 214.0h1.0M270.2 246.5h1.0M313.6 224.7h1.0M300.1 250.0h1.0M300.8 218.5h1.0M360.2 222.3h1.0M282.2 225.9h1.0M303.0 230.6h1.0M281.7 239.0h1.0M313.5 232.6h1.0M324.1 214.2h1.0M293.4 234.6h1.0M343.4 216.0h1.0M302.8 213.4h1.0M292.9 222.9h1.0M298.7 229.9h1.0M293.9 236.8h1.0M327.2 238.4h1.0M282.0 235.1h1.0M306.2 214.3h1.0M278.2 211.5h1.0M309.5 239.9h1.0M332.3 234.3h1.0M300.0 227.3h1.0M295.3 233.9h1.0M312.2 215.3h1.0M300.7 246.6h1.0M340.9 216.8h1.0M296.4 231.9h1.0M288.3 237.4h1.0M294.7 221.2h1.0M310.2 221.8h1.0M339.6 210.7h1.0M294.3 229.8h1.0M310.4 208.4h1.0M323.6 240.6h1.0M316.1 233.6h1.0M296.9 236.4h1.0M259.7 209.4h1.0M247.4 234.7h1.0M298.9 235.7h1.0M291.9 250.3h1.0M290.6 239.8h1.0M320.8 217.2h1.0M264.6 246.8h1.0M309.2 234.7h1.0M281.0 223.4h1.0M283.9 213.5h1.0M294.6 224.4h1.0M297.3 222.5h1.0M315.2 233.6h1.0M280.5 240.4h1.0M323.1 237.9h1.0M251.4 257.1h1.0M258.8 236.7h1.0M310.6 215.2h1.0M295.2 226.6h1.0M348.4 209.9h1.0M308.0 227.1h1.0M304.2 238.7h1.0M307.7 236.6h1.0M323.9 235.8h1.0M313.8 221.6h1.0M322.6 209.1h1.0M260.7 224.3h1.0M299.4 244.9h1.0M298.8 229.4h1.0M317.0 227.6h1.0M261.4 231.7h1.0M288.7 231.9h1.0M344.3 224.2h1.0M280.6 232.4h1.0M319.1 228.4h1.0M336.7 224.0h1.0M319.2 240.5h1.0M322.0 234.2h1.0M304.9 228.8h1.0M242.4 235.5h1.0M319.6 234.8h1.0M313.4 209.0h1.0M271.8 229.7h1.0M268.2 229.1h1.0M332.0 224.7h1.0M302.5 237.5h1.0M267.4 234.2h1.0M304.8 221.2h1.0M303.5 234.0h1.0M300.4 227.3h1.0M323.7 228.4h1.0M321.5 199.4h1.0M297.9 240.2h1.0M309.1 232.7h1.0M313.0 246.8h1.0M291.5 214.7h1.0M302.3 222.6h1.0M326.6 224.8h1.0M296.2 249.8h1.0M300.0 232.0h1.0M300.7 224.3h1.0M342.1 224.6h1.0M270.8 257.1h1.0M276.9 225.0h1.0M290.0 253.6h1.0M286.2 225.6h1.0M293.0 239.1h1.0M275.5 254.8h1.0M272.7 225.6h1.0M299.7 226.2h1.0M269.4 221.6h1.0M344.4 237.8h1.0M295.9 230.5h1.0M322.2 226.0h1.0M328.2 200.6h1.0M317.2 230.1h1.0M281.5 232.4h1.0M295.0 220.6h1.0M277.6 233.8h1.0M304.8 216.3h1.0M266.4 247.7h1.0M236.1 248.8h1.0M306.7 232.8h1.0M284.8 210.2h1.0M319.1 231.2h1.0M295.3 213.4h1.0M268.4 227.6h1.0M320.0 217.8h1.0M289.2 236.2h1.0M279.6 249.2h1.0M313.1 220.7h1.0M305.7 259.1h1.0M320.6 231.5h1.0M271.6 242.0h1.0M332.2 230.8h1.0M314.5 230.3h1.0M265.0 240.0h1.0M311.3 243.6h1.0M312.7 229.7h1.0M296.9 234.3h1.0M310.1 215.8h1.0M311.7 218.2h1.0M295.1 229.6h1.0M317.5 224.5h1.0M273.2 216.3h1.0M283.1 237.2h1.0M303.4 210.3h1.0M318.9 222.2h1.0M286.2 242.2h1.0M272.8 223.7h1.0M314.8 215.2h1.0M299.5 248.6h1.0M306.7 209.1h1.0M318.1 234.6h1.0M313.2 220.1h1.0M303.2 232.2h1.0M298.5 227.6h1.0M286.2 241.2h1.0M311.7 239.3h1.0M299.2 225.9h1.0M285.3 245.8h1.0M279.3 222.6h1.0M295.6 240.3h1.0M323.1 222.7h1.0M294.1 242.4h1.0M321.4 237.2h1.0M329.7 221.4h1.0M342.3 226.3h1.0M301.9 232.6h1.0M295.2 243.6h1.0M366.6 223.9h1.0M297.5 231.1h1.0M275.1 205.4h1.0M312.8 229.6h1.0M315.6 235.3h1.0M296.0 232.2h1.0M336.5 222.0h1.0M293.5 245.5h1.0M260.8 236.5h1.0M303.3 256.5h1.0M296.4 215.4h1.0M270.8 226.6h1.0M345.8 228.7h1.0M285.4 232.0h1.0M277.8 245.6h1.0M303.3 222.3h1.0M250.7 256.3h1.0M320.3 232.1h1.0M333.7 221.7h1.0M276.1 231.0h1.0M333.3 234.3h1.0M295.4 234.0h1.0M309.2 228.2h1.0M266.8 236.6h1.0M278.7 229.3h1.0M298.9 222.0h1.0M293.1 220.0h1.0M342.1 221.3h1.0M308.0 251.6h1.0M281.1 235.3h1.0M308.2 234.5h1.0M315.1 230.2h1.0M274.6 243.1h1.0M327.9 217.9h1.0M351.6 218.9h1.0M312.3 222.2h1.0M328.3 231.1h1.0M258.3 256.7h1.0M352.5 228.8h1.0M293.3 246.6h1.0M296.6 218.1h1.0M306.0 209.0h1.0M328.9 241.0h1.0M340.9 224.1h1.0M275.1 224.6h1.0M323.1 235.7h1.0M295.4 238.0h1.0M315.4 224.9h1.0M314.0 248.8h1.0M256.1 229.6h1.0M321.8 248.4h1.0M260.1 245.0h1.0M284.6 225.2h1.0M293.4 234.8h1.0M291.9 229.4h1.0M314.0 223.9h1.0M290.8 240.6h1.0M250.4 238.4h1.0M318.1 232.9h1.0M274.4 229.2h1.0M319.3 218.5h1.0M283.8 217.7h1.0M283.4 240.0h1.0M302.7 234.9h1.0M332.0 222.8h1.0M331.4 240.8h1.0M280.8 237.9h1.0M304.6 220.8h1.0M284.3 214.4h1.0M293.5 225.0h1.0M326.6 239.8h1.0M283.8 225.2h1.0M325.8 222.2h1.0M314.0 228.1h1.0M330.2 199.7h1.0M307.1 235.6h1.0M281.0 233.5h1.0M291.1 228.2h1.0M309.6 230.1h1.0M315.4 234.8h1.0M307.0 215.5h1.0M315.2 240.9h1.0M356.0 221.7h1.0M322.3 240.4h1.0M337.8 237.2h1.0M285.9 245.0h1.0M320.6 221.9h1.0M296.9 233.7h1.0M284.0 217.5h1.0M296.1 226.3h1.0M290.7 238.3h1.0M305.9 233.8h1.0M306.0 250.6h1.0M320.2 217.0h1.0M291.4 239.5h1.0M309.8 225.6h1.0M339.8 243.3h1.0M292.1 257.3h1.0M297.2 235.0h1.0M281.3 251.2h1.0M319.0 216.6h1.0M276.7 230.2h1.0M270.8 254.0h1.0M291.7 234.0h1.0M281.7 226.5h1.0M278.5 255.8h1.0M287.6 220.9h1.0M312.4 225.6h1.0M325.4 253.7h1.0M327.6 238.7h1.0M297.6 235.2h1.0M333.1 221.0h1.0M293.4 237.3h1.0M292.3 213.1h1.0M298.3 233.1h1.0M283.4 242.5h1.0M287.3 248.6h1.0M284.9 232.9h1.0M288.5 229.6h1.0M284.7 203.2h1.0M301.6 236.5h1.0M285.6 227.6h1.0M319.8 236.3h1.0M313.0 243.7h1.0M284.4 231.3h1.0M323.1 220.3h1.0M309.8 210.7h1.0M299.4 237.7h1.0M293.6 243.2h1.0M299.1 224.6h1.0M299.7 232.0h1.0M315.7 204.8h1.0M275.5 224.6h1.0M282.3 235.8h1.0M299.4 230.3h1.0M302.7 241.9h1.0M243.3 262.9h1.0M252.0 265.0h1.0M353.9 256.1h1.0M366.3 263.1h1.0M362.7 192.5h1.0M213.8 283.2h1.0M211.8 230.2h1.0M308.0 217.9h1.0M325.1 242.0h1.0M352.4 203.6h1.0M299.3 269.3h1.0M255.1 250.8h1.0M313.3 230.5h1.0M205.2 251.1h1.0M182.8 192.0h1.0M365.6 273.1h1.0M206.5 243.9h1.0M362.3 279.0h1.0M257.5 263.6h1.0M300.2 222.6h1.0M192.4 211.9h1.0M190.6 203.1h1.0M294.9 216.4h1.0M287.6 262.3h1.0M312.2 274.2h1.0M201.4 243.9h1.0M237.6 260.2h1.0M246.0 258.9h1.0M267.0 244.7h1.0M355.5 223.8h1.0M280.3 272.8h1.0M347.0 249.7h1.0M340.5 277.3h1.0M258.2 278.4h1.0M226.5 254.4h1.0M299.2 260.4h1.0M263.6 211.1h1.0M258.4 268.2h1.0M201.9 270.4h1.0M316.5 271.6h1.0M253.0 273.0h1.0M304.4 223.1h1.0M359.4 225.7h1.0M286.7 259.1h1.0M184.3 262.1h1.0M281.0 232.7h1.0M348.3 271.9h1.0M364.2 240.5h1.0M293.9 229.8h1.0M235.1 257.4h1.0M254.8 210.8h1.0M315.2 222.7h1.0M357.3 262.3h1.0M289.5 273.6h1.0M343.8 218.4h1.0M294.5 274.0h1.0M224.5 218.5h1.0M279.0 240.7h1.0M275.9 254.0h1.0M218.1 228.8h1.0M353.0 270.1h1.0M207.2 262.9h1.0M187.2 258.7h1.0M341.7 271.6h1.0M232.5 269.5h1.0M184.9 266.2h1.0M279.7 201.2h1.0M363.8 225.9h1.0M209.7 253.5h1.0M327.3 279.3h1.0M306.2 219.9h1.0M326.9 220.5h1.0M356.1 240.3h1.0M343.7 263.9h1.0M259.3 245.1h1.0M218.5 210.3h1.0M285.7 234.2h1.0M243.1 255.0h1.0M180.4 276.8h1.0M255.6 232.3h1.0M202.8 271.1h1.0M231.4 271.2h1.0M205.6 273.8h1.0M290.8 265.5h1.0M186.9 200.6h1.0M254.9 223.2h1.0M240.0 207.3h1.0M283.7 259.0h1.0M313.6 243.9h1.0M239.7 256.1h1.0M181.6 228.2h1.0M273.3 259.4h1.0M314.9 230.5h1.0M213.5 266.7h1.0M255.7 277.9h1.0M302.2 231.5h1.0M269.7 272.3h1.0M205.4 201.5h1.0M335.7 259.2h1.0M213.6 261.7h1.0M284.5 226.0h1.0M271.7 270.2h1.0M327.3 252.8h1.0M194.5 207.1h1.0M276.9 241.7h1.0M270.3 261.3h1.0M242.8 263.5h1.0M180.6 212.8h1.0M259.5 261.9h1.0M335.4 214.6h1.0M326.0 192.0h1.0M282.5 217.3h1.0M183.6 258.3h1.0M260.5 242.1h1.0M208.9 243.7h1.0M235.3 243.7h1.0M360.6 197.1h1.0M334.4 196.5h1.0M350.8 229.8h1.0M259.0 254.1h1.0M215.9 254.9h1.0M332.6 262.0h1.0M340.9 238.1h1.0M291.0 216.8h1.0M198.0 267.1h1.0M264.6 197.4h1.0M321.7 241.2h1.0M310.4 255.0h1.0M208.4 265.0h1.0M301.7 278.0h1.0M252.4 262.9h1.0M254.4 268.9h1.0M322.5 260.0h1.0M344.2 253.8h1.0M187.7 275.2h1.0M285.9 220.9h1.0M238.0 243.3h1.0M232.9 212.8h1.0M264.2 201.2h1.0M324.0 225.3h1.0M343.2 274.7h1.0M184.7 275.3h1.0M196.0 231.4h1.0M299.4 236.5h1.0M204.6 277.5h1.0M298.0 233.9h1.0M269.2 241.1h1.0M180.0 262.5h1.0M205.3 242.4h1.0M188.3 218.7h1.0M282.9 258.9h1.0M187.0 237.3h1.0M225.4 270.6h1.0M311.0 250.6h1.0M199.0 280.0h1.0M343.8 235.5h1.0M260.9 267.6h1.0M265.0 274.6h1.0M341.9 197.5h1.0M325.3 262.6h1.0M234.9 272.0h1.0M201.7 252.8h1.0M285.2 276.8h1.0M242.3 239.2h1.0M360.6 202.2h1.0M349.7 261.8h1.0M353.2 277.7h1.0M358.4 264.4h1.0M189.9 260.0h1.0M255.5 278.8h1.0M244.4 238.4h1.0M329.8 258.6h1.0M291.3 268.1h1.0M270.8 234.0h1.0M234.6 258.7h1.0M346.9 196.3h1.0M275.3 236.9h1.0M237.2 241.2h1.0M353.9 250.8h1.0M185.5 266.9h1.0M308.0 245.7h1.0M225.9 260.7h1.0M240.6 256.4h1.0M328.4 274.7h1.0M362.3 228.9h1.0M311.6 270.1h1.0M256.6 215.9h1.0M185.8 279.9h1.0M276.3 244.1h1.0M275.7 253.8h1.0M204.6 202.1h1.0M364.0 211.8h1.0M190.2 280.3h1.0M268.7 228.3h1.0M351.3 272.0h1.0M212.8 218.2h1.0M306.0 208.2h1.0M251.8 260.9h1.0M274.9 238.8h1.0M327.5 250.7h1.0M270.5 278.6h1.0M286.8 221.1h1.0M285.1 264.3h1.0M300.3 245.0h1.0M196.1 209.6h1.0M239.2 274.8h1.0M346.3 214.1h1.0M281.1 275.5h1.0M347.7 272.1h1.0M230.2 256.8h1.0M287.9 272.9h1.0M218.0 250.3h1.0M311.3 256.2h1.0M309.4 259.1h1.0M360.6 245.2h1.0M291.1 200.1h1.0M189.4 242.6h1.0M238.7 202.4h1.0M331.3 268.5h1.0M309.0 241.9h1.0M327.3 222.1h1.0M191.8 242.3h1.0M341.9 260.9h1.0M351.1 279.2h1.0M281.4 216.0h1.0M223.4 242.4h1.0M354.8 220.9h1.0M244.4 257.6h1.0M286.5 255.2h1.0M220.7 275.1h1.0M310.8 269.7h1.0M320.9 227.9h1.0M279.3 272.5h1.0M238.6 242.9h1.0M248.6 222.2h1.0M244.0 195.3h1.0M216.2 242.5h1.0M193.0 245.6h1.0M262.9 248.3h1.0M204.5 240.1h1.0M225.5 269.2h1.0M274.9 280.2h1.0M322.6 257.6h1.0M285.6 250.7h1.0M316.8 230.0h1.0M205.9 253.6h1.0M186.5 192.5h1.0M227.6 239.8h1.0M199.8 267.8h1.0M295.4 261.1h1.0M366.1 247.3h1.0M198.9 276.4h1.0M268.9 267.1h1.0M239.0 201.7h1.0M240.6 224.1h1.0M194.4 267.5h1.0M350.4 257.5h1.0M195.9 206.8h1.0M283.7 210.6h1.0M213.9 196.0h1.0M198.9 226.1h1.0M262.9 279.0h1.0M316.2 235.6h1.0M344.0 265.0h1.0M219.1 265.5h1.0M285.9 278.1h1.0M196.5 264.5h1.0M274.1 258.5h1.0M243.5 263.6h1.0M356.4 265.6h1.0M294.7 259.6h1.0M229.8 277.4h1.0M329.8 282.8h1.0M224.0 274.2h1.0M209.9 199.5h1.0M359.7 272.2h1.0M224.8 274.1h1.0M316.1 263.9h1.0M185.8 267.2h1.0M346.9 233.5h1.0M318.6 264.2h1.0M305.4 242.3h1.0M355.5 208.6h1.0M279.3 240.7h1.0M243.1 202.6h1.0M360.5 274.0h1.0M232.9 230.3h1.0M258.8 272.3h1.0M345.2 202.9h1.0M275.1 278.3h1.0M349.2 263.4h1.0M340.2 261.7h1.0M262.0 211.9h1.0M206.0 246.1h1.0M297.3 256.5h1.0M343.3 227.7h1.0M291.4 230.6h1.0M348.5 278.0h1.0M356.2 240.0h1.0M186.9 264.7h1.0M295.0 264.2h1.0M288.6 278.0h1.0M336.6 278.5h1.0M273.4 244.9h1.0M343.4 230.5h1.0M199.6 210.8h1.0M235.8 266.1h1.0M357.4 224.5h1.0M251.8 226.9h1.0M186.7 265.0h1.0M281.4 261.2h1.0M311.2 264.2h1.0M264.2 238.2h1.0M195.9 267.8h1.0M352.1 259.3h1.0M245.1 194.5h1.0M235.0 234.2h1.0M231.6 250.8h1.0M232.3 211.2h1.0M278.2 226.2h1.0M241.6 255.1h1.0M214.0 254.9h1.0M358.0 252.0h1.0M289.0 272.1h1.0M269.1 260.2h1.0M343.0 276.3h1.0M219.8 281.0h1.0M326.8 240.4h1.0M239.1 278.4h1.0M186.7 272.1h1.0M366.2 269.2h1.0M366.2 279.0h1.0M366.2 253.3h1.0M366.2 217.1h1.0M366.2 230.7h1.0M366.2 201.2h1.0M366.2 211.5h1.0M366.2 222.5h1.0M366.2 193.6h1.0M366.2 269.4h1.0M366.2 236.6h1.0M366.2 222.9h1.0M366.2 248.1h1.0M366.2 232.2h1.0M366.2 219.6h1.0M366.2 225.7h1.0M366.2 231.2h1.0M366.2 218.5h1.0M366.2 224.2h1.0M366.2 233.3h1.0M366.2 270.0h1.0M366.2 265.1h1.0M366.2 270.3h1.0M366.2 233.6h1.0M366.2 278.6h1.0M366.2 195.4h1.0M366.2 268.7h1.0M366.2 252.4h1.0" stroke="#1a1a1a" stroke-width="1.0" fill="none" opacity="1"/>
<rect x="173.3" y="188.2" width="194.09999999999997" height="96.0" stroke="#111" stroke-width="1.2" fill="none"/>
<ellipse cx="240" cy="273.8" rx="18.3" ry="5.2" fill="none" stroke="#111" stroke-width="1.5" transform="rotate(-2 240 273.8)"/>
<ellipse cx="271" cy="267.1" rx="24.4" ry="5.9" fill="none" stroke="#111" stroke-width="1.5" transform="rotate(-3 271 267.1)"/>
<ellipse cx="292.3" cy="249.6" rx="23.6" ry="13.2" fill="none" stroke="#111" stroke-width="1.5" transform="rotate(-5 292.3 249.6)"/>
<ellipse cx="300" cy="229.6" rx="33.2" ry="16.9" fill="none" stroke="#111" stroke-width="1.5" transform="rotate(-3 300 229.6)"/>
<text x="262.2" y="283.6" font-size="10" text-anchor="middle" font-weight="normal" fill="#111"  stroke="#111" stroke-width="0.45">1</text>
<text x="300.1" y="278" font-size="10.3" text-anchor="middle" font-weight="normal" fill="#111"  stroke="#111" stroke-width="0.45">2</text>
<text x="322" y="260" font-size="10.5" text-anchor="middle" font-weight="normal" fill="#111"  stroke="#111" stroke-width="0.45">3</text>
<text x="339" y="231.3" font-size="10.7" text-anchor="middle" font-weight="normal" fill="#111"  stroke="#111" stroke-width="0.45">4</text>
<line x1="173.3" y1="284.2" x2="173.3" y2="287.0" stroke="#111" stroke-width="0.7"/>
<line x1="173.3" y1="284.2" x2="170.5" y2="284.2" stroke="#111" stroke-width="0.7"/>
<text x="172.0" y="293.2" font-size="5.4" text-anchor="start" font-weight="bold" fill="#111"  textLength="2.6" lengthAdjust="spacingAndGlyphs" stroke="#111" stroke-width="0.2">0</text>
<text x="166.2" y="285.65" font-size="5.6" text-anchor="start" font-weight="bold" fill="#111" transform="rotate(-90 166.2 285.65)"  textLength="2.9" lengthAdjust="spacingAndGlyphs" stroke="#111" stroke-width="0.2">0</text>
<line x1="211.24721407624634" y1="284.2" x2="211.24721407624634" y2="287.0" stroke="#111" stroke-width="0.7"/>
<line x1="173.3" y1="265.4316715542522" x2="170.5" y2="265.4316715542522" stroke="#111" stroke-width="0.7"/>
<text x="207.34721407624633" y="293.2" font-size="5.4" text-anchor="start" font-weight="bold" fill="#111"  textLength="7.800000000000001" lengthAdjust="spacingAndGlyphs" stroke="#111" stroke-width="0.2">200</text>
<text x="166.2" y="269.7816715542522" font-size="5.6" text-anchor="start" font-weight="bold" fill="#111" transform="rotate(-90 166.2 269.7816715542522)"  textLength="8.7" lengthAdjust="spacingAndGlyphs" stroke="#111" stroke-width="0.2">200</text>
<line x1="249.19442815249266" y1="284.2" x2="249.19442815249266" y2="287.0" stroke="#111" stroke-width="0.7"/>
<line x1="173.3" y1="246.6633431085044" x2="170.5" y2="246.6633431085044" stroke="#111" stroke-width="0.7"/>
<text x="245.29442815249266" y="293.2" font-size="5.4" text-anchor="start" font-weight="bold" fill="#111"  textLength="7.800000000000001" lengthAdjust="spacingAndGlyphs" stroke="#111" stroke-width="0.2">400</text>
<text x="166.2" y="251.0133431085044" font-size="5.6" text-anchor="start" font-weight="bold" fill="#111" transform="rotate(-90 166.2 251.0133431085044)"  textLength="8.7" lengthAdjust="spacingAndGlyphs" stroke="#111" stroke-width="0.2">400</text>
<line x1="287.141642228739" y1="284.2" x2="287.141642228739" y2="287.0" stroke="#111" stroke-width="0.7"/>
<line x1="173.3" y1="227.89501466275658" x2="170.5" y2="227.89501466275658" stroke="#111" stroke-width="0.7"/>
<text x="283.241642228739" y="293.2" font-size="5.4" text-anchor="start" font-weight="bold" fill="#111"  textLength="7.800000000000001" lengthAdjust="spacingAndGlyphs" stroke="#111" stroke-width="0.2">600</text>
<text x="166.2" y="232.24501466275657" font-size="5.6" text-anchor="start" font-weight="bold" fill="#111" transform="rotate(-90 166.2 232.24501466275657)"  textLength="8.7" lengthAdjust="spacingAndGlyphs" stroke="#111" stroke-width="0.2">600</text>
<line x1="325.0888563049853" y1="284.2" x2="325.0888563049853" y2="287.0" stroke="#111" stroke-width="0.7"/>
<line x1="173.3" y1="209.1266862170088" x2="170.5" y2="209.1266862170088" stroke="#111" stroke-width="0.7"/>
<text x="321.18885630498534" y="293.2" font-size="5.4" text-anchor="start" font-weight="bold" fill="#111"  textLength="7.800000000000001" lengthAdjust="spacingAndGlyphs" stroke="#111" stroke-width="0.2">800</text>
<text x="166.2" y="213.4766862170088" font-size="5.6" text-anchor="start" font-weight="bold" fill="#111" transform="rotate(-90 166.2 213.4766862170088)"  textLength="8.7" lengthAdjust="spacingAndGlyphs" stroke="#111" stroke-width="0.2">800</text>
<line x1="363.03607038123164" y1="284.2" x2="363.03607038123164" y2="287.0" stroke="#111" stroke-width="0.7"/>
<line x1="173.3" y1="190.35835777126098" x2="170.5" y2="190.35835777126098" stroke="#111" stroke-width="0.7"/>
<text x="357.83607038123165" y="293.2" font-size="5.4" text-anchor="start" font-weight="bold" fill="#111"  textLength="10.4" lengthAdjust="spacingAndGlyphs" stroke="#111" stroke-width="0.2">1000</text>
<text x="166.2" y="196.158357771261" font-size="5.6" text-anchor="start" font-weight="bold" fill="#111" transform="rotate(-90 166.2 196.158357771261)"  textLength="11.6" lengthAdjust="spacingAndGlyphs" stroke="#111" stroke-width="0.2">1000</text>
<line x1="173.3" y1="284.2" x2="173.3" y2="285.7" stroke="#111" stroke-width="0.6"/>
<line x1="173.3" y1="284.2" x2="171.8" y2="284.2" stroke="#111" stroke-width="0.6"/>
<line x1="182.7868035190616" y1="284.2" x2="182.7868035190616" y2="285.7" stroke="#111" stroke-width="0.6"/>
<line x1="173.3" y1="279.50791788856304" x2="171.8" y2="279.50791788856304" stroke="#111" stroke-width="0.6"/>
<line x1="192.27360703812317" y1="284.2" x2="192.27360703812317" y2="285.7" stroke="#111" stroke-width="0.6"/>
<line x1="173.3" y1="274.8158357771261" x2="171.8" y2="274.8158357771261" stroke="#111" stroke-width="0.6"/>
<line x1="201.76041055718474" y1="284.2" x2="201.76041055718474" y2="285.7" stroke="#111" stroke-width="0.6"/>
<line x1="173.3" y1="270.12375366568915" x2="171.8" y2="270.12375366568915" stroke="#111" stroke-width="0.6"/>
<line x1="211.24721407624634" y1="284.2" x2="211.24721407624634" y2="285.7" stroke="#111" stroke-width="0.6"/>
<line x1="173.3" y1="265.4316715542522" x2="171.8" y2="265.4316715542522" stroke="#111" stroke-width="0.6"/>
<line x1="220.73401759530793" y1="284.2" x2="220.73401759530793" y2="285.7" stroke="#111" stroke-width="0.6"/>
<line x1="173.3" y1="260.73958944281526" x2="171.8" y2="260.73958944281526" stroke="#111" stroke-width="0.6"/>
<line x1="230.2208211143695" y1="284.2" x2="230.2208211143695" y2="285.7" stroke="#111" stroke-width="0.6"/>
<line x1="173.3" y1="256.0475073313783" x2="171.8" y2="256.0475073313783" stroke="#111" stroke-width="0.6"/>
<line x1="239.70762463343107" y1="284.2" x2="239.70762463343107" y2="285.7" stroke="#111" stroke-width="0.6"/>
<line x1="173.3" y1="251.35542521994134" x2="171.8" y2="251.35542521994134" stroke="#111" stroke-width="0.6"/>
<line x1="249.19442815249266" y1="284.2" x2="249.19442815249266" y2="285.7" stroke="#111" stroke-width="0.6"/>
<line x1="173.3" y1="246.6633431085044" x2="171.8" y2="246.6633431085044" stroke="#111" stroke-width="0.6"/>
<line x1="258.68123167155426" y1="284.2" x2="258.68123167155426" y2="285.7" stroke="#111" stroke-width="0.6"/>
<line x1="173.3" y1="241.97126099706745" x2="171.8" y2="241.97126099706745" stroke="#111" stroke-width="0.6"/>
<line x1="268.1680351906158" y1="284.2" x2="268.1680351906158" y2="285.7" stroke="#111" stroke-width="0.6"/>
<line x1="173.3" y1="237.27917888563047" x2="171.8" y2="237.27917888563047" stroke="#111" stroke-width="0.6"/>
<line x1="277.6548387096774" y1="284.2" x2="277.6548387096774" y2="285.7" stroke="#111" stroke-width="0.6"/>
<line x1="173.3" y1="232.58709677419353" x2="171.8" y2="232.58709677419353" stroke="#111" stroke-width="0.6"/>
<line x1="287.141642228739" y1="284.2" x2="287.141642228739" y2="285.7" stroke="#111" stroke-width="0.6"/>
<line x1="173.3" y1="227.89501466275658" x2="171.8" y2="227.89501466275658" stroke="#111" stroke-width="0.6"/>
<line x1="296.6284457478006" y1="284.2" x2="296.6284457478006" y2="285.7" stroke="#111" stroke-width="0.6"/>
<line x1="173.3" y1="223.20293255131963" x2="171.8" y2="223.20293255131963" stroke="#111" stroke-width="0.6"/>
<line x1="306.1152492668622" y1="284.2" x2="306.1152492668622" y2="285.7" stroke="#111" stroke-width="0.6"/>
<line x1="173.3" y1="218.5108504398827" x2="171.8" y2="218.5108504398827" stroke="#111" stroke-width="0.6"/>
<line x1="315.6020527859238" y1="284.2" x2="315.6020527859238" y2="285.7" stroke="#111" stroke-width="0.6"/>
<line x1="173.3" y1="213.81876832844574" x2="171.8" y2="213.81876832844574" stroke="#111" stroke-width="0.6"/>
<line x1="325.0888563049853" y1="284.2" x2="325.0888563049853" y2="285.7" stroke="#111" stroke-width="0.6"/>
<line x1="173.3" y1="209.1266862170088" x2="171.8" y2="209.1266862170088" stroke="#111" stroke-width="0.6"/>
<line x1="334.5756598240469" y1="284.2" x2="334.5756598240469" y2="285.7" stroke="#111" stroke-width="0.6"/>
<line x1="173.3" y1="204.43460410557185" x2="171.8" y2="204.43460410557185" stroke="#111" stroke-width="0.6"/>
<line x1="344.06246334310845" y1="284.2" x2="344.06246334310845" y2="285.7" stroke="#111" stroke-width="0.6"/>
<line x1="173.3" y1="199.7425219941349" x2="171.8" y2="199.7425219941349" stroke="#111" stroke-width="0.6"/>
<line x1="353.54926686217004" y1="284.2" x2="353.54926686217004" y2="285.7" stroke="#111" stroke-width="0.6"/>
<line x1="173.3" y1="195.05043988269793" x2="171.8" y2="195.05043988269793" stroke="#111" stroke-width="0.6"/>
<line x1="363.03607038123164" y1="284.2" x2="363.03607038123164" y2="285.7" stroke="#111" stroke-width="0.6"/>
<line x1="173.3" y1="190.35835777126098" x2="171.8" y2="190.35835777126098" stroke="#111" stroke-width="0.6"/>
<text x="253.8" y="301.4" font-size="6" text-anchor="start" font-weight="bold" fill="#111"  textLength="30.5" lengthAdjust="spacingAndGlyphs" stroke="#111" stroke-width="0.2">FSC-Height</text>
<text x="159.6" y="256" font-size="6.2" text-anchor="start" font-weight="bold" fill="#111" transform="rotate(-90 159.6 256)"  textLength="33" lengthAdjust="spacingAndGlyphs" stroke="#111" stroke-width="0.2">SSC-Height</text>
<path d="M65.1 347.8h1.0M53.6 350.0h1.0M62.6 348.2h1.0M54.2 345.0h1.0M52.5 350.8h1.0M56.8 346.9h1.0M54.9 349.9h1.0M54.9 349.0h1.0M48.5 345.1h1.0M58.0 344.7h1.0M65.1 342.0h1.0M58.2 348.3h1.0M58.5 346.8h1.0M56.0 355.5h1.0M57.7 345.5h1.0M44.3 351.5h1.0M56.4 351.3h1.0M56.4 349.6h1.0M62.6 345.6h1.0M46.1 349.8h1.0M65.2 343.4h1.0M54.2 346.8h1.0M55.3 348.4h1.0M56.0 348.4h1.0M52.8 343.2h1.0M64.7 347.6h1.0M58.3 344.2h1.0M58.6 346.9h1.0M58.7 347.3h1.0M61.2 350.4h1.0M54.9 346.1h1.0M59.8 343.5h1.0M53.3 346.1h1.0M47.1 351.6h1.0M55.3 346.5h1.0M51.2 348.3h1.0M54.5 344.1h1.0M58.0 350.7h1.0M49.8 346.9h1.0M66.3 346.5h1.0M53.3 350.9h1.0M57.5 349.2h1.0M63.9 348.5h1.0M58.0 351.6h1.0M49.8 344.3h1.0M53.3 355.0h1.0M53.5 348.9h1.0M49.2 361.4h1.0M53.4 360.0h1.0M52.8 357.9h1.0M49.5 366.5h1.0M57.1 351.5h1.0M52.7 359.7h1.0M52.7 357.7h1.0M54.6 349.1h1.0M56.2 360.3h1.0M51.1 357.1h1.0M56.5 392.2h1.0M57.3 388.7h1.0M57.3 394.2h1.0M59.1 394.5h1.0M53.9 393.0h1.0M62.3 393.8h1.0M58.2 393.3h1.0M59.9 389.7h1.0M56.7 395.4h1.0M52.1 394.1h1.0M54.5 391.5h1.0M50.8 389.7h1.0M63.5 389.6h1.0M57.8 389.2h1.0M68.1 396.2h1.0M52.6 389.3h1.0M55.5 393.8h1.0M66.1 398.1h1.0M51.6 393.1h1.0M62.1 391.5h1.0M54.4 395.3h1.0M49.4 392.3h1.0M56.6 392.1h1.0M57.1 388.4h1.0M61.5 392.2h1.0M67.8 399.8h1.0M54.5 398.2h1.0M64.8 391.6h1.0M55.6 396.3h1.0M53.0 391.6h1.0M43.2 387.5h1.0M50.6 390.3h1.0M53.0 393.3h1.0M58.4 392.1h1.0M49.5 392.9h1.0M60.4 393.2h1.0M64.5 392.5h1.0M61.6 394.3h1.0M64.2 398.4h1.0M50.6 387.2h1.0M62.7 394.5h1.0M58.9 391.9h1.0M52.9 396.0h1.0M59.6 391.8h1.0M57.3 393.9h1.0M49.8 390.4h1.0M59.8 393.7h1.0M49.4 393.1h1.0M67.9 396.0h1.0M49.8 390.9h1.0M53.6 390.4h1.0M52.5 390.9h1.0M56.5 389.4h1.0M62.1 394.5h1.0M67.7 396.6h1.0M62.3 395.1h1.0M56.4 389.9h1.0M60.7 393.7h1.0M53.4 393.8h1.0M58.8 391.4h1.0M64.9 392.5h1.0M57.7 396.1h1.0M54.2 391.8h1.0M59.5 392.4h1.0M54.3 389.5h1.0M58.3 392.1h1.0M61.5 396.4h1.0M56.9 395.2h1.0M53.2 397.2h1.0M54.0 392.3h1.0M38.9 389.1h1.0M42.4 391.0h1.0M37.4 394.0h1.0M40.1 393.3h1.0M40.6 389.3h1.0M34.6 389.9h1.0M37.4 395.7h1.0M39.4 396.7h1.0M46.9 395.5h1.0M47.1 387.5h1.0M38.5 387.0h1.0M36.0 386.1h1.0M42.7 388.0h1.0M39.0 393.3h1.0M38.8 397.0h1.0M43.6 393.8h1.0M45.0 393.1h1.0M40.6 395.3h1.0M43.1 385.9h1.0M43.3 395.0h1.0M40.5 396.5h1.0M36.5 391.9h1.0M38.0 387.9h1.0M40.8 385.5h1.0M47.9 377.5h1.0M45.0 363.8h1.0M50.3 379.2h1.0M51.6 368.0h1.0M46.4 382.7h1.0M51.5 374.7h1.0M48.9 370.9h1.0M50.4 377.6h1.0" stroke="#1a1a1a" stroke-width="1.0" fill="none" opacity="1"/>
<rect x="32.3" y="317.6" width="81.5" height="83.39999999999998" stroke="#111" stroke-width="1.3" fill="none"/>
<line x1="32.3" y1="401.3" x2="113.8" y2="401.3" stroke="#111" stroke-width="1.6"/>
<line x1="45.6" y1="317.6" x2="45.6" y2="401" stroke="#111" stroke-width="1.2"/>
<line x1="32.3" y1="384.4" x2="113.8" y2="384.4" stroke="#111" stroke-width="1.2"/>
<path d="M32.30 401v3M38.43 401v1.7M42.02 401v1.7M44.57 401v1.7M46.54 401v1.7M48.15 401v1.7M49.52 401v1.7M50.70 401v1.7M51.74 401v1.7M52.67 401v3M58.81 401v1.7M62.40 401v1.7M64.94 401v1.7M66.92 401v1.7M68.53 401v1.7M69.89 401v1.7M71.08 401v1.7M72.12 401v1.7M73.05 401v3M79.18 401v1.7M82.77 401v1.7M85.32 401v1.7M87.29 401v1.7M88.90 401v1.7M90.27 401v1.7M91.45 401v1.7M92.49 401v1.7M93.42 401v3M99.56 401v1.7M103.15 401v1.7M105.69 401v1.7M107.67 401v1.7M109.28 401v1.7M110.64 401v1.7M111.83 401v1.7M112.87 401v1.7" stroke="#111" stroke-width="0.8" fill="none"/>
<path d="M32.3 401.00h-3M32.3 394.72h-1.7M32.3 391.05h-1.7M32.3 388.45h-1.7M32.3 386.43h-1.7M32.3 384.78h-1.7M32.3 383.38h-1.7M32.3 382.17h-1.7M32.3 381.10h-1.7M32.3 380.15h-3M32.3 373.87h-1.7M32.3 370.20h-1.7M32.3 367.60h-1.7M32.3 365.58h-1.7M32.3 363.93h-1.7M32.3 362.53h-1.7M32.3 361.32h-1.7M32.3 360.25h-1.7M32.3 359.30h-3M32.3 353.02h-1.7M32.3 349.35h-1.7M32.3 346.75h-1.7M32.3 344.73h-1.7M32.3 343.08h-1.7M32.3 341.68h-1.7M32.3 340.47h-1.7M32.3 339.40h-1.7M32.3 338.45h-3M32.3 332.17h-1.7M32.3 328.50h-1.7M32.3 325.90h-1.7M32.3 323.88h-1.7M32.3 322.23h-1.7M32.3 320.83h-1.7M32.3 319.62h-1.7M32.3 318.55h-1.7" stroke="#111" stroke-width="0.8" fill="none"/>
<text x="29.1" y="409.4" font-size="6.3" font-weight="bold" fill="#111" stroke="#111" stroke-width="0.08" textLength="4.8" lengthAdjust="spacingAndGlyphs">10</text>
<text x="34.1" y="406.9" font-size="5" font-weight="bold" fill="#111" stroke="#111" stroke-width="0.1">0</text>
<g transform="translate(27.9 404.4) rotate(-90)"><text x="0" y="0" font-size="6.5" font-weight="bold" fill="#111" stroke="#111" stroke-width="0.08" textLength="5" lengthAdjust="spacingAndGlyphs">10</text><text x="5.2" y="-2.8" font-size="5.2" font-weight="bold" fill="#111" stroke="#111" stroke-width="0.1">0</text></g>
<text x="49.5" y="409.4" font-size="6.3" font-weight="bold" fill="#111" stroke="#111" stroke-width="0.08" textLength="4.8" lengthAdjust="spacingAndGlyphs">10</text>
<text x="54.5" y="406.9" font-size="5" font-weight="bold" fill="#111" stroke="#111" stroke-width="0.1">1</text>
<g transform="translate(27.9 383.5) rotate(-90)"><text x="0" y="0" font-size="6.5" font-weight="bold" fill="#111" stroke="#111" stroke-width="0.08" textLength="5" lengthAdjust="spacingAndGlyphs">10</text><text x="5.2" y="-2.8" font-size="5.2" font-weight="bold" fill="#111" stroke="#111" stroke-width="0.1">1</text></g>
<text x="69.8" y="409.4" font-size="6.3" font-weight="bold" fill="#111" stroke="#111" stroke-width="0.08" textLength="4.8" lengthAdjust="spacingAndGlyphs">10</text>
<text x="74.8" y="406.9" font-size="5" font-weight="bold" fill="#111" stroke="#111" stroke-width="0.1">2</text>
<g transform="translate(27.9 362.7) rotate(-90)"><text x="0" y="0" font-size="6.5" font-weight="bold" fill="#111" stroke="#111" stroke-width="0.08" textLength="5" lengthAdjust="spacingAndGlyphs">10</text><text x="5.2" y="-2.8" font-size="5.2" font-weight="bold" fill="#111" stroke="#111" stroke-width="0.1">2</text></g>
<text x="90.2" y="409.4" font-size="6.3" font-weight="bold" fill="#111" stroke="#111" stroke-width="0.08" textLength="4.8" lengthAdjust="spacingAndGlyphs">10</text>
<text x="95.2" y="406.9" font-size="5" font-weight="bold" fill="#111" stroke="#111" stroke-width="0.1">3</text>
<g transform="translate(27.9 341.9) rotate(-90)"><text x="0" y="0" font-size="6.5" font-weight="bold" fill="#111" stroke="#111" stroke-width="0.08" textLength="5" lengthAdjust="spacingAndGlyphs">10</text><text x="5.2" y="-2.8" font-size="5.2" font-weight="bold" fill="#111" stroke="#111" stroke-width="0.1">3</text></g>
<text x="110.6" y="409.4" font-size="6.3" font-weight="bold" fill="#111" stroke="#111" stroke-width="0.08" textLength="4.8" lengthAdjust="spacingAndGlyphs">10</text>
<text x="115.6" y="406.9" font-size="5" font-weight="bold" fill="#111" stroke="#111" stroke-width="0.1">4</text>
<g transform="translate(27.9 321.0) rotate(-90)"><text x="0" y="0" font-size="6.5" font-weight="bold" fill="#111" stroke="#111" stroke-width="0.08" textLength="5" lengthAdjust="spacingAndGlyphs">10</text><text x="5.2" y="-2.8" font-size="5.2" font-weight="bold" fill="#111" stroke="#111" stroke-width="0.1">4</text></g>
<text x="19.0" y="380.3" font-size="12.4" text-anchor="start" font-weight="normal" fill="#111" transform="rotate(-90 19.0 380.3)"  textLength="41.5" lengthAdjust="spacingAndGlyphs" stroke="#111" stroke-width="0.4">CD19PE</text>
<text x="56" y="327.8" font-size="8.8" text-anchor="start" font-weight="bold" fill="#111"  textLength="4.5" lengthAdjust="spacingAndGlyphs" stroke="#111" stroke-width="0.3">1</text>
<text x="63.5" y="327.8" font-size="8.8" text-anchor="start" font-weight="bold" fill="#111"  stroke="#111" stroke-width="0.3">:</text>
<text x="69.5" y="327.8" font-size="8.8" text-anchor="start" font-weight="normal" fill="#111"  textLength="29" lengthAdjust="spacingAndGlyphs" stroke="#111" stroke-width="0.35">B cells</text>
<path d="M191.8 341.4h1.0M184.7 339.5h1.0M199.4 341.1h1.0M184.8 338.0h1.0M192.0 346.8h1.0M202.1 339.9h1.0M190.8 340.7h1.0M186.1 346.2h1.0M185.6 343.5h1.0M189.3 335.3h1.0M193.2 347.8h1.0M185.5 341.1h1.0M188.1 345.1h1.0M184.2 334.3h1.0M189.6 334.2h1.0M196.4 333.3h1.0M191.8 337.9h1.0M196.4 337.7h1.0M190.6 347.9h1.0M194.7 345.9h1.0M198.6 342.4h1.0M193.1 332.4h1.0M183.0 338.2h1.0M193.0 345.3h1.0M187.7 338.6h1.0M201.8 335.0h1.0M190.6 339.6h1.0M188.1 347.0h1.0M183.6 338.8h1.0M183.2 336.9h1.0M199.2 330.9h1.0M183.2 340.2h1.0M193.3 336.8h1.0M193.7 339.2h1.0M189.6 340.6h1.0M197.6 334.7h1.0M195.8 341.4h1.0M190.5 336.8h1.0M193.2 343.8h1.0M186.9 343.5h1.0M191.7 344.0h1.0M192.9 339.2h1.0M192.6 343.1h1.0M184.3 340.2h1.0M179.5 341.1h1.0M189.1 340.2h1.0M196.4 344.4h1.0M198.6 344.4h1.0M190.5 336.5h1.0M204.3 337.0h1.0M189.7 342.1h1.0M187.5 340.8h1.0M192.6 337.7h1.0M186.4 340.3h1.0M193.6 335.6h1.0M192.2 340.6h1.0M187.1 342.0h1.0M184.7 344.3h1.0M188.0 344.8h1.0M192.0 340.4h1.0M184.9 343.6h1.0M186.1 350.4h1.0M193.7 341.1h1.0M191.7 343.3h1.0M193.8 342.0h1.0M195.8 339.4h1.0M199.5 333.2h1.0M183.4 342.8h1.0M191.4 333.2h1.0M185.5 336.8h1.0M197.8 343.1h1.0M183.3 333.9h1.0M192.2 334.5h1.0M188.5 337.4h1.0M191.8 342.8h1.0M188.0 337.7h1.0M192.8 347.6h1.0M193.6 338.5h1.0M196.2 339.5h1.0M184.7 343.2h1.0M199.6 335.0h1.0M195.3 334.5h1.0M191.1 339.6h1.0M189.8 339.6h1.0M194.9 337.8h1.0M190.4 338.7h1.0M192.9 337.2h1.0M195.4 341.5h1.0M188.6 334.2h1.0M190.2 344.8h1.0M194.7 340.2h1.0M201.5 347.3h1.0M194.1 346.5h1.0M190.3 338.5h1.0M192.6 331.4h1.0M191.7 337.8h1.0M198.2 342.7h1.0M199.3 338.0h1.0M198.9 340.8h1.0M194.2 342.0h1.0M185.3 344.3h1.0M189.3 343.1h1.0M191.3 335.6h1.0M190.0 341.5h1.0M190.1 347.9h1.0M197.5 340.5h1.0M189.7 346.8h1.0M191.7 345.5h1.0M184.8 330.9h1.0M195.3 344.3h1.0M190.7 339.3h1.0M193.8 342.5h1.0M191.2 340.2h1.0M192.7 345.1h1.0M195.1 328.2h1.0M193.3 338.7h1.0M196.9 343.4h1.0M188.9 339.7h1.0M180.0 339.5h1.0M186.1 340.7h1.0M188.0 345.8h1.0M197.9 338.4h1.0M187.1 346.1h1.0M184.9 338.5h1.0M189.7 341.2h1.0M191.8 335.9h1.0M195.9 341.8h1.0M193.2 347.4h1.0M200.9 341.3h1.0M189.5 338.8h1.0M191.0 335.1h1.0M188.1 337.7h1.0M194.1 343.5h1.0M179.3 332.7h1.0M188.5 335.1h1.0M191.4 332.0h1.0M190.4 341.0h1.0M193.5 338.1h1.0M193.6 343.6h1.0M189.8 335.2h1.0M189.0 341.4h1.0M192.9 332.3h1.0M184.1 332.6h1.0M200.5 342.0h1.0M192.4 334.6h1.0M181.0 349.5h1.0M194.6 328.7h1.0M199.5 341.9h1.0M191.3 341.3h1.0M196.0 330.9h1.0M192.9 334.2h1.0M189.5 339.1h1.0M189.4 336.6h1.0M192.4 338.2h1.0M192.8 343.5h1.0M187.3 339.2h1.0M187.3 343.8h1.0M195.1 344.8h1.0M196.8 340.6h1.0M186.6 336.6h1.0M197.5 340.7h1.0M195.5 337.4h1.0M190.4 348.9h1.0M196.4 332.7h1.0M188.1 340.7h1.0M196.7 344.5h1.0M195.8 345.7h1.0M195.0 344.0h1.0M187.2 334.5h1.0M189.0 345.9h1.0M198.2 335.1h1.0M190.1 340.4h1.0M194.4 341.6h1.0M198.9 341.3h1.0M190.4 338.9h1.0M196.9 338.9h1.0M194.1 338.1h1.0M185.7 330.2h1.0M190.1 336.4h1.0M195.5 338.3h1.0M186.9 343.4h1.0M189.4 349.7h1.0M189.3 340.4h1.0M187.7 347.1h1.0M193.0 339.0h1.0M191.1 330.5h1.0M197.8 340.1h1.0M197.3 336.2h1.0M198.7 337.0h1.0M191.7 349.4h1.0M189.0 340.2h1.0M190.7 340.6h1.0M192.3 339.4h1.0M193.7 338.0h1.0M198.1 343.2h1.0M185.9 337.6h1.0M189.9 344.5h1.0M181.9 345.2h1.0M181.8 337.2h1.0M187.3 338.5h1.0M195.4 344.3h1.0M191.0 339.1h1.0M186.7 345.5h1.0M189.1 352.6h1.0M183.7 337.0h1.0M194.9 348.5h1.0M190.0 342.1h1.0M188.5 341.1h1.0M181.0 343.0h1.0M188.9 342.0h1.0M190.9 335.6h1.0M183.8 335.5h1.0M191.3 343.4h1.0M197.1 344.5h1.0M201.7 344.7h1.0M200.4 343.7h1.0M193.1 332.1h1.0M196.3 339.4h1.0M189.6 333.9h1.0M197.8 340.0h1.0M189.4 336.4h1.0M191.1 342.1h1.0M194.5 340.6h1.0M192.6 340.4h1.0M189.4 345.4h1.0M190.8 337.4h1.0M200.1 335.7h1.0M189.3 340.6h1.0M190.6 339.7h1.0M196.3 344.7h1.0M184.9 348.7h1.0M185.7 335.3h1.0M194.9 335.4h1.0M185.5 343.9h1.0M194.0 341.8h1.0M198.5 344.9h1.0M189.2 337.9h1.0M193.6 338.1h1.0M192.8 344.1h1.0M192.8 333.6h1.0M199.7 339.8h1.0M193.2 332.5h1.0M191.3 334.1h1.0M199.4 337.9h1.0M184.6 339.5h1.0M186.9 340.4h1.0M186.8 332.1h1.0M190.6 338.7h1.0M187.5 343.2h1.0M195.7 339.6h1.0M197.5 365.2h1.0M203.5 366.5h1.0M191.3 364.6h1.0M212.2 375.1h1.0M199.9 357.9h1.0M188.9 362.2h1.0M201.4 367.9h1.0M198.9 374.3h1.0M197.4 344.6h1.0M197.2 363.3h1.0M202.6 369.6h1.0M202.2 368.4h1.0M199.8 352.3h1.0M196.1 370.4h1.0M207.8 342.7h1.0M197.1 357.7h1.0M203.1 346.7h1.0M194.6 362.1h1.0M193.2 343.9h1.0M209.1 365.4h1.0M198.4 367.9h1.0M209.3 361.3h1.0M197.1 358.6h1.0M203.7 373.5h1.0M207.4 362.8h1.0M190.8 352.7h1.0M186.6 359.6h1.0M185.7 359.9h1.0M191.7 362.9h1.0M206.8 365.4h1.0M197.2 362.0h1.0M194.2 363.4h1.0M196.5 362.8h1.0M193.1 364.5h1.0M200.0 355.2h1.0M197.5 349.1h1.0M189.5 347.7h1.0M200.4 359.7h1.0M197.7 364.4h1.0M196.3 359.6h1.0M194.6 380.2h1.0M193.1 365.2h1.0M196.5 377.9h1.0M191.1 357.8h1.0M200.3 358.8h1.0M212.8 394.5h1.0M200.8 387.9h1.0M200.8 389.4h1.0M201.8 394.4h1.0M197.1 391.2h1.0M192.3 390.7h1.0M208.7 391.0h1.0M195.8 394.2h1.0M188.4 391.3h1.0M205.8 394.2h1.0M201.8 395.5h1.0M197.7 385.6h1.0M203.2 395.1h1.0M181.4 391.6h1.0M207.8 389.8h1.0M204.5 397.9h1.0M197.1 392.1h1.0M190.9 394.7h1.0M199.6 394.9h1.0M197.5 393.1h1.0M193.7 396.2h1.0M196.9 396.9h1.0M204.1 391.0h1.0M190.1 395.9h1.0M200.7 392.0h1.0M205.2 387.0h1.0M201.9 392.1h1.0M203.0 391.4h1.0M194.6 395.0h1.0M200.5 388.6h1.0M201.6 395.4h1.0M186.4 389.5h1.0M190.0 389.6h1.0M193.1 398.8h1.0M190.9 389.7h1.0M196.1 397.1h1.0M195.1 395.9h1.0M205.1 392.1h1.0M200.6 396.3h1.0M199.5 398.2h1.0M200.6 398.1h1.0M190.9 393.4h1.0M181.2 387.8h1.0M194.0 391.6h1.0M196.3 394.6h1.0M187.8 387.2h1.0M203.1 394.2h1.0M204.5 396.0h1.0M200.1 391.5h1.0M201.3 390.2h1.0M188.8 391.5h1.0M213.4 390.7h1.0M207.2 392.9h1.0M209.8 392.0h1.0M189.6 390.6h1.0M196.5 394.7h1.0M192.8 393.4h1.0M214.3 393.9h1.0M192.6 392.7h1.0M195.5 393.7h1.0M192.3 391.8h1.0M202.9 393.3h1.0M184.4 396.0h1.0M200.4 399.2h1.0M192.0 393.8h1.0M191.5 395.2h1.0M193.9 396.9h1.0M198.6 386.2h1.0M189.9 394.7h1.0M203.0 396.4h1.0M201.3 391.7h1.0M198.7 393.2h1.0M197.9 396.2h1.0M191.3 391.7h1.0M207.0 393.0h1.0M201.7 391.5h1.0M198.2 397.1h1.0M209.0 393.7h1.0M193.4 397.5h1.0M184.6 391.8h1.0M205.1 392.9h1.0M197.4 392.8h1.0M191.2 391.4h1.0M200.0 387.8h1.0M192.2 383.4h1.0M204.3 393.7h1.0M186.3 387.8h1.0M192.9 397.9h1.0M201.2 389.6h1.0M194.3 387.7h1.0M191.1 387.2h1.0M210.3 395.8h1.0M206.8 394.8h1.0M192.6 395.9h1.0M201.1 390.9h1.0M186.3 392.3h1.0M189.3 391.7h1.0M183.5 386.5h1.0M204.5 395.0h1.0M198.8 392.2h1.0M199.1 390.0h1.0M203.2 398.2h1.0M193.5 387.9h1.0M197.9 387.5h1.0M211.6 393.3h1.0M200.7 393.7h1.0M194.2 390.4h1.0M190.2 398.9h1.0M198.3 396.4h1.0M208.3 392.5h1.0M194.2 391.5h1.0M200.4 389.9h1.0M204.5 392.5h1.0M192.4 394.9h1.0M207.8 390.6h1.0M196.5 392.4h1.0M201.5 395.6h1.0M196.9 390.0h1.0M193.6 395.5h1.0M210.7 394.2h1.0M205.9 391.0h1.0M188.9 389.6h1.0M218.6 397.9h1.0M190.8 390.2h1.0M195.2 388.7h1.0M201.9 389.7h1.0M196.1 394.7h1.0M171.2 395.8h1.0M170.3 396.4h1.0M169.9 391.2h1.0M167.5 393.9h1.0M174.0 393.0h1.0M176.2 394.8h1.0M173.0 388.1h1.0M171.4 394.0h1.0M168.3 397.2h1.0M172.9 397.3h1.0M168.2 398.2h1.0M176.1 393.4h1.0" stroke="#1a1a1a" stroke-width="1.0" fill="none" opacity="1"/>
<rect x="165.3" y="317.2" width="81.29999999999998" height="83.5" stroke="#111" stroke-width="1.3" fill="none"/>
<line x1="165.3" y1="401.0" x2="246.6" y2="401.0" stroke="#111" stroke-width="1.6"/>
<line x1="178.2" y1="317.2" x2="178.2" y2="400.7" stroke="#111" stroke-width="1.2"/>
<line x1="165.3" y1="383.6" x2="246.6" y2="383.6" stroke="#111" stroke-width="1.2"/>
<path d="M165.30 400.7v3M171.42 400.7v1.7M175.00 400.7v1.7M177.54 400.7v1.7M179.51 400.7v1.7M181.12 400.7v1.7M182.48 400.7v1.7M183.66 400.7v1.7M184.69 400.7v1.7M185.62 400.7v3M191.74 400.7v1.7M195.32 400.7v1.7M197.86 400.7v1.7M199.83 400.7v1.7M201.44 400.7v1.7M202.80 400.7v1.7M203.98 400.7v1.7M205.02 400.7v1.7M205.95 400.7v3M212.07 400.7v1.7M215.65 400.7v1.7M218.19 400.7v1.7M220.16 400.7v1.7M221.77 400.7v1.7M223.13 400.7v1.7M224.31 400.7v1.7M225.34 400.7v1.7M226.28 400.7v3M232.39 400.7v1.7M235.97 400.7v1.7M238.51 400.7v1.7M240.48 400.7v1.7M242.09 400.7v1.7M243.45 400.7v1.7M244.63 400.7v1.7M245.67 400.7v1.7" stroke="#111" stroke-width="0.8" fill="none"/>
<path d="M165.3 400.70h-3M165.3 394.42h-1.7M165.3 390.74h-1.7M165.3 388.13h-1.7M165.3 386.11h-1.7M165.3 384.46h-1.7M165.3 383.06h-1.7M165.3 381.85h-1.7M165.3 380.78h-1.7M165.3 379.82h-3M165.3 373.54h-1.7M165.3 369.87h-1.7M165.3 367.26h-1.7M165.3 365.23h-1.7M165.3 363.58h-1.7M165.3 362.18h-1.7M165.3 360.97h-1.7M165.3 359.91h-1.7M165.3 358.95h-3M165.3 352.67h-1.7M165.3 348.99h-1.7M165.3 346.38h-1.7M165.3 344.36h-1.7M165.3 342.71h-1.7M165.3 341.31h-1.7M165.3 340.10h-1.7M165.3 339.03h-1.7M165.3 338.07h-3M165.3 331.79h-1.7M165.3 328.12h-1.7M165.3 325.51h-1.7M165.3 323.48h-1.7M165.3 321.83h-1.7M165.3 320.43h-1.7M165.3 319.22h-1.7M165.3 318.16h-1.7" stroke="#111" stroke-width="0.8" fill="none"/>
<text x="162.1" y="409.1" font-size="6.3" font-weight="bold" fill="#111" stroke="#111" stroke-width="0.08" textLength="4.8" lengthAdjust="spacingAndGlyphs">10</text>
<text x="167.1" y="406.6" font-size="5" font-weight="bold" fill="#111" stroke="#111" stroke-width="0.1">0</text>
<g transform="translate(160.9 404.1) rotate(-90)"><text x="0" y="0" font-size="6.5" font-weight="bold" fill="#111" stroke="#111" stroke-width="0.08" textLength="5" lengthAdjust="spacingAndGlyphs">10</text><text x="5.2" y="-2.8" font-size="5.2" font-weight="bold" fill="#111" stroke="#111" stroke-width="0.1">0</text></g>
<text x="182.4" y="409.1" font-size="6.3" font-weight="bold" fill="#111" stroke="#111" stroke-width="0.08" textLength="4.8" lengthAdjust="spacingAndGlyphs">10</text>
<text x="187.4" y="406.6" font-size="5" font-weight="bold" fill="#111" stroke="#111" stroke-width="0.1">1</text>
<g transform="translate(160.9 383.2) rotate(-90)"><text x="0" y="0" font-size="6.5" font-weight="bold" fill="#111" stroke="#111" stroke-width="0.08" textLength="5" lengthAdjust="spacingAndGlyphs">10</text><text x="5.2" y="-2.8" font-size="5.2" font-weight="bold" fill="#111" stroke="#111" stroke-width="0.1">1</text></g>
<text x="202.8" y="409.1" font-size="6.3" font-weight="bold" fill="#111" stroke="#111" stroke-width="0.08" textLength="4.8" lengthAdjust="spacingAndGlyphs">10</text>
<text x="207.8" y="406.6" font-size="5" font-weight="bold" fill="#111" stroke="#111" stroke-width="0.1">2</text>
<g transform="translate(160.9 362.3) rotate(-90)"><text x="0" y="0" font-size="6.5" font-weight="bold" fill="#111" stroke="#111" stroke-width="0.08" textLength="5" lengthAdjust="spacingAndGlyphs">10</text><text x="5.2" y="-2.8" font-size="5.2" font-weight="bold" fill="#111" stroke="#111" stroke-width="0.1">2</text></g>
<text x="223.1" y="409.1" font-size="6.3" font-weight="bold" fill="#111" stroke="#111" stroke-width="0.08" textLength="4.8" lengthAdjust="spacingAndGlyphs">10</text>
<text x="228.1" y="406.6" font-size="5" font-weight="bold" fill="#111" stroke="#111" stroke-width="0.1">3</text>
<g transform="translate(160.9 341.5) rotate(-90)"><text x="0" y="0" font-size="6.5" font-weight="bold" fill="#111" stroke="#111" stroke-width="0.08" textLength="5" lengthAdjust="spacingAndGlyphs">10</text><text x="5.2" y="-2.8" font-size="5.2" font-weight="bold" fill="#111" stroke="#111" stroke-width="0.1">3</text></g>
<text x="243.4" y="409.1" font-size="6.3" font-weight="bold" fill="#111" stroke="#111" stroke-width="0.08" textLength="4.8" lengthAdjust="spacingAndGlyphs">10</text>
<text x="248.4" y="406.6" font-size="5" font-weight="bold" fill="#111" stroke="#111" stroke-width="0.1">4</text>
<g transform="translate(160.9 320.6) rotate(-90)"><text x="0" y="0" font-size="6.5" font-weight="bold" fill="#111" stroke="#111" stroke-width="0.08" textLength="5" lengthAdjust="spacingAndGlyphs">10</text><text x="5.2" y="-2.8" font-size="5.2" font-weight="bold" fill="#111" stroke="#111" stroke-width="0.1">4</text></g>
<text x="152.7" y="388.5" font-size="12.4" text-anchor="start" font-weight="normal" fill="#111" transform="rotate(-90 152.7 388.5)"  textLength="60" lengthAdjust="spacingAndGlyphs" stroke="#111" stroke-width="0.4">CD56PECy5</text>
<text x="187.6" y="327.6" font-size="8.8" text-anchor="start" font-weight="bold" fill="#111"  textLength="4.8" lengthAdjust="spacingAndGlyphs" stroke="#111" stroke-width="0.3">2</text>
<text x="195.5" y="327.6" font-size="8.8" text-anchor="start" font-weight="bold" fill="#111"  stroke="#111" stroke-width="0.3">:</text>
<text x="202.2" y="327.6" font-size="8.8" text-anchor="start" font-weight="normal" fill="#111"  textLength="34" lengthAdjust="spacingAndGlyphs" stroke="#111" stroke-width="0.35">NK cells</text>
<path d="M337.2 388.6h1.0M335.1 365.6h1.0M342.1 363.9h1.0M335.7 353.1h1.0M336.8 384.2h1.0M347.5 349.6h1.0M334.3 377.0h1.0M337.8 361.6h1.0M337.9 384.6h1.0M341.0 355.7h1.0M340.1 350.0h1.0M342.1 338.3h1.0M336.9 379.5h1.0M344.1 370.8h1.0M331.8 367.5h1.0M341.5 373.7h1.0M339.7 358.8h1.0M332.0 363.7h1.0M338.9 357.8h1.0M335.5 373.3h1.0M337.3 369.8h1.0M342.0 355.7h1.0M341.7 350.4h1.0M341.3 370.7h1.0M340.1 375.6h1.0M339.1 343.6h1.0M344.0 366.9h1.0M339.1 367.2h1.0M339.7 363.2h1.0M333.9 353.5h1.0M344.3 372.0h1.0M334.8 389.8h1.0M339.4 351.7h1.0M335.8 359.4h1.0M342.2 374.9h1.0M337.6 364.1h1.0M336.0 369.5h1.0M334.9 380.2h1.0M338.1 379.5h1.0M343.6 368.3h1.0M341.3 325.1h1.0M335.3 371.7h1.0M335.5 382.5h1.0M337.3 365.0h1.0M331.4 379.3h1.0M336.7 384.8h1.0M340.1 365.3h1.0M341.3 361.9h1.0M335.7 367.6h1.0M337.6 381.6h1.0M336.1 353.8h1.0M342.9 376.4h1.0M337.2 369.1h1.0M333.0 391.5h1.0M336.6 339.2h1.0M338.0 373.8h1.0M340.6 369.0h1.0M339.2 364.2h1.0M338.2 363.9h1.0M346.8 363.7h1.0M338.9 339.3h1.0M338.3 374.4h1.0M340.8 345.1h1.0M338.2 388.0h1.0M337.8 364.6h1.0M340.4 364.7h1.0M336.6 359.2h1.0M332.7 372.1h1.0M340.3 373.9h1.0M335.9 373.6h1.0M334.9 346.9h1.0M340.6 349.0h1.0M333.8 364.9h1.0M337.3 387.9h1.0M341.9 392.9h1.0M339.0 344.8h1.0M334.1 372.6h1.0M333.8 374.9h1.0M341.9 373.0h1.0M332.8 384.5h1.0M344.2 377.7h1.0M346.4 352.2h1.0M338.0 378.4h1.0M341.8 385.1h1.0M337.9 357.9h1.0M337.8 357.7h1.0M338.7 362.2h1.0M341.0 356.3h1.0M341.5 355.0h1.0M342.5 381.1h1.0M338.4 364.0h1.0M339.6 372.3h1.0M335.0 377.9h1.0M332.2 354.3h1.0M334.4 371.5h1.0M335.6 336.8h1.0M342.1 357.4h1.0M337.3 371.8h1.0M339.6 374.1h1.0M334.1 373.2h1.0M341.7 375.3h1.0M343.4 345.1h1.0M342.5 345.7h1.0M334.7 371.4h1.0M346.3 379.0h1.0M338.0 368.3h1.0M342.1 348.7h1.0M337.3 359.6h1.0M342.5 372.4h1.0M339.5 382.7h1.0M337.6 355.1h1.0M341.5 341.0h1.0M339.4 366.2h1.0M333.1 372.1h1.0M335.6 386.6h1.0M341.0 377.7h1.0M341.8 365.2h1.0M342.2 373.3h1.0M340.4 380.3h1.0M345.1 341.2h1.0M336.9 348.1h1.0M334.3 378.2h1.0M335.2 365.7h1.0M336.6 380.9h1.0M343.9 365.8h1.0M336.2 360.4h1.0M337.8 345.5h1.0M334.4 371.5h1.0M339.3 368.9h1.0M339.6 356.6h1.0M338.1 353.7h1.0M339.3 339.8h1.0M340.2 369.2h1.0M337.1 369.6h1.0M341.9 366.1h1.0M344.9 379.9h1.0M338.9 364.1h1.0M334.5 354.5h1.0M339.2 368.2h1.0M339.7 388.7h1.0M339.9 371.5h1.0M337.7 352.8h1.0M337.0 366.4h1.0M340.9 374.9h1.0M335.1 367.2h1.0M341.0 346.7h1.0M337.7 348.0h1.0M336.2 383.4h1.0M339.7 395.2h1.0M335.1 380.8h1.0M338.0 346.0h1.0M339.2 369.7h1.0M337.6 383.5h1.0M337.5 377.3h1.0M338.5 359.9h1.0M339.8 380.5h1.0M343.3 380.5h1.0M332.9 352.0h1.0M337.6 383.2h1.0M332.2 371.9h1.0M334.6 379.4h1.0M342.0 361.6h1.0M343.0 374.7h1.0M338.0 386.5h1.0M345.6 362.4h1.0M339.4 371.0h1.0M341.3 360.3h1.0M337.8 383.2h1.0M338.1 384.9h1.0M339.4 389.4h1.0M343.5 349.3h1.0M340.9 362.7h1.0M336.6 379.6h1.0M342.1 372.3h1.0M342.2 387.0h1.0M339.8 374.8h1.0M340.2 386.4h1.0M335.7 367.6h1.0M334.6 361.7h1.0M339.7 361.8h1.0M336.1 365.2h1.0M342.3 392.9h1.0M339.0 357.2h1.0M339.2 358.6h1.0M339.7 375.8h1.0M345.0 354.1h1.0M338.1 356.3h1.0M342.2 352.8h1.0M342.9 389.1h1.0M332.9 384.5h1.0M346.2 364.9h1.0M338.4 394.3h1.0M337.9 366.3h1.0M335.6 377.4h1.0M343.0 354.7h1.0M341.3 372.6h1.0M343.8 363.4h1.0M336.1 371.5h1.0M340.1 362.9h1.0M335.5 377.3h1.0M333.3 354.5h1.0M338.2 349.4h1.0M340.3 344.9h1.0M338.0 373.2h1.0M343.1 353.9h1.0M339.5 382.8h1.0M335.9 373.6h1.0M342.4 380.3h1.0M338.4 372.2h1.0M336.2 375.7h1.0M340.0 359.7h1.0M346.5 372.0h1.0M335.9 369.1h1.0M340.2 352.6h1.0M335.6 378.7h1.0M338.4 366.6h1.0M342.1 362.1h1.0M333.7 354.9h1.0M338.1 365.0h1.0M337.3 356.2h1.0M332.8 366.9h1.0M340.0 370.3h1.0M334.7 361.1h1.0M339.1 334.9h1.0M340.9 364.9h1.0M349.1 360.9h1.0M338.3 367.6h1.0M337.8 358.7h1.0M342.2 370.0h1.0M339.7 363.2h1.0M332.3 364.1h1.0M331.1 362.6h1.0M339.8 363.2h1.0M338.9 388.3h1.0M340.4 379.7h1.0M337.5 363.4h1.0M334.0 389.3h1.0M342.3 364.4h1.0M340.1 369.9h1.0M343.1 371.9h1.0M338.3 353.4h1.0M330.5 339.9h1.0M337.8 383.7h1.0M336.2 365.2h1.0M340.6 387.8h1.0M330.8 369.2h1.0M336.9 379.0h1.0M337.3 344.6h1.0M330.7 348.7h1.0M337.2 353.6h1.0M334.0 396.1h1.0M333.5 365.5h1.0M342.6 365.2h1.0M331.8 370.7h1.0M338.5 385.2h1.0M335.8 347.9h1.0M337.2 352.9h1.0M339.2 375.5h1.0M338.3 366.6h1.0M334.4 350.6h1.0M339.5 385.5h1.0M341.2 398.3h1.0M335.2 340.1h1.0M338.4 370.7h1.0M335.7 343.1h1.0M343.0 339.5h1.0M340.2 377.6h1.0M342.9 364.2h1.0M341.6 362.2h1.0M341.0 383.7h1.0M338.4 343.8h1.0M340.0 326.1h1.0M343.2 356.4h1.0M336.7 381.4h1.0M341.5 372.3h1.0M336.6 377.7h1.0M339.0 362.0h1.0M335.9 374.8h1.0M336.0 385.9h1.0M332.5 356.5h1.0M339.1 343.9h1.0M344.7 345.2h1.0M336.5 362.5h1.0M339.1 385.4h1.0M337.1 360.9h1.0M342.8 364.7h1.0M341.1 366.4h1.0M336.8 359.6h1.0M335.2 358.0h1.0M339.1 366.1h1.0M341.2 367.2h1.0M339.9 354.6h1.0M333.0 383.3h1.0M344.5 360.2h1.0M341.4 353.7h1.0M335.5 373.8h1.0M341.4 373.4h1.0M342.2 366.4h1.0M338.0 368.5h1.0M335.5 363.6h1.0M332.9 354.0h1.0M341.1 358.4h1.0M330.9 355.4h1.0M341.1 364.8h1.0M338.2 375.0h1.0M342.4 361.0h1.0M339.3 393.4h1.0M340.5 358.7h1.0M335.7 362.2h1.0M342.4 337.5h1.0M340.6 360.3h1.0M340.6 368.5h1.0M333.2 363.0h1.0M331.8 368.3h1.0M335.9 380.5h1.0M332.4 373.8h1.0M335.2 361.9h1.0M332.8 394.6h1.0M337.7 368.5h1.0M346.2 339.9h1.0M338.2 354.6h1.0M337.6 361.9h1.0M340.2 376.2h1.0M338.7 382.7h1.0M337.4 350.3h1.0M332.8 381.2h1.0M337.3 374.0h1.0M340.9 353.6h1.0M342.9 374.8h1.0M344.0 373.8h1.0M334.6 376.7h1.0M338.9 347.5h1.0M341.4 362.1h1.0M339.9 388.4h1.0M342.9 359.3h1.0M341.0 379.6h1.0M339.0 381.3h1.0M340.5 360.1h1.0M343.2 361.5h1.0M336.9 362.7h1.0M332.5 384.2h1.0M334.4 344.4h1.0M339.6 337.0h1.0M337.5 377.5h1.0M339.7 371.5h1.0M337.5 354.7h1.0M339.5 377.0h1.0M338.3 380.2h1.0M330.4 358.6h1.0M329.7 365.6h1.0M339.0 349.6h1.0M336.7 366.7h1.0M335.8 365.3h1.0M341.7 365.5h1.0M342.0 371.2h1.0M336.8 368.9h1.0M341.6 357.9h1.0M336.3 384.6h1.0M341.3 374.3h1.0M336.7 365.5h1.0M339.8 371.9h1.0M341.4 350.8h1.0M341.5 352.1h1.0M335.3 362.1h1.0M336.7 382.0h1.0M342.6 393.5h1.0M336.2 370.2h1.0M342.9 341.7h1.0M341.2 391.1h1.0M341.8 355.5h1.0M338.2 369.2h1.0M336.2 354.2h1.0M342.4 353.4h1.0M342.1 350.8h1.0M335.9 337.5h1.0M330.1 396.3h1.0M336.3 362.9h1.0M341.4 346.1h1.0M338.5 382.3h1.0M341.2 385.6h1.0M338.1 346.8h1.0M338.6 374.1h1.0M335.0 364.5h1.0M338.4 396.7h1.0M336.3 357.5h1.0M337.9 358.8h1.0M338.7 359.9h1.0M334.3 359.6h1.0M332.1 393.0h1.0M343.1 363.2h1.0M339.2 375.9h1.0M339.6 354.5h1.0M335.6 379.4h1.0M337.6 373.2h1.0M337.2 379.5h1.0M338.0 370.6h1.0M340.4 338.8h1.0M341.6 383.4h1.0M336.9 345.8h1.0M338.4 389.0h1.0M335.3 388.1h1.0M328.1 394.8h1.0M338.1 394.8h1.0M329.1 389.9h1.0M335.9 391.2h1.0M336.4 391.5h1.0M335.7 393.8h1.0M340.0 398.8h1.0M335.8 383.8h1.0M344.8 386.1h1.0M337.6 398.4h1.0M339.8 399.0h1.0M339.3 385.6h1.0M340.5 391.5h1.0M342.6 389.8h1.0M341.2 387.1h1.0M334.3 392.5h1.0M343.0 389.3h1.0M338.0 398.1h1.0M335.5 394.0h1.0M347.9 392.8h1.0M340.4 398.7h1.0M345.0 398.6h1.0M332.3 394.7h1.0M327.3 387.4h1.0M334.2 391.6h1.0M332.6 389.5h1.0M346.4 387.0h1.0M339.3 387.3h1.0M338.0 389.1h1.0M325.7 383.8h1.0M343.2 398.6h1.0M334.3 392.2h1.0M338.1 385.9h1.0M333.3 385.5h1.0M332.5 393.0h1.0M339.8 390.4h1.0M337.5 390.9h1.0M335.0 390.4h1.0M344.7 391.7h1.0M342.1 380.9h1.0M340.2 387.8h1.0M333.7 397.1h1.0M346.7 382.5h1.0M344.1 391.6h1.0M333.1 397.8h1.0M335.2 390.4h1.0M334.7 392.0h1.0M332.9 397.9h1.0M346.1 388.8h1.0M332.0 392.4h1.0M331.3 393.4h1.0M336.9 393.0h1.0M331.6 394.4h1.0M328.3 391.2h1.0M335.1 393.2h1.0M341.1 392.1h1.0M329.9 394.9h1.0M335.2 396.5h1.0M335.9 388.5h1.0M337.4 392.1h1.0M331.5 386.0h1.0M343.0 388.5h1.0M342.2 397.8h1.0M330.3 394.8h1.0M335.5 386.3h1.0M332.2 393.6h1.0M341.8 389.7h1.0M334.7 397.7h1.0M333.5 389.9h1.0M326.7 394.9h1.0M331.7 388.5h1.0M333.2 389.5h1.0M353.6 390.4h1.0M340.6 387.1h1.0M341.2 394.6h1.0M330.2 388.0h1.0M318.6 382.3h1.0M331.7 392.7h1.0M340.7 392.6h1.0M331.3 388.5h1.0M345.8 390.9h1.0M346.5 392.5h1.0M333.7 391.2h1.0M339.0 396.6h1.0M333.7 395.3h1.0M328.2 385.4h1.0M326.3 390.8h1.0M331.9 396.2h1.0M333.8 391.0h1.0M334.1 386.2h1.0M339.4 386.3h1.0M328.5 394.6h1.0M322.7 382.4h1.0M333.1 390.3h1.0M340.6 388.0h1.0M328.2 394.9h1.0M330.1 393.6h1.0M324.5 391.2h1.0M346.9 386.4h1.0M335.6 392.4h1.0M336.7 392.3h1.0M340.4 389.8h1.0M330.3 393.8h1.0M337.3 384.6h1.0M340.4 391.2h1.0M341.8 393.0h1.0M328.4 391.2h1.0M340.1 397.7h1.0M334.9 395.9h1.0M343.9 394.3h1.0M344.7 395.9h1.0M330.2 387.3h1.0M343.0 388.8h1.0M331.0 393.0h1.0M333.8 396.9h1.0M324.6 394.5h1.0M337.1 398.2h1.0M338.5 394.7h1.0M330.2 394.3h1.0M337.9 393.2h1.0M336.9 393.3h1.0M333.6 396.0h1.0M335.9 388.9h1.0M341.4 396.4h1.0M342.8 391.1h1.0M339.9 394.9h1.0M335.7 385.8h1.0M329.9 392.7h1.0M342.3 395.4h1.0M332.8 394.0h1.0M335.3 389.7h1.0M335.8 396.9h1.0M329.2 391.1h1.0M335.8 388.4h1.0M330.4 395.1h1.0M348.9 393.4h1.0M336.9 384.4h1.0M332.7 384.2h1.0M342.0 391.5h1.0M332.2 391.2h1.0M329.5 388.8h1.0M338.1 393.7h1.0M328.7 369.5h1.0M322.8 380.4h1.0M328.1 373.5h1.0M328.6 367.0h1.0M331.3 368.7h1.0M327.1 374.6h1.0M329.6 367.2h1.0M328.8 367.4h1.0M332.7 362.7h1.0M331.4 371.9h1.0M328.2 372.9h1.0M333.2 357.5h1.0M335.5 362.0h1.0M323.8 377.7h1.0M335.6 360.4h1.0M332.9 367.4h1.0M325.8 375.5h1.0M334.1 359.6h1.0M328.4 368.7h1.0M326.2 373.1h1.0M320.6 379.8h1.0M322.0 376.7h1.0M326.0 377.3h1.0M324.2 379.4h1.0M326.6 370.6h1.0M322.1 380.1h1.0M327.7 374.0h1.0M325.9 367.5h1.0M330.0 372.5h1.0M328.1 371.3h1.0M329.8 369.3h1.0M337.1 357.5h1.0M329.8 371.3h1.0M329.9 362.9h1.0M329.4 367.9h1.0M324.6 379.1h1.0M325.7 375.7h1.0M325.6 376.5h1.0M332.7 361.5h1.0M325.3 378.1h1.0M324.9 379.0h1.0M329.4 366.2h1.0M326.1 378.1h1.0M331.0 367.2h1.0M328.8 373.4h1.0M325.9 375.3h1.0M329.7 373.0h1.0M326.8 372.3h1.0M329.0 369.0h1.0M327.2 374.1h1.0M326.3 372.7h1.0M329.0 370.1h1.0M326.8 372.7h1.0M323.8 374.8h1.0M325.6 371.2h1.0M333.3 370.1h1.0M327.2 372.0h1.0M327.6 370.6h1.0M326.1 376.8h1.0M329.9 364.3h1.0M328.8 367.3h1.0M330.2 365.4h1.0M329.1 367.2h1.0M327.4 373.2h1.0M330.4 363.2h1.0M326.1 371.3h1.0M322.1 380.5h1.0M327.3 371.3h1.0M325.2 380.9h1.0M324.9 367.2h1.0M304.3 393.7h1.0M302.9 392.8h1.0M300.4 392.6h1.0" stroke="#1a1a1a" stroke-width="1.0" fill="none" opacity="1"/>
<rect x="295.9" y="316.7" width="82.70000000000005" height="83.5" stroke="#111" stroke-width="1.3" fill="none"/>
<line x1="295.9" y1="400.5" x2="378.6" y2="400.5" stroke="#111" stroke-width="1.6"/>
<line x1="313.4" y1="316.7" x2="313.4" y2="400.2" stroke="#111" stroke-width="1.2"/>
<line x1="295.9" y1="384.1" x2="378.6" y2="384.1" stroke="#111" stroke-width="1.2"/>
<path d="M295.90 400.2v3M302.12 400.2v1.7M305.76 400.2v1.7M308.35 400.2v1.7M310.35 400.2v1.7M311.99 400.2v1.7M313.37 400.2v1.7M314.57 400.2v1.7M315.63 400.2v1.7M316.57 400.2v3M322.80 400.2v1.7M326.44 400.2v1.7M329.02 400.2v1.7M331.03 400.2v1.7M332.66 400.2v1.7M334.05 400.2v1.7M335.25 400.2v1.7M336.30 400.2v1.7M337.25 400.2v3M343.47 400.2v1.7M347.11 400.2v1.7M349.70 400.2v1.7M351.70 400.2v1.7M353.34 400.2v1.7M354.72 400.2v1.7M355.92 400.2v1.7M356.98 400.2v1.7M357.93 400.2v3M364.15 400.2v1.7M367.79 400.2v1.7M370.37 400.2v1.7M372.38 400.2v1.7M374.01 400.2v1.7M375.40 400.2v1.7M376.60 400.2v1.7M377.65 400.2v1.7" stroke="#111" stroke-width="0.8" fill="none"/>
<path d="M295.9 400.20h-3M295.9 393.92h-1.7M295.9 390.24h-1.7M295.9 387.63h-1.7M295.9 385.61h-1.7M295.9 383.96h-1.7M295.9 382.56h-1.7M295.9 381.35h-1.7M295.9 380.28h-1.7M295.9 379.32h-3M295.9 373.04h-1.7M295.9 369.37h-1.7M295.9 366.76h-1.7M295.9 364.73h-1.7M295.9 363.08h-1.7M295.9 361.68h-1.7M295.9 360.47h-1.7M295.9 359.41h-1.7M295.9 358.45h-3M295.9 352.17h-1.7M295.9 348.49h-1.7M295.9 345.88h-1.7M295.9 343.86h-1.7M295.9 342.21h-1.7M295.9 340.81h-1.7M295.9 339.60h-1.7M295.9 338.53h-1.7M295.9 337.57h-3M295.9 331.29h-1.7M295.9 327.62h-1.7M295.9 325.01h-1.7M295.9 322.98h-1.7M295.9 321.33h-1.7M295.9 319.93h-1.7M295.9 318.72h-1.7M295.9 317.66h-1.7" stroke="#111" stroke-width="0.8" fill="none"/>
<text x="292.7" y="408.6" font-size="6.3" font-weight="bold" fill="#111" stroke="#111" stroke-width="0.08" textLength="4.8" lengthAdjust="spacingAndGlyphs">10</text>
<text x="297.7" y="406.1" font-size="5" font-weight="bold" fill="#111" stroke="#111" stroke-width="0.1">0</text>
<g transform="translate(291.5 403.6) rotate(-90)"><text x="0" y="0" font-size="6.5" font-weight="bold" fill="#111" stroke="#111" stroke-width="0.08" textLength="5" lengthAdjust="spacingAndGlyphs">10</text><text x="5.2" y="-2.8" font-size="5.2" font-weight="bold" fill="#111" stroke="#111" stroke-width="0.1">0</text></g>
<text x="313.4" y="408.6" font-size="6.3" font-weight="bold" fill="#111" stroke="#111" stroke-width="0.08" textLength="4.8" lengthAdjust="spacingAndGlyphs">10</text>
<text x="318.4" y="406.1" font-size="5" font-weight="bold" fill="#111" stroke="#111" stroke-width="0.1">1</text>
<g transform="translate(291.5 382.7) rotate(-90)"><text x="0" y="0" font-size="6.5" font-weight="bold" fill="#111" stroke="#111" stroke-width="0.08" textLength="5" lengthAdjust="spacingAndGlyphs">10</text><text x="5.2" y="-2.8" font-size="5.2" font-weight="bold" fill="#111" stroke="#111" stroke-width="0.1">1</text></g>
<text x="334.1" y="408.6" font-size="6.3" font-weight="bold" fill="#111" stroke="#111" stroke-width="0.08" textLength="4.8" lengthAdjust="spacingAndGlyphs">10</text>
<text x="339.1" y="406.1" font-size="5" font-weight="bold" fill="#111" stroke="#111" stroke-width="0.1">2</text>
<g transform="translate(291.5 361.8) rotate(-90)"><text x="0" y="0" font-size="6.5" font-weight="bold" fill="#111" stroke="#111" stroke-width="0.08" textLength="5" lengthAdjust="spacingAndGlyphs">10</text><text x="5.2" y="-2.8" font-size="5.2" font-weight="bold" fill="#111" stroke="#111" stroke-width="0.1">2</text></g>
<text x="354.7" y="408.6" font-size="6.3" font-weight="bold" fill="#111" stroke="#111" stroke-width="0.08" textLength="4.8" lengthAdjust="spacingAndGlyphs">10</text>
<text x="359.7" y="406.1" font-size="5" font-weight="bold" fill="#111" stroke="#111" stroke-width="0.1">3</text>
<g transform="translate(291.5 341.0) rotate(-90)"><text x="0" y="0" font-size="6.5" font-weight="bold" fill="#111" stroke="#111" stroke-width="0.08" textLength="5" lengthAdjust="spacingAndGlyphs">10</text><text x="5.2" y="-2.8" font-size="5.2" font-weight="bold" fill="#111" stroke="#111" stroke-width="0.1">3</text></g>
<text x="375.4" y="408.6" font-size="6.3" font-weight="bold" fill="#111" stroke="#111" stroke-width="0.08" textLength="4.8" lengthAdjust="spacingAndGlyphs">10</text>
<text x="380.4" y="406.1" font-size="5" font-weight="bold" fill="#111" stroke="#111" stroke-width="0.1">4</text>
<g transform="translate(291.5 320.1) rotate(-90)"><text x="0" y="0" font-size="6.5" font-weight="bold" fill="#111" stroke="#111" stroke-width="0.08" textLength="5" lengthAdjust="spacingAndGlyphs">10</text><text x="5.2" y="-2.8" font-size="5.2" font-weight="bold" fill="#111" stroke="#111" stroke-width="0.1">4</text></g>
<text x="283" y="388.5" font-size="12.4" text-anchor="start" font-weight="normal" fill="#111" transform="rotate(-90 283 388.5)"  textLength="60" lengthAdjust="spacingAndGlyphs" stroke="#111" stroke-width="0.4">CD15+14PE</text>
<text x="301.6" y="326.9" font-size="9.4" text-anchor="start" font-weight="bold" fill="#111"  textLength="5" lengthAdjust="spacingAndGlyphs" stroke="#111" stroke-width="0.3">3</text>
<text x="317" y="326.8" font-size="8.8" text-anchor="start" font-weight="normal" fill="#111"  textLength="54" lengthAdjust="spacingAndGlyphs" stroke="#111" stroke-width="0.35">myeloid cells</text>
<path d="M474.3 332.9h1.0M469.0 332.9h1.0M471.6 339.9h1.0M474.5 334.0h1.0M471.8 338.9h1.0M470.9 333.3h1.0M477.5 335.8h1.0M480.1 334.8h1.0M472.6 337.7h1.0M474.9 336.2h1.0M469.7 334.1h1.0M470.5 334.7h1.0M479.9 332.6h1.0M476.1 337.4h1.0M466.9 340.1h1.0M475.1 337.3h1.0M474.9 339.4h1.0M475.8 333.7h1.0M471.1 333.4h1.0M470.4 333.5h1.0M475.1 339.3h1.0M473.1 339.7h1.0M479.2 338.0h1.0M466.5 327.9h1.0M478.9 337.4h1.0M467.6 334.0h1.0M475.0 336.0h1.0M468.1 336.3h1.0M467.3 335.7h1.0M476.8 336.8h1.0M471.4 338.4h1.0M482.9 334.5h1.0M474.6 331.2h1.0M477.6 330.3h1.0M473.0 339.3h1.0M476.7 324.8h1.0M470.3 328.1h1.0M472.6 331.2h1.0M484.3 339.4h1.0M469.4 335.4h1.0M462.2 342.0h1.0M467.6 340.8h1.0M456.9 325.4h1.0M455.9 333.4h1.0M458.8 369.1h1.0M460.3 371.9h1.0M456.7 376.0h1.0M454.4 379.2h1.0M456.8 372.9h1.0M454.1 372.8h1.0M455.5 376.8h1.0M455.3 374.9h1.0M461.6 374.8h1.0M452.4 381.8h1.0M456.4 374.6h1.0M454.0 376.8h1.0M457.4 374.4h1.0M454.8 375.3h1.0M458.4 375.5h1.0M455.2 377.1h1.0M458.7 372.8h1.0M453.7 377.7h1.0M456.8 371.9h1.0M456.7 374.3h1.0M454.4 380.4h1.0M457.4 371.7h1.0M460.1 369.8h1.0M453.5 375.4h1.0M459.7 368.4h1.0M457.5 374.4h1.0M454.8 378.0h1.0M459.6 370.8h1.0M455.0 394.1h1.0M455.4 397.1h1.0M458.4 391.5h1.0M456.0 389.3h1.0M458.0 387.7h1.0M454.9 385.3h1.0M465.8 392.4h1.0M455.3 393.2h1.0M447.5 397.7h1.0M447.6 393.9h1.0M453.3 394.5h1.0M457.9 392.2h1.0M459.6 389.6h1.0M456.1 389.6h1.0M452.0 386.1h1.0M456.7 398.9h1.0M458.3 351.1h1.0M459.5 358.3h1.0M449.1 356.4h1.0M459.2 346.9h1.0M467.0 356.7h1.0M467.4 365.0h1.0M453.8 364.1h1.0M469.4 374.9h1.0" stroke="#1a1a1a" stroke-width="1.0" fill="none" opacity="1"/>
<rect x="425.9" y="316.3" width="80.70000000000005" height="83.59999999999997" stroke="#111" stroke-width="1.3" fill="none"/>
<line x1="425.9" y1="400.2" x2="506.6" y2="400.2" stroke="#111" stroke-width="1.6"/>
<line x1="443.5" y1="316.3" x2="443.5" y2="399.9" stroke="#111" stroke-width="1.2"/>
<line x1="425.9" y1="382.1" x2="506.6" y2="382.1" stroke="#111" stroke-width="1.2"/>
<path d="M425.90 399.9v3M431.97 399.9v1.7M435.53 399.9v1.7M438.05 399.9v1.7M440.00 399.9v1.7M441.60 399.9v1.7M442.95 399.9v1.7M444.12 399.9v1.7M445.15 399.9v1.7M446.07 399.9v3M452.15 399.9v1.7M455.70 399.9v1.7M458.22 399.9v1.7M460.18 399.9v1.7M461.77 399.9v1.7M463.12 399.9v1.7M464.29 399.9v1.7M465.33 399.9v1.7M466.25 399.9v3M472.32 399.9v1.7M475.88 399.9v1.7M478.40 399.9v1.7M480.35 399.9v1.7M481.95 399.9v1.7M483.30 399.9v1.7M484.47 399.9v1.7M485.50 399.9v1.7M486.43 399.9v3M492.50 399.9v1.7M496.05 399.9v1.7M498.57 399.9v1.7M500.53 399.9v1.7M502.12 399.9v1.7M503.47 399.9v1.7M504.64 399.9v1.7M505.68 399.9v1.7" stroke="#111" stroke-width="0.8" fill="none"/>
<path d="M425.9 399.90h-3M425.9 393.61h-1.7M425.9 389.93h-1.7M425.9 387.32h-1.7M425.9 385.29h-1.7M425.9 383.64h-1.7M425.9 382.24h-1.7M425.9 381.03h-1.7M425.9 379.96h-1.7M425.9 379.00h-3M425.9 372.71h-1.7M425.9 369.03h-1.7M425.9 366.42h-1.7M425.9 364.39h-1.7M425.9 362.74h-1.7M425.9 361.34h-1.7M425.9 360.13h-1.7M425.9 359.06h-1.7M425.9 358.10h-3M425.9 351.81h-1.7M425.9 348.13h-1.7M425.9 345.52h-1.7M425.9 343.49h-1.7M425.9 341.84h-1.7M425.9 340.44h-1.7M425.9 339.23h-1.7M425.9 338.16h-1.7M425.9 337.20h-3M425.9 330.91h-1.7M425.9 327.23h-1.7M425.9 324.62h-1.7M425.9 322.59h-1.7M425.9 320.94h-1.7M425.9 319.54h-1.7M425.9 318.33h-1.7M425.9 317.26h-1.7" stroke="#111" stroke-width="0.8" fill="none"/>
<text x="422.7" y="408.3" font-size="6.3" font-weight="bold" fill="#111" stroke="#111" stroke-width="0.08" textLength="4.8" lengthAdjust="spacingAndGlyphs">10</text>
<text x="427.7" y="405.8" font-size="5" font-weight="bold" fill="#111" stroke="#111" stroke-width="0.1">0</text>
<g transform="translate(421.5 403.3) rotate(-90)"><text x="0" y="0" font-size="6.5" font-weight="bold" fill="#111" stroke="#111" stroke-width="0.08" textLength="5" lengthAdjust="spacingAndGlyphs">10</text><text x="5.2" y="-2.8" font-size="5.2" font-weight="bold" fill="#111" stroke="#111" stroke-width="0.1">0</text></g>
<text x="442.9" y="408.3" font-size="6.3" font-weight="bold" fill="#111" stroke="#111" stroke-width="0.08" textLength="4.8" lengthAdjust="spacingAndGlyphs">10</text>
<text x="447.9" y="405.8" font-size="5" font-weight="bold" fill="#111" stroke="#111" stroke-width="0.1">1</text>
<g transform="translate(421.5 382.4) rotate(-90)"><text x="0" y="0" font-size="6.5" font-weight="bold" fill="#111" stroke="#111" stroke-width="0.08" textLength="5" lengthAdjust="spacingAndGlyphs">10</text><text x="5.2" y="-2.8" font-size="5.2" font-weight="bold" fill="#111" stroke="#111" stroke-width="0.1">1</text></g>
<text x="463.1" y="408.3" font-size="6.3" font-weight="bold" fill="#111" stroke="#111" stroke-width="0.08" textLength="4.8" lengthAdjust="spacingAndGlyphs">10</text>
<text x="468.1" y="405.8" font-size="5" font-weight="bold" fill="#111" stroke="#111" stroke-width="0.1">2</text>
<g transform="translate(421.5 361.5) rotate(-90)"><text x="0" y="0" font-size="6.5" font-weight="bold" fill="#111" stroke="#111" stroke-width="0.08" textLength="5" lengthAdjust="spacingAndGlyphs">10</text><text x="5.2" y="-2.8" font-size="5.2" font-weight="bold" fill="#111" stroke="#111" stroke-width="0.1">2</text></g>
<text x="483.2" y="408.3" font-size="6.3" font-weight="bold" fill="#111" stroke="#111" stroke-width="0.08" textLength="4.8" lengthAdjust="spacingAndGlyphs">10</text>
<text x="488.2" y="405.8" font-size="5" font-weight="bold" fill="#111" stroke="#111" stroke-width="0.1">3</text>
<g transform="translate(421.5 340.6) rotate(-90)"><text x="0" y="0" font-size="6.5" font-weight="bold" fill="#111" stroke="#111" stroke-width="0.08" textLength="5" lengthAdjust="spacingAndGlyphs">10</text><text x="5.2" y="-2.8" font-size="5.2" font-weight="bold" fill="#111" stroke="#111" stroke-width="0.1">3</text></g>
<text x="503.4" y="408.3" font-size="6.3" font-weight="bold" fill="#111" stroke="#111" stroke-width="0.08" textLength="4.8" lengthAdjust="spacingAndGlyphs">10</text>
<text x="508.4" y="405.8" font-size="5" font-weight="bold" fill="#111" stroke="#111" stroke-width="0.1">4</text>
<g transform="translate(421.5 319.7) rotate(-90)"><text x="0" y="0" font-size="6.5" font-weight="bold" fill="#111" stroke="#111" stroke-width="0.08" textLength="5" lengthAdjust="spacingAndGlyphs">10</text><text x="5.2" y="-2.8" font-size="5.2" font-weight="bold" fill="#111" stroke="#111" stroke-width="0.1">4</text></g>
<text x="413.8" y="379.5" font-size="12.4" text-anchor="start" font-weight="normal" fill="#111" transform="rotate(-90 413.8 379.5)"  textLength="43" lengthAdjust="spacingAndGlyphs" stroke="#111" stroke-width="0.4">CD1aPE</text>
<text x="429" y="326.8" font-size="8.8" text-anchor="start" font-weight="bold" fill="#111"  textLength="5.2" lengthAdjust="spacingAndGlyphs" stroke="#111" stroke-width="0.3">4</text>
<text x="439" y="326.8" font-size="8.8" text-anchor="start" font-weight="bold" fill="#111"  stroke="#111" stroke-width="0.3">:</text>
<text x="445.4" y="326.8" font-size="8.8" text-anchor="start" font-weight="normal" fill="#111"  textLength="57.5" lengthAdjust="spacingAndGlyphs" stroke="#111" stroke-width="0.35">dendritic cells</text>
<line x1="31" y1="416.4" x2="121.5" y2="416.4" stroke="#111" stroke-width="1.3"/>
<line x1="134" y1="415" x2="252.8" y2="415" stroke="#111" stroke-width="1.3"/>
<text x="253.4" y="417.3" font-size="10.6" text-anchor="start" font-weight="normal" fill="#111"  textLength="31" lengthAdjust="spacingAndGlyphs" stroke="#111" stroke-width="0.3">EGPP</text>
<line x1="284" y1="414.8" x2="493" y2="414.8" stroke="#111" stroke-width="1.3"/>
<polygon points="507,414.8 491,412.2 491,417.4" fill="#111"/>
</svg>
</body></html>
